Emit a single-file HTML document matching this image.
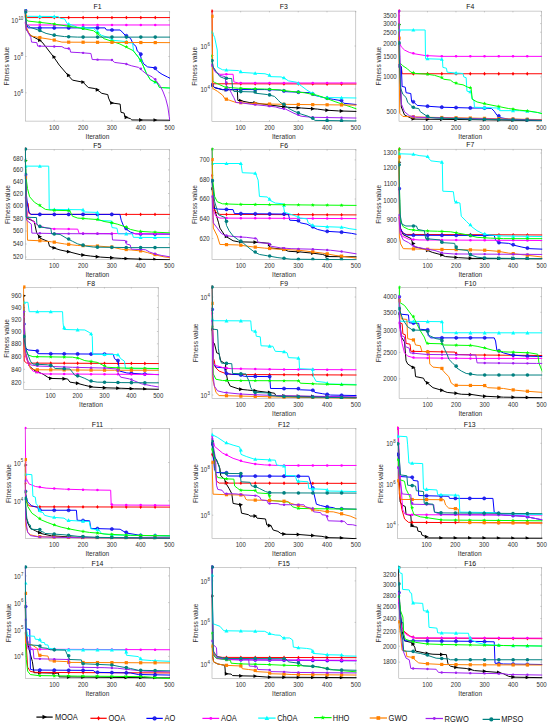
<!DOCTYPE html>
<html><head><meta charset="utf-8"><title>Convergence curves</title>
<style>html,body{margin:0;padding:0;background:#fff;}body{width:550px;height:727px;overflow:hidden;font-family:"Liberation Sans", sans-serif;}svg{display:block;}</style>
</head><body>
<svg width="550" height="727" viewBox="0 0 550 727" font-family='"Liberation Sans", sans-serif'>
<rect width="550" height="727" fill="#ffffff"/>
<clipPath id="c0"><rect x="24.7" y="9" width="145.5" height="112.7"/></clipPath>
<rect x="25.3" y="11.2" width="144.3" height="109.9" fill="none" stroke="#9a9a9a" stroke-width="0.5"/>
<text transform="translate(54.16 129.8) scale(1 1.08)" font-size="6.1" fill="#303030" text-anchor="middle">100</text>
<text transform="translate(83.02 129.8) scale(1 1.08)" font-size="6.1" fill="#303030" text-anchor="middle">200</text>
<text transform="translate(111.88 129.8) scale(1 1.08)" font-size="6.1" fill="#303030" text-anchor="middle">300</text>
<text transform="translate(140.74 129.8) scale(1 1.08)" font-size="6.1" fill="#303030" text-anchor="middle">400</text>
<text transform="translate(169.6 129.8) scale(1 1.08)" font-size="6.1" fill="#303030" text-anchor="middle">500</text>
<text transform="translate(18.11 23.3) scale(1 1.08)" font-size="6.1" fill="#303030" text-anchor="end">10</text>
<text transform="translate(18.41 20.1) scale(1 1.08)" font-size="4.4" fill="#303030" text-anchor="start">10</text>
<text transform="translate(20.55 59.5) scale(1 1.08)" font-size="6.1" fill="#303030" text-anchor="end">10</text>
<text transform="translate(20.85 56.3) scale(1 1.08)" font-size="4.4" fill="#303030" text-anchor="start">8</text>
<text transform="translate(20.55 95.8) scale(1 1.08)" font-size="6.1" fill="#303030" text-anchor="end">10</text>
<text transform="translate(20.85 92.6) scale(1 1.08)" font-size="4.4" fill="#303030" text-anchor="start">6</text>
<path d="M54.16 121.1v-1.3M54.16 11.2v1.3M83.02 121.1v-1.3M83.02 11.2v1.3M111.88 121.1v-1.3M111.88 11.2v1.3M140.74 121.1v-1.3M140.74 11.2v1.3M169.6 121.1v-1.3M169.6 11.2v1.3M25.3 20.3h1.3M169.6 20.3h-1.3M25.3 56.5h1.3M169.6 56.5h-1.3M25.3 92.8h1.3M169.6 92.8h-1.3" stroke="#9a9a9a" stroke-width="0.5" fill="none"/>
<text transform="translate(97.45 9.4) scale(1 1.08)" font-size="6.9" fill="#111" text-anchor="middle">F1</text>
<text transform="translate(97.45 138.5) scale(1 1.08)" font-size="6.6" fill="#303030" text-anchor="middle">Iteration</text>
<text transform="translate(8.7 66.15) rotate(-90)" font-size="6.6" fill="#303030" text-anchor="middle">Fitness value</text>
<g clip-path="url(#c0)" fill="none" stroke-linejoin="miter" stroke-miterlimit="2.5">
<path d="M25 11L26.32 29.47L30.27 35.27L38.18 39.49L42.14 42.13L54 57.43L59.27 65.08L67.18 74.31L72.45 80.11L83 82.22L88.27 87.5L94.86 88.55L99.08 91.19L101.72 93.3L107.78 94.62L108.57 98.05L110.68 102.8L120.17 104.12L120.96 112.29L124.13 113.09L124.92 117.04L130.45 118.63L131.77 119.94L170 120.21" stroke="#000000" stroke-width="1.0"/>
<path d="M23.63 9.05L27.53 11L23.63 12.95Z" fill="#000000"/><path d="M38.06 38.19L41.96 40.14L38.06 42.09Z" fill="#000000"/><path d="M52.49 54.94L56.39 56.89L52.49 58.84Z" fill="#000000"/><path d="M66.92 73.28L70.82 75.23L66.92 77.18Z" fill="#000000"/><path d="M81.35 80.16L85.25 82.11L81.35 84.06Z" fill="#000000"/><path d="M95.78 87.86L99.68 89.81L95.78 91.76Z" fill="#000000"/><path d="M110.21 100.94L114.11 102.89L110.21 104.84Z" fill="#000000"/><path d="M124.64 115.33L128.54 117.28L124.64 119.23Z" fill="#000000"/><path d="M139.07 118.05L142.97 120L139.07 121.95Z" fill="#000000"/><path d="M153.5 118.15L157.4 120.1L153.5 122.05Z" fill="#000000"/>
<path d="M25 11L25.79 16.28L27.11 17.59L170 17.59" stroke="#ff0000" stroke-width="1.0"/>
<path d="M25.39 9.1L26.69 11L25.39 12.9L24.09 11Z" fill="#ff0000"/><path d="M39.82 15.69L41.12 17.59L39.82 19.49L38.52 17.59Z" fill="#ff0000"/><path d="M54.25 15.69L55.55 17.59L54.25 19.49L52.95 17.59Z" fill="#ff0000"/><path d="M68.68 15.69L69.98 17.59L68.68 19.49L67.38 17.59Z" fill="#ff0000"/><path d="M83.11 15.69L84.41 17.59L83.11 19.49L81.81 17.59Z" fill="#ff0000"/><path d="M97.54 15.69L98.84 17.59L97.54 19.49L96.24 17.59Z" fill="#ff0000"/><path d="M111.97 15.69L113.27 17.59L111.97 19.49L110.67 17.59Z" fill="#ff0000"/><path d="M126.4 15.69L127.7 17.59L126.4 19.49L125.1 17.59Z" fill="#ff0000"/><path d="M140.83 15.69L142.13 17.59L140.83 19.49L139.53 17.59Z" fill="#ff0000"/><path d="M155.26 15.69L156.56 17.59L155.26 19.49L153.96 17.59Z" fill="#ff0000"/>
<path d="M25 10.47L26.32 24.19L28.16 27.88L105.15 27.88L106.46 29.99L120.17 29.99L122.28 32.1L126.24 36.32L130.45 38.17L133.09 43.71L135.99 46.35L137.31 51.1L139.95 53.21L141.26 58.75L143.64 63.76L147.59 66.92L154.18 67.71L158.14 71.67L162.09 74.31L167.36 76.95L170 78.27" stroke="#0000ff" stroke-width="1.0"/>
<circle cx="25.39" cy="10.47" r="1.6" fill="#2828e0" stroke="#0000ff" stroke-width="0.5"/><circle cx="39.82" cy="27.88" r="1.6" fill="#2828e0" stroke="#0000ff" stroke-width="0.5"/><circle cx="54.25" cy="27.88" r="1.6" fill="#2828e0" stroke="#0000ff" stroke-width="0.5"/><circle cx="68.68" cy="27.88" r="1.6" fill="#2828e0" stroke="#0000ff" stroke-width="0.5"/><circle cx="83.11" cy="27.88" r="1.6" fill="#2828e0" stroke="#0000ff" stroke-width="0.5"/><circle cx="97.54" cy="27.88" r="1.6" fill="#2828e0" stroke="#0000ff" stroke-width="0.5"/><circle cx="111.97" cy="29.99" r="1.6" fill="#2828e0" stroke="#0000ff" stroke-width="0.5"/><circle cx="126.4" cy="35.79" r="1.6" fill="#2828e0" stroke="#0000ff" stroke-width="0.5"/><circle cx="140.83" cy="54.14" r="1.6" fill="#2828e0" stroke="#0000ff" stroke-width="0.5"/><circle cx="155.26" cy="68.13" r="1.6" fill="#2828e0" stroke="#0000ff" stroke-width="0.5"/>
<path d="M25 22.87L26.05 24.19L27.64 24.98L170 24.98" stroke="#ff00ff" stroke-width="1.0"/>
<circle cx="25.39" cy="22.87" r="1.25" fill="#ff00ff"/><circle cx="39.82" cy="24.98" r="1.25" fill="#ff00ff"/><circle cx="54.25" cy="24.98" r="1.25" fill="#ff00ff"/><circle cx="68.68" cy="24.98" r="1.25" fill="#ff00ff"/><circle cx="83.11" cy="24.98" r="1.25" fill="#ff00ff"/><circle cx="97.54" cy="24.98" r="1.25" fill="#ff00ff"/><circle cx="111.97" cy="24.98" r="1.25" fill="#ff00ff"/><circle cx="126.4" cy="24.98" r="1.25" fill="#ff00ff"/><circle cx="140.83" cy="24.98" r="1.25" fill="#ff00ff"/><circle cx="155.26" cy="24.98" r="1.25" fill="#ff00ff"/>
<path d="M25 11L26.05 16.28L57.95 16.54L60.59 18.39L64.55 18.91L67.18 23.66L71.14 24.72L77.73 27.35L93.55 28.41L97.5 32.1L101.45 35.27L108.57 37.64L112.79 40.28L126.24 41.6L128.35 42.92L132.56 42.92L133.62 51.1L138.36 57.16L142.32 63.76L146.27 72.99L150.23 79.59L154.18 81.7L156.82 82.22L159.45 87.5L170 88.03" stroke="#00ffff" stroke-width="1.0"/>
<path d="M25.39 9L27.39 12.6L23.39 12.6Z" fill="#00ffff"/><path d="M39.82 14.38L41.82 17.98L37.82 17.98Z" fill="#00ffff"/><path d="M54.25 14.5L56.25 18.1L52.25 18.1Z" fill="#00ffff"/><path d="M68.68 21.88L70.68 25.48L66.68 25.48Z" fill="#00ffff"/><path d="M83.11 25.67L85.11 29.27L81.11 29.27Z" fill="#00ffff"/><path d="M97.54 29.52L99.54 33.12L95.54 33.12Z" fill="#00ffff"/><path d="M111.97 37.35L113.97 40.95L109.97 40.95Z" fill="#00ffff"/><path d="M126.4 39.55L128.4 43.15L124.4 43.15Z" fill="#00ffff"/><path d="M140.83 58.17L142.83 61.77L138.83 61.77Z" fill="#00ffff"/><path d="M155.26 79.78L157.26 83.38L153.26 83.38Z" fill="#00ffff"/>
<path d="M25 11L26.32 18.91L27.64 21.02L51.36 23.66L77.73 27.62L93.55 30.78L98.82 34.74L104.09 38.7L112 41.34L119.91 43.97L127.82 47.93L133.09 50.57L138.36 57.16L142.32 63.76L146.27 72.99L150.23 79.59L154.18 81.7L156.82 82.22L159.45 87.5L170 88.03" stroke="#00ff00" stroke-width="1.0"/>
<path d="M25.39 8.9L25.92 10.27L27.38 10.35L26.24 11.28L26.62 12.7L25.39 11.9L24.15 12.7L24.53 11.28L23.39 10.35L24.86 10.27Z" fill="#00ff00"/><path d="M39.82 20.2L40.35 21.58L41.81 21.66L40.67 22.58L41.05 24L39.82 23.2L38.58 24L38.96 22.58L37.82 21.66L39.29 21.58Z" fill="#00ff00"/><path d="M54.25 21.9L54.78 23.27L56.24 23.35L55.1 24.27L55.48 25.69L54.25 24.9L53.01 25.69L53.39 24.27L52.25 23.35L53.72 23.27Z" fill="#00ff00"/><path d="M68.68 24.06L69.21 25.43L70.67 25.51L69.53 26.44L69.91 27.86L68.68 27.06L67.44 27.86L67.82 26.44L66.68 25.51L68.15 25.43Z" fill="#00ff00"/><path d="M83.11 26.46L83.64 27.84L85.1 27.91L83.96 28.84L84.34 30.26L83.11 29.46L81.87 30.26L82.25 28.84L81.11 27.91L82.58 27.84Z" fill="#00ff00"/><path d="M97.54 31.18L98.07 32.56L99.53 32.64L98.39 33.56L98.77 34.98L97.54 34.18L96.3 34.98L96.68 33.56L95.54 32.64L97.01 32.56Z" fill="#00ff00"/><path d="M111.97 39L112.5 40.38L113.96 40.46L112.82 41.38L113.2 42.8L111.97 42L110.73 42.8L111.11 41.38L109.97 40.46L111.44 40.38Z" fill="#00ff00"/><path d="M126.4 44.79L126.93 46.16L128.39 46.24L127.25 47.17L127.63 48.59L126.4 47.79L125.16 48.59L125.54 47.17L124.4 46.24L125.87 46.16Z" fill="#00ff00"/><path d="M140.83 58.07L141.36 59.44L142.82 59.52L141.68 60.45L142.06 61.87L140.83 61.07L139.59 61.87L139.97 60.45L138.83 59.52L140.3 59.44Z" fill="#00ff00"/><path d="M155.26 79.68L155.79 81.05L157.25 81.13L156.11 82.06L156.49 83.48L155.26 82.68L154.02 83.48L154.4 82.06L153.26 81.13L154.73 81.05Z" fill="#00ff00"/>
<path d="M25 16.01L26.32 26.83L28.95 33.42L31.59 36.06L38.18 37.38L51.36 39.49L61.91 42.13L170 42.65" stroke="#ff8000" stroke-width="1.0"/>
<rect x="23.79" y="14.41" width="3.2" height="3.2" fill="#ff8000"/><rect x="38.22" y="35.94" width="3.2" height="3.2" fill="#ff8000"/><rect x="52.65" y="38.45" width="3.2" height="3.2" fill="#ff8000"/><rect x="67.08" y="40.56" width="3.2" height="3.2" fill="#ff8000"/><rect x="81.51" y="40.63" width="3.2" height="3.2" fill="#ff8000"/><rect x="95.94" y="40.7" width="3.2" height="3.2" fill="#ff8000"/><rect x="110.37" y="40.77" width="3.2" height="3.2" fill="#ff8000"/><rect x="124.8" y="40.84" width="3.2" height="3.2" fill="#ff8000"/><rect x="139.23" y="40.91" width="3.2" height="3.2" fill="#ff8000"/><rect x="153.66" y="40.98" width="3.2" height="3.2" fill="#ff8000"/>
<path d="M25 11L26.32 29.47L30.8 37.38L31.59 42.13L36.86 42.65L37.65 46.08L61.91 46.61L64.55 48.19L69.82 48.72L70.61 52.15L80.36 52.68L90.91 53.47L92.23 59.54L112 60.06L114.64 62.44L125.18 63.76L131.77 65.87L138.63 67.45L142.58 70.88L146.8 74.31L152.34 76.95L156.29 80.9L160.51 86.44L163.15 91.98L165.78 98.84L167.89 107.02L169.21 116.52L169.74 119.94" stroke="#a020f0" stroke-width="1.0"/>
<circle cx="25.39" cy="11" r="1.2" fill="#a020f0"/><circle cx="39.82" cy="46.12" r="1.2" fill="#a020f0"/><circle cx="54.25" cy="46.43" r="1.2" fill="#a020f0"/><circle cx="68.68" cy="48.54" r="1.2" fill="#a020f0"/><circle cx="83.11" cy="52.84" r="1.2" fill="#a020f0"/><circle cx="97.54" cy="59.66" r="1.2" fill="#a020f0"/><circle cx="111.97" cy="60.05" r="1.2" fill="#a020f0"/><circle cx="126.4" cy="63.94" r="1.2" fill="#a020f0"/><circle cx="140.83" cy="68.79" r="1.2" fill="#a020f0"/><circle cx="155.26" cy="79.21" r="1.2" fill="#a020f0"/>
<path d="M25 12.32L26.32 24.19L30.27 27.35L38.18 29.99L46.09 33.42L54 35.27L64.55 36.59L77.73 37.12L170 37.12" stroke="#008080" stroke-width="1.0"/>
<circle cx="25.39" cy="12.32" r="1.8" fill="#008080"/><circle cx="39.82" cy="30.42" r="1.8" fill="#008080"/><circle cx="54.25" cy="35.17" r="1.8" fill="#008080"/><circle cx="68.68" cy="36.73" r="1.8" fill="#008080"/><circle cx="83.11" cy="37.12" r="1.8" fill="#008080"/><circle cx="97.54" cy="37.12" r="1.8" fill="#008080"/><circle cx="111.97" cy="37.12" r="1.8" fill="#008080"/><circle cx="126.4" cy="37.12" r="1.8" fill="#008080"/><circle cx="140.83" cy="37.12" r="1.8" fill="#008080"/><circle cx="155.26" cy="37.12" r="1.8" fill="#008080"/>
</g>
<clipPath id="c1"><rect x="211.3" y="8.9" width="145.1" height="113.1"/></clipPath>
<rect x="211.9" y="11.1" width="143.9" height="110.3" fill="none" stroke="#9a9a9a" stroke-width="0.5"/>
<text transform="translate(240.68 130.1) scale(1 1.08)" font-size="6.1" fill="#303030" text-anchor="middle">100</text>
<text transform="translate(269.46 130.1) scale(1 1.08)" font-size="6.1" fill="#303030" text-anchor="middle">200</text>
<text transform="translate(298.24 130.1) scale(1 1.08)" font-size="6.1" fill="#303030" text-anchor="middle">300</text>
<text transform="translate(327.02 130.1) scale(1 1.08)" font-size="6.1" fill="#303030" text-anchor="middle">400</text>
<text transform="translate(355.8 130.1) scale(1 1.08)" font-size="6.1" fill="#303030" text-anchor="middle">500</text>
<text transform="translate(207.15 49) scale(1 1.08)" font-size="6.1" fill="#303030" text-anchor="end">10</text>
<text transform="translate(207.45 45.8) scale(1 1.08)" font-size="4.4" fill="#303030" text-anchor="start">6</text>
<text transform="translate(207.15 92) scale(1 1.08)" font-size="6.1" fill="#303030" text-anchor="end">10</text>
<text transform="translate(207.45 88.8) scale(1 1.08)" font-size="4.4" fill="#303030" text-anchor="start">4</text>
<path d="M240.68 121.4v-1.3M240.68 11.1v1.3M269.46 121.4v-1.3M269.46 11.1v1.3M298.24 121.4v-1.3M298.24 11.1v1.3M327.02 121.4v-1.3M327.02 11.1v1.3M355.8 121.4v-1.3M355.8 11.1v1.3M211.9 46h1.3M355.8 46h-1.3M211.9 89h1.3M355.8 89h-1.3" stroke="#9a9a9a" stroke-width="0.5" fill="none"/>
<text transform="translate(283.85 9.3) scale(1 1.08)" font-size="6.9" fill="#111" text-anchor="middle">F3</text>
<text transform="translate(283.85 138.8) scale(1 1.08)" font-size="6.6" fill="#303030" text-anchor="middle">Iteration</text>
<text transform="translate(197.4 66.25) rotate(-90)" font-size="6.6" fill="#303030" text-anchor="middle">Fitness value</text>
<g clip-path="url(#c1)" fill="none" stroke-linejoin="miter" stroke-miterlimit="2.5">
<path d="M212 85.09L214.64 87.72L222.55 89.7L237.31 89.83L237.84 100.38L242.58 101.17L249.17 102.49L255.76 103.02L264.99 104.33L285.03 106.97L291.09 107.5L301.64 108.03L317.45 109.08L325.36 110.14L338.55 110.93L357 111.45" stroke="#000000" stroke-width="1.0"/>
<path d="M210.23 83.14L214.13 85.09L210.23 87.04Z" fill="#000000"/><path d="M224.62 87.78L228.52 89.73L224.62 91.68Z" fill="#000000"/><path d="M239.01 98.81L242.91 100.76L239.01 102.71Z" fill="#000000"/><path d="M253.4 100.97L257.3 102.92L253.4 104.87Z" fill="#000000"/><path d="M267.79 102.9L271.69 104.85L267.79 106.8Z" fill="#000000"/><path d="M282.18 104.79L286.08 106.74L282.18 108.69Z" fill="#000000"/><path d="M296.57 105.88L300.47 107.83L296.57 109.78Z" fill="#000000"/><path d="M310.96 106.77L314.86 108.72L310.96 110.67Z" fill="#000000"/><path d="M325.35 108.25L329.25 110.2L325.35 112.15Z" fill="#000000"/><path d="M339.74 109.04L343.64 110.99L339.74 112.94Z" fill="#000000"/>
<path d="M212 11L212.79 83.77L357 84.03" stroke="#ff0000" stroke-width="1.0"/>
<path d="M211.99 9.1L213.29 11L211.99 12.9L210.69 11Z" fill="#ff0000"/><path d="M226.38 81.89L227.68 83.79L226.38 85.69L225.08 83.79Z" fill="#ff0000"/><path d="M240.77 81.92L242.07 83.82L240.77 85.72L239.47 83.82Z" fill="#ff0000"/><path d="M255.16 81.95L256.46 83.85L255.16 85.75L253.86 83.85Z" fill="#ff0000"/><path d="M269.55 81.97L270.85 83.87L269.55 85.77L268.25 83.87Z" fill="#ff0000"/><path d="M283.94 82L285.24 83.9L283.94 85.8L282.64 83.9Z" fill="#ff0000"/><path d="M298.33 82.02L299.63 83.92L298.33 85.82L297.03 83.92Z" fill="#ff0000"/><path d="M312.72 82.05L314.02 83.95L312.72 85.85L311.42 83.95Z" fill="#ff0000"/><path d="M327.11 82.08L328.41 83.98L327.11 85.88L325.81 83.98Z" fill="#ff0000"/><path d="M341.5 82.1L342.8 84L341.5 85.9L340.2 84Z" fill="#ff0000"/>
<path d="M212 84.82L214.64 87.46L222.55 89.57L238.36 89.57L264.73 89.57L280.55 90.1L285.82 91.68L299 92.21L309.55 92.73L314.82 95.37L325.36 98.01L333.27 99.33L341.18 100.64L343.82 103.28L357 104.6" stroke="#0000ff" stroke-width="1.0"/>
<circle cx="211.99" cy="84.82" r="1.6" fill="#2828e0" stroke="#0000ff" stroke-width="0.5"/><circle cx="226.38" cy="89.57" r="1.6" fill="#2828e0" stroke="#0000ff" stroke-width="0.5"/><circle cx="240.77" cy="89.57" r="1.6" fill="#2828e0" stroke="#0000ff" stroke-width="0.5"/><circle cx="255.16" cy="89.57" r="1.6" fill="#2828e0" stroke="#0000ff" stroke-width="0.5"/><circle cx="269.55" cy="89.71" r="1.6" fill="#2828e0" stroke="#0000ff" stroke-width="0.5"/><circle cx="283.94" cy="90.92" r="1.6" fill="#2828e0" stroke="#0000ff" stroke-width="0.5"/><circle cx="298.33" cy="92.15" r="1.6" fill="#2828e0" stroke="#0000ff" stroke-width="0.5"/><circle cx="312.72" cy="93.99" r="1.6" fill="#2828e0" stroke="#0000ff" stroke-width="0.5"/><circle cx="327.11" cy="98.19" r="1.6" fill="#2828e0" stroke="#0000ff" stroke-width="0.5"/><circle cx="341.5" cy="100.59" r="1.6" fill="#2828e0" stroke="#0000ff" stroke-width="0.5"/>
<path d="M212 65.84L215.95 72.43L219.91 74.28L233.09 74.28L233.88 81.92L238.36 82.98L357 82.98" stroke="#ff00ff" stroke-width="1.0"/>
<circle cx="211.99" cy="65.84" r="1.25" fill="#ff00ff"/><circle cx="226.38" cy="74.28" r="1.25" fill="#ff00ff"/><circle cx="240.77" cy="82.98" r="1.25" fill="#ff00ff"/><circle cx="255.16" cy="82.98" r="1.25" fill="#ff00ff"/><circle cx="269.55" cy="82.98" r="1.25" fill="#ff00ff"/><circle cx="283.94" cy="82.98" r="1.25" fill="#ff00ff"/><circle cx="298.33" cy="82.98" r="1.25" fill="#ff00ff"/><circle cx="312.72" cy="82.98" r="1.25" fill="#ff00ff"/><circle cx="327.11" cy="82.98" r="1.25" fill="#ff00ff"/><circle cx="341.5" cy="82.98" r="1.25" fill="#ff00ff"/>
<path d="M212 32.09L214.64 37.37L217.27 50.02L217.54 67.16L222.55 69.8L226.5 70.06L238.36 70.59L241.79 72.43L254.45 73.22L264.99 73.75L268.95 75.07L270.26 76.65L281.07 76.91L284.5 78.23L288.45 80.87L296.36 82.19L301.64 86.14L306.91 90.1L312.18 93.26L317.45 95.9L322.73 97.48L357 98.01" stroke="#00ffff" stroke-width="1.0"/>
<path d="M211.99 30.09L213.99 33.69L209.99 33.69Z" fill="#00ffff"/><path d="M226.38 68.01L228.38 71.61L224.38 71.61Z" fill="#00ffff"/><path d="M240.77 69.53L242.77 73.13L238.77 73.13Z" fill="#00ffff"/><path d="M255.16 71.23L257.16 74.83L253.16 74.83Z" fill="#00ffff"/><path d="M269.55 73.05L271.55 76.65L267.55 76.65Z" fill="#00ffff"/><path d="M283.94 75.76L285.94 79.36L281.94 79.36Z" fill="#00ffff"/><path d="M298.33 81.17L300.33 84.77L296.33 84.77Z" fill="#00ffff"/><path d="M312.72 91.19L314.72 94.79L310.72 94.79Z" fill="#00ffff"/><path d="M327.11 95.54L329.11 99.14L325.11 99.14Z" fill="#00ffff"/><path d="M341.5 95.76L343.5 99.36L339.5 99.36Z" fill="#00ffff"/>
<path d="M212 55.82L212.79 80.61L214.64 82.45L219.91 84.82L225.18 87.2L238.36 88.25L251.55 88.78L264.73 89.04L277.91 89.83L291.09 91.42L304.27 92.73L317.45 95.37L325.36 98.01L335.91 101.96L343.82 104.6L351.73 107.24L357 109.08" stroke="#00ff00" stroke-width="1.0"/>
<path d="M211.99 53.72L212.52 55.09L213.98 55.17L212.84 56.1L213.22 57.52L211.99 56.72L210.75 57.52L211.13 56.1L209.99 55.17L211.46 55.09Z" fill="#00ff00"/><path d="M226.38 85.14L226.91 86.51L228.37 86.59L227.23 87.52L227.61 88.94L226.38 88.14L225.14 88.94L225.52 87.52L224.38 86.59L225.85 86.51Z" fill="#00ff00"/><path d="M240.77 86.22L241.3 87.59L242.76 87.67L241.62 88.6L242 90.02L240.77 89.22L239.53 90.02L239.91 88.6L238.77 87.67L240.24 87.59Z" fill="#00ff00"/><path d="M255.16 86.74L255.69 88.11L257.15 88.19L256.01 89.12L256.39 90.54L255.16 89.74L253.92 90.54L254.3 89.12L253.16 88.19L254.63 88.11Z" fill="#00ff00"/><path d="M269.55 87.19L270.08 88.56L271.54 88.64L270.4 89.57L270.78 90.99L269.55 90.19L268.31 90.99L268.69 89.57L267.55 88.64L269.02 88.56Z" fill="#00ff00"/><path d="M283.94 88.38L284.47 89.75L285.93 89.83L284.79 90.76L285.17 92.18L283.94 91.38L282.7 92.18L283.08 90.76L281.94 89.83L283.41 89.75Z" fill="#00ff00"/><path d="M298.33 89.97L298.86 91.35L300.32 91.42L299.18 92.35L299.56 93.77L298.33 92.97L297.09 93.77L297.47 92.35L296.33 91.42L297.8 91.35Z" fill="#00ff00"/><path d="M312.72 92.19L313.25 93.56L314.71 93.64L313.57 94.57L313.95 95.99L312.72 95.19L311.48 95.99L311.86 94.57L310.72 93.64L312.19 93.56Z" fill="#00ff00"/><path d="M327.11 96.31L327.64 97.69L329.1 97.76L327.96 98.69L328.34 100.11L327.11 99.31L325.87 100.11L326.25 98.69L325.11 97.76L326.58 97.69Z" fill="#00ff00"/><path d="M341.5 101.5L342.03 102.88L343.49 102.96L342.35 103.88L342.73 105.3L341.5 104.5L340.26 105.3L340.64 103.88L339.5 102.96L340.97 102.88Z" fill="#00ff00"/>
<path d="M212 16.27L212.79 88.52L217.27 91.15L222.55 95.11L225.18 99.06L229.14 100.12L235.99 102.49L245.22 103.02L255.76 103.81L285.03 104.33L357 105.13" stroke="#ff8000" stroke-width="1.0"/>
<rect x="210.39" y="14.67" width="3.2" height="3.2" fill="#ff8000"/><rect x="224.78" y="97.6" width="3.2" height="3.2" fill="#ff8000"/><rect x="239.17" y="101.12" width="3.2" height="3.2" fill="#ff8000"/><rect x="253.56" y="102.11" width="3.2" height="3.2" fill="#ff8000"/><rect x="267.95" y="102.44" width="3.2" height="3.2" fill="#ff8000"/><rect x="282.34" y="102.7" width="3.2" height="3.2" fill="#ff8000"/><rect x="296.73" y="102.87" width="3.2" height="3.2" fill="#ff8000"/><rect x="311.12" y="103.03" width="3.2" height="3.2" fill="#ff8000"/><rect x="325.51" y="103.19" width="3.2" height="3.2" fill="#ff8000"/><rect x="339.9" y="103.35" width="3.2" height="3.2" fill="#ff8000"/>
<path d="M212 64.52L214.64 71.11L219.91 75.33L225.18 76.65L225.97 85.09L229.14 88.52L231.77 93.79L233.88 97.74L235.99 102.49L242.58 103.02L251.81 104.33L264.99 105.65L275.8 106.97L280.02 108.29L285.55 109.08L293.99 113.3L301.11 116.2L310.86 117.25L357 118.05" stroke="#a020f0" stroke-width="1.0"/>
<circle cx="211.99" cy="64.52" r="1.2" fill="#a020f0"/><circle cx="226.38" cy="82.36" r="1.2" fill="#a020f0"/><circle cx="240.77" cy="102.82" r="1.2" fill="#a020f0"/><circle cx="255.16" cy="104.6" r="1.2" fill="#a020f0"/><circle cx="269.55" cy="106.13" r="1.2" fill="#a020f0"/><circle cx="283.94" cy="108.76" r="1.2" fill="#a020f0"/><circle cx="298.33" cy="114.8" r="1.2" fill="#a020f0"/><circle cx="312.72" cy="117.27" r="1.2" fill="#a020f0"/><circle cx="327.11" cy="117.52" r="1.2" fill="#a020f0"/><circle cx="341.5" cy="117.77" r="1.2" fill="#a020f0"/>
<path d="M212 60.57L213.32 67.16L215.95 71.11L219.91 76.65L223.86 78.23L231.77 78.5L232.56 88.52L233.88 91.42L254.45 91.94L255.76 93.26L267.63 94.58L274.48 96.43L278.44 100.38L280.02 102.23L284.24 104.86L288.45 108.29L293.99 111.19L301.11 114.09L307.96 116.2L312.18 118.31L315.08 120.42L357 120.95" stroke="#008080" stroke-width="1.0"/>
<circle cx="211.99" cy="60.57" r="1.8" fill="#008080"/><circle cx="226.38" cy="78.29" r="1.8" fill="#008080"/><circle cx="240.77" cy="91.58" r="1.8" fill="#008080"/><circle cx="255.16" cy="91.99" r="1.8" fill="#008080"/><circle cx="269.55" cy="94.92" r="1.8" fill="#008080"/><circle cx="283.94" cy="104.26" r="1.8" fill="#008080"/><circle cx="298.33" cy="112.69" r="1.8" fill="#008080"/><circle cx="312.72" cy="118.25" r="1.8" fill="#008080"/><circle cx="327.11" cy="120.56" r="1.8" fill="#008080"/><circle cx="341.5" cy="120.74" r="1.8" fill="#008080"/>
</g>
<clipPath id="c2"><rect x="398.4" y="8.9" width="143.6" height="112.9"/></clipPath>
<rect x="399" y="11.1" width="142.4" height="110.1" fill="none" stroke="#9a9a9a" stroke-width="0.5"/>
<text transform="translate(427.48 129.9) scale(1 1.08)" font-size="6.1" fill="#303030" text-anchor="middle">100</text>
<text transform="translate(455.96 129.9) scale(1 1.08)" font-size="6.1" fill="#303030" text-anchor="middle">200</text>
<text transform="translate(484.44 129.9) scale(1 1.08)" font-size="6.1" fill="#303030" text-anchor="middle">300</text>
<text transform="translate(512.92 129.9) scale(1 1.08)" font-size="6.1" fill="#303030" text-anchor="middle">400</text>
<text transform="translate(541.4 129.9) scale(1 1.08)" font-size="6.1" fill="#303030" text-anchor="middle">500</text>
<text transform="translate(396.7 18.05) scale(1 1.08)" font-size="6.1" fill="#303030" text-anchor="end">3500</text>
<text transform="translate(396.7 25.95) scale(1 1.08)" font-size="6.1" fill="#303030" text-anchor="end">3000</text>
<text transform="translate(396.7 34.55) scale(1 1.08)" font-size="6.1" fill="#303030" text-anchor="end">2500</text>
<text transform="translate(396.7 45.65) scale(1 1.08)" font-size="6.1" fill="#303030" text-anchor="end">2000</text>
<text transform="translate(396.7 58.65) scale(1 1.08)" font-size="6.1" fill="#303030" text-anchor="end">1500</text>
<text transform="translate(396.7 79.25) scale(1 1.08)" font-size="6.1" fill="#303030" text-anchor="end">1000</text>
<text transform="translate(396.7 113.55) scale(1 1.08)" font-size="6.1" fill="#303030" text-anchor="end">500</text>
<path d="M427.48 121.2v-1.3M427.48 11.1v1.3M455.96 121.2v-1.3M455.96 11.1v1.3M484.44 121.2v-1.3M484.44 11.1v1.3M512.92 121.2v-1.3M512.92 11.1v1.3M541.4 121.2v-1.3M541.4 11.1v1.3M399 15.7h1.3M541.4 15.7h-1.3M399 23.6h1.3M541.4 23.6h-1.3M399 32.2h1.3M541.4 32.2h-1.3M399 43.3h1.3M541.4 43.3h-1.3M399 56.3h1.3M541.4 56.3h-1.3M399 76.9h1.3M541.4 76.9h-1.3M399 111.2h1.3M541.4 111.2h-1.3" stroke="#9a9a9a" stroke-width="0.5" fill="none"/>
<text transform="translate(470.2 9.3) scale(1 1.08)" font-size="6.9" fill="#111" text-anchor="middle">F4</text>
<text transform="translate(470.2 138.6) scale(1 1.08)" font-size="6.6" fill="#303030" text-anchor="middle">Iteration</text>
<text transform="translate(381.3 66.15) rotate(-90)" font-size="6.6" fill="#303030" text-anchor="middle">Fitness value</text>
<g clip-path="url(#c2)" fill="none" stroke-linejoin="miter" stroke-miterlimit="2.5">
<path d="M398.79 24.71L399.42 63.73L401.32 106.97L404.49 114.88L410.81 118.05L413.19 119.1L471.82 119.63L543 120.68" stroke="#000000" stroke-width="1.0"/>
<path d="M397.33 22.76L401.23 24.71L397.33 26.66Z" fill="#000000"/><path d="M411.57 116.92L415.47 118.87L411.57 120.82Z" fill="#000000"/><path d="M425.81 117.27L429.71 119.22L425.81 121.17Z" fill="#000000"/><path d="M440.05 117.4L443.95 119.35L440.05 121.3Z" fill="#000000"/><path d="M454.29 117.53L458.19 119.48L454.29 121.43Z" fill="#000000"/><path d="M468.53 117.66L472.43 119.61L468.53 121.56Z" fill="#000000"/><path d="M482.77 117.86L486.67 119.81L482.77 121.76Z" fill="#000000"/><path d="M497.01 118.07L500.91 120.02L497.01 121.97Z" fill="#000000"/><path d="M511.25 118.28L515.15 120.23L511.25 122.18Z" fill="#000000"/><path d="M525.49 118.49L529.39 120.44L525.49 122.39Z" fill="#000000"/>
<path d="M398.79 11L399.32 65.05L401.32 66.63L402.11 73.75L543 73.75" stroke="#ff0000" stroke-width="1.0"/>
<path d="M399.09 9.1L400.39 11L399.09 12.9L397.79 11Z" fill="#ff0000"/><path d="M413.33 71.85L414.63 73.75L413.33 75.65L412.03 73.75Z" fill="#ff0000"/><path d="M427.57 71.85L428.87 73.75L427.57 75.65L426.27 73.75Z" fill="#ff0000"/><path d="M441.81 71.85L443.11 73.75L441.81 75.65L440.51 73.75Z" fill="#ff0000"/><path d="M456.05 71.85L457.35 73.75L456.05 75.65L454.75 73.75Z" fill="#ff0000"/><path d="M470.29 71.85L471.59 73.75L470.29 75.65L468.99 73.75Z" fill="#ff0000"/><path d="M484.53 71.85L485.83 73.75L484.53 75.65L483.23 73.75Z" fill="#ff0000"/><path d="M498.77 71.85L500.07 73.75L498.77 75.65L497.47 73.75Z" fill="#ff0000"/><path d="M513.01 71.85L514.31 73.75L513.01 75.65L511.71 73.75Z" fill="#ff0000"/><path d="M527.25 71.85L528.55 73.75L527.25 75.65L525.95 73.75Z" fill="#ff0000"/>
<path d="M398.79 65.84L401.32 66.63L402.11 86.41L405.28 87.2L406.07 92.73L410.81 93.52L411.6 101.43L413.98 102.23L417.14 105.39L426.63 106.18L442.42 107.24L471.82 108.03L485 108.03L491.59 108.55L494.23 111.19L496.86 115.14L500.82 117.78L508.73 119.1L543 120.15" stroke="#0000ff" stroke-width="1.0"/>
<circle cx="399.09" cy="65.84" r="1.6" fill="#2828e0" stroke="#0000ff" stroke-width="0.5"/><circle cx="413.33" cy="101.79" r="1.6" fill="#2828e0" stroke="#0000ff" stroke-width="0.5"/><circle cx="427.57" cy="106.2" r="1.6" fill="#2828e0" stroke="#0000ff" stroke-width="0.5"/><circle cx="441.81" cy="107.15" r="1.6" fill="#2828e0" stroke="#0000ff" stroke-width="0.5"/><circle cx="456.05" cy="107.58" r="1.6" fill="#2828e0" stroke="#0000ff" stroke-width="0.5"/><circle cx="470.29" cy="107.97" r="1.6" fill="#2828e0" stroke="#0000ff" stroke-width="0.5"/><circle cx="484.53" cy="108.03" r="1.6" fill="#2828e0" stroke="#0000ff" stroke-width="0.5"/><circle cx="498.77" cy="115.97" r="1.6" fill="#2828e0" stroke="#0000ff" stroke-width="0.5"/><circle cx="513.01" cy="119.21" r="1.6" fill="#2828e0" stroke="#0000ff" stroke-width="0.5"/><circle cx="527.25" cy="119.65" r="1.6" fill="#2828e0" stroke="#0000ff" stroke-width="0.5"/>
<path d="M398.79 11L399.42 42.9L401.32 46.86L404.49 50.02L409.23 52.39L413.98 53.71L425.05 55.56L442.42 56.35L543 56.35" stroke="#ff00ff" stroke-width="1.0"/>
<circle cx="399.09" cy="11" r="1.25" fill="#ff00ff"/><circle cx="413.33" cy="53.35" r="1.25" fill="#ff00ff"/><circle cx="427.57" cy="55.64" r="1.25" fill="#ff00ff"/><circle cx="441.81" cy="56.29" r="1.25" fill="#ff00ff"/><circle cx="456.05" cy="56.35" r="1.25" fill="#ff00ff"/><circle cx="470.29" cy="56.35" r="1.25" fill="#ff00ff"/><circle cx="484.53" cy="56.35" r="1.25" fill="#ff00ff"/><circle cx="498.77" cy="56.35" r="1.25" fill="#ff00ff"/><circle cx="513.01" cy="56.35" r="1.25" fill="#ff00ff"/><circle cx="527.25" cy="56.35" r="1.25" fill="#ff00ff"/>
<path d="M398.79 29.98L425.15 29.98L425.52 58.72L442.42 59.25L442.9 67.42L446.38 68.21L447.17 72.17L455.08 72.96L462.99 73.49L463.78 76.91L466.15 77.71L466.94 91.15L470.9 91.94L472 99.06L473.93 99.85L474.45 107.24L498.18 108.03L499.5 110.66L511.36 110.66L519.27 110.66L529.82 111.45L537.73 112.51L543 113.83" stroke="#00ffff" stroke-width="1.0"/>
<path d="M399.09 27.98L401.09 31.58L397.09 31.58Z" fill="#00ffff"/><path d="M413.33 27.98L415.33 31.58L411.33 31.58Z" fill="#00ffff"/><path d="M427.57 56.77L429.57 60.37L425.57 60.37Z" fill="#00ffff"/><path d="M441.81 57.21L443.81 60.81L439.81 60.81Z" fill="#00ffff"/><path d="M456.05 70.98L458.05 74.58L454.05 74.58Z" fill="#00ffff"/><path d="M470.29 89.69L472.29 93.29L468.29 93.29Z" fill="#00ffff"/><path d="M484.53 105.55L486.53 109.15L482.53 109.15Z" fill="#00ffff"/><path d="M498.77 106.02L500.77 109.62L496.77 109.62Z" fill="#00ffff"/><path d="M513.01 108.66L515.01 112.26L511.01 112.26Z" fill="#00ffff"/><path d="M527.25 109.21L529.25 112.81L525.25 112.81Z" fill="#00ffff"/>
<path d="M398.79 24.71L399.74 62.68L402.9 65.84L407.65 69L410.81 72.17L415.56 73.49L426.63 74.15L434.51 75.33L440.84 77.31L444 79.29L450.33 80.08L453.5 82.45L458.24 84.03L462.99 84.82L467.73 87.2L471.03 87.99L472.35 99.33L477.09 101.96L485 103.81L498.18 106.44L508.73 108.55L519.27 110.14L529.82 111.19L537.73 112.51L543 113.83" stroke="#00ff00" stroke-width="1.0"/>
<path d="M399.09 22.61L399.61 23.98L401.08 24.06L399.94 24.99L400.32 26.41L399.09 25.61L397.85 26.41L398.23 24.99L397.09 24.06L398.56 23.98Z" fill="#00ff00"/><path d="M413.33 70.58L413.85 71.96L415.32 72.03L414.18 72.96L414.56 74.38L413.33 73.58L412.09 74.38L412.47 72.96L411.33 72.03L412.8 71.96Z" fill="#00ff00"/><path d="M427.57 72.09L428.09 73.46L429.56 73.54L428.42 74.47L428.8 75.89L427.57 75.09L426.33 75.89L426.71 74.47L425.57 73.54L427.04 73.46Z" fill="#00ff00"/><path d="M441.81 75.4L442.33 76.77L443.8 76.85L442.66 77.78L443.04 79.2L441.81 78.4L440.57 79.2L440.95 77.78L439.81 76.85L441.28 76.77Z" fill="#00ff00"/><path d="M456.05 80.98L456.57 82.35L458.04 82.43L456.9 83.36L457.28 84.78L456.05 83.98L454.81 84.78L455.19 83.36L454.05 82.43L455.52 82.35Z" fill="#00ff00"/><path d="M470.29 85.55L470.81 86.92L472.28 87L471.14 87.93L471.52 89.35L470.29 88.55L469.05 89.35L469.43 87.93L468.29 87L469.76 86.92Z" fill="#00ff00"/><path d="M484.53 101.44L485.05 102.81L486.52 102.89L485.38 103.82L485.76 105.24L484.53 104.44L483.29 105.24L483.67 103.82L482.53 102.89L484 102.81Z" fill="#00ff00"/><path d="M498.77 104.33L499.29 105.7L500.76 105.78L499.62 106.71L500 108.13L498.77 107.33L497.53 108.13L497.91 106.71L496.77 105.78L498.24 105.7Z" fill="#00ff00"/><path d="M513.01 107L513.53 108.37L515 108.45L513.86 109.37L514.24 110.8L513.01 110L511.77 110.8L512.15 109.37L511.01 108.45L512.48 108.37Z" fill="#00ff00"/><path d="M527.25 108.77L527.77 110.14L529.24 110.22L528.1 111.14L528.48 112.57L527.25 111.77L526.01 112.57L526.39 111.14L525.25 110.22L526.72 110.14Z" fill="#00ff00"/>
<path d="M398.79 38.16L399.74 113.3L402.9 116.46L426.63 117.25L471.82 118.05L503.45 118.84L543 119.63" stroke="#ff8000" stroke-width="1.0"/>
<rect x="397.49" y="36.56" width="3.2" height="3.2" fill="#ff8000"/><rect x="411.73" y="115.19" width="3.2" height="3.2" fill="#ff8000"/><rect x="425.97" y="115.66" width="3.2" height="3.2" fill="#ff8000"/><rect x="440.21" y="115.91" width="3.2" height="3.2" fill="#ff8000"/><rect x="454.45" y="116.16" width="3.2" height="3.2" fill="#ff8000"/><rect x="468.69" y="116.41" width="3.2" height="3.2" fill="#ff8000"/><rect x="482.93" y="116.75" width="3.2" height="3.2" fill="#ff8000"/><rect x="497.17" y="117.1" width="3.2" height="3.2" fill="#ff8000"/><rect x="511.41" y="117.41" width="3.2" height="3.2" fill="#ff8000"/><rect x="525.65" y="117.7" width="3.2" height="3.2" fill="#ff8000"/>
<path d="M398.79 11L401.32 103.81L404.49 111.72L409.23 115.67L415.56 117.25L471.82 118.57L543 120.15" stroke="#a020f0" stroke-width="1.0"/>
<circle cx="399.09" cy="11" r="1.2" fill="#a020f0"/><circle cx="413.33" cy="116.53" r="1.2" fill="#a020f0"/><circle cx="427.57" cy="117.52" r="1.2" fill="#a020f0"/><circle cx="441.81" cy="117.85" r="1.2" fill="#a020f0"/><circle cx="456.05" cy="118.19" r="1.2" fill="#a020f0"/><circle cx="470.29" cy="118.52" r="1.2" fill="#a020f0"/><circle cx="484.53" cy="118.84" r="1.2" fill="#a020f0"/><circle cx="498.77" cy="119.16" r="1.2" fill="#a020f0"/><circle cx="513.01" cy="119.47" r="1.2" fill="#a020f0"/><circle cx="527.25" cy="119.79" r="1.2" fill="#a020f0"/>
<path d="M398.79 42.9L400.53 87.99L402.9 94.32L406.07 97.48L407.65 102.23L410.81 105.39L413.19 107.76L418.72 108.55L420.3 111.72L425.05 114.88L428.21 117.25L436.1 118.05L471.82 119.1L543 120.42" stroke="#008080" stroke-width="1.0"/>
<circle cx="399.09" cy="42.9" r="1.8" fill="#008080"/><circle cx="413.33" cy="107.24" r="1.8" fill="#008080"/><circle cx="427.57" cy="116.27" r="1.8" fill="#008080"/><circle cx="441.81" cy="118.19" r="1.8" fill="#008080"/><circle cx="456.05" cy="118.61" r="1.8" fill="#008080"/><circle cx="470.29" cy="119.04" r="1.8" fill="#008080"/><circle cx="484.53" cy="119.32" r="1.8" fill="#008080"/><circle cx="498.77" cy="119.59" r="1.8" fill="#008080"/><circle cx="513.01" cy="119.85" r="1.8" fill="#008080"/><circle cx="527.25" cy="120.11" r="1.8" fill="#008080"/>
</g>
<clipPath id="c3"><rect x="24.8" y="147.2" width="145.1" height="113.1"/></clipPath>
<rect x="25.4" y="149.4" width="143.9" height="110.3" fill="none" stroke="#9a9a9a" stroke-width="0.5"/>
<text transform="translate(54.18 268.4) scale(1 1.08)" font-size="6.1" fill="#303030" text-anchor="middle">100</text>
<text transform="translate(82.96 268.4) scale(1 1.08)" font-size="6.1" fill="#303030" text-anchor="middle">200</text>
<text transform="translate(111.74 268.4) scale(1 1.08)" font-size="6.1" fill="#303030" text-anchor="middle">300</text>
<text transform="translate(140.52 268.4) scale(1 1.08)" font-size="6.1" fill="#303030" text-anchor="middle">400</text>
<text transform="translate(169.3 268.4) scale(1 1.08)" font-size="6.1" fill="#303030" text-anchor="middle">500</text>
<text transform="translate(23.1 161.05) scale(1 1.08)" font-size="6.1" fill="#303030" text-anchor="end">680</text>
<text transform="translate(23.1 172.25) scale(1 1.08)" font-size="6.1" fill="#303030" text-anchor="end">660</text>
<text transform="translate(23.1 183.95) scale(1 1.08)" font-size="6.1" fill="#303030" text-anchor="end">640</text>
<text transform="translate(23.1 195.85) scale(1 1.08)" font-size="6.1" fill="#303030" text-anchor="end">620</text>
<text transform="translate(23.1 208.15) scale(1 1.08)" font-size="6.1" fill="#303030" text-anchor="end">600</text>
<text transform="translate(23.1 220.55) scale(1 1.08)" font-size="6.1" fill="#303030" text-anchor="end">580</text>
<text transform="translate(23.1 233.35) scale(1 1.08)" font-size="6.1" fill="#303030" text-anchor="end">560</text>
<text transform="translate(23.1 246.35) scale(1 1.08)" font-size="6.1" fill="#303030" text-anchor="end">540</text>
<text transform="translate(23.1 259.45) scale(1 1.08)" font-size="6.1" fill="#303030" text-anchor="end">520</text>
<path d="M54.18 259.7v-1.3M54.18 149.4v1.3M82.96 259.7v-1.3M82.96 149.4v1.3M111.74 259.7v-1.3M111.74 149.4v1.3M140.52 259.7v-1.3M140.52 149.4v1.3M169.3 259.7v-1.3M169.3 149.4v1.3M25.4 158.7h1.3M169.3 158.7h-1.3M25.4 169.9h1.3M169.3 169.9h-1.3M25.4 181.6h1.3M169.3 181.6h-1.3M25.4 193.5h1.3M169.3 193.5h-1.3M25.4 205.8h1.3M169.3 205.8h-1.3M25.4 218.2h1.3M169.3 218.2h-1.3M25.4 231h1.3M169.3 231h-1.3M25.4 244h1.3M169.3 244h-1.3M25.4 257.1h1.3M169.3 257.1h-1.3" stroke="#9a9a9a" stroke-width="0.5" fill="none"/>
<text transform="translate(97.35 147.6) scale(1 1.08)" font-size="6.9" fill="#111" text-anchor="middle">F5</text>
<text transform="translate(97.35 277.1) scale(1 1.08)" font-size="6.6" fill="#303030" text-anchor="middle">Iteration</text>
<text transform="translate(10.3 204.55) rotate(-90)" font-size="6.6" fill="#303030" text-anchor="middle">Fitness value</text>
<g clip-path="url(#c3)" fill="none" stroke-linejoin="miter" stroke-miterlimit="2.5">
<path d="M25.4 160.6L26.85 218.08L34.23 221.51L36.6 232.58L40.03 238.12L48.2 241.54L49.52 246.29L55.05 248.4L60.06 249.98L70.08 252.09L80.36 254.73L90.65 256.05L100.66 257.1L121.23 258.42L141.53 259.21L170 259.74" stroke="#000000" stroke-width="1.0"/>
<path d="M23.73 158.65L27.63 160.6L23.73 162.55Z" fill="#000000"/><path d="M38.12 234.86L42.02 236.81L38.12 238.76Z" fill="#000000"/><path d="M52.51 245.9L56.41 247.85L52.51 249.8Z" fill="#000000"/><path d="M66.9 249.7L70.8 251.65L66.9 253.6Z" fill="#000000"/><path d="M81.29 253.04L85.19 254.99L81.29 256.94Z" fill="#000000"/><path d="M95.68 254.74L99.58 256.69L95.68 258.64Z" fill="#000000"/><path d="M110.07 255.82L113.97 257.77L110.07 259.72Z" fill="#000000"/><path d="M124.46 256.64L128.36 258.59L124.46 260.54Z" fill="#000000"/><path d="M138.85 257.2L142.75 259.15L138.85 261.1Z" fill="#000000"/><path d="M153.24 257.5L157.14 259.45L153.24 261.4Z" fill="#000000"/>
<path d="M25.26 149L25.53 196.46L26.85 202.26L28.16 203.58L28.95 213.33L30.8 214.39L170 214.39" stroke="#ff0000" stroke-width="1.0"/>
<path d="M25.49 147.1L26.79 149L25.49 150.9L24.19 149Z" fill="#ff0000"/><path d="M39.88 212.49L41.18 214.39L39.88 216.29L38.58 214.39Z" fill="#ff0000"/><path d="M54.27 212.49L55.57 214.39L54.27 216.29L52.97 214.39Z" fill="#ff0000"/><path d="M68.66 212.49L69.96 214.39L68.66 216.29L67.36 214.39Z" fill="#ff0000"/><path d="M83.05 212.49L84.35 214.39L83.05 216.29L81.75 214.39Z" fill="#ff0000"/><path d="M97.44 212.49L98.74 214.39L97.44 216.29L96.14 214.39Z" fill="#ff0000"/><path d="M111.83 212.49L113.13 214.39L111.83 216.29L110.53 214.39Z" fill="#ff0000"/><path d="M126.22 212.49L127.52 214.39L126.22 216.29L124.92 214.39Z" fill="#ff0000"/><path d="M140.61 212.49L141.91 214.39L140.61 216.29L139.31 214.39Z" fill="#ff0000"/><path d="M155 212.49L156.3 214.39L155 216.29L153.7 214.39Z" fill="#ff0000"/>
<path d="M25.4 174.57L26.05 191.19L27.5 204.9L28.95 212.01L30.93 214.39L119.91 214.39L121.23 220.19L123.86 226.78L126.5 229.42L130.45 232.05L135.73 233.9L170 234.16" stroke="#0000ff" stroke-width="1.0"/>
<circle cx="25.49" cy="174.57" r="1.6" fill="#2828e0" stroke="#0000ff" stroke-width="0.5"/><circle cx="39.88" cy="214.39" r="1.6" fill="#2828e0" stroke="#0000ff" stroke-width="0.5"/><circle cx="54.27" cy="214.39" r="1.6" fill="#2828e0" stroke="#0000ff" stroke-width="0.5"/><circle cx="68.66" cy="214.39" r="1.6" fill="#2828e0" stroke="#0000ff" stroke-width="0.5"/><circle cx="83.05" cy="214.39" r="1.6" fill="#2828e0" stroke="#0000ff" stroke-width="0.5"/><circle cx="97.44" cy="214.39" r="1.6" fill="#2828e0" stroke="#0000ff" stroke-width="0.5"/><circle cx="111.83" cy="214.39" r="1.6" fill="#2828e0" stroke="#0000ff" stroke-width="0.5"/><circle cx="126.22" cy="228.47" r="1.6" fill="#2828e0" stroke="#0000ff" stroke-width="0.5"/><circle cx="140.61" cy="233.93" r="1.6" fill="#2828e0" stroke="#0000ff" stroke-width="0.5"/><circle cx="155" cy="234.04" r="1.6" fill="#2828e0" stroke="#0000ff" stroke-width="0.5"/>
<path d="M25 197.51L26.85 210.43L27.5 215.97L31.59 220.19L38.45 225.72L46.88 228.1L53.47 228.89L77.73 229.15L79.05 233.37L170 233.9" stroke="#ff00ff" stroke-width="1.0"/>
<circle cx="25.49" cy="197.51" r="1.25" fill="#ff00ff"/><circle cx="39.88" cy="225.94" r="1.25" fill="#ff00ff"/><circle cx="54.27" cy="228.89" r="1.25" fill="#ff00ff"/><circle cx="68.66" cy="229.05" r="1.25" fill="#ff00ff"/><circle cx="83.05" cy="233.39" r="1.25" fill="#ff00ff"/><circle cx="97.44" cy="233.47" r="1.25" fill="#ff00ff"/><circle cx="111.83" cy="233.56" r="1.25" fill="#ff00ff"/><circle cx="126.22" cy="233.64" r="1.25" fill="#ff00ff"/><circle cx="140.61" cy="233.72" r="1.25" fill="#ff00ff"/><circle cx="155" cy="233.81" r="1.25" fill="#ff00ff"/>
<path d="M25 166.14L48.73 166.14L49.25 209.38L82.47 209.75L83.42 212.01L97.68 212.41L98.71 220.45L110.95 220.98L112 227.57L117.01 228.28L118.06 233.79L132.3 233.79L133.35 237.33L170 237.67" stroke="#00ffff" stroke-width="1.0"/>
<path d="M25.49 164.14L27.49 167.74L23.49 167.74Z" fill="#00ffff"/><path d="M39.88 164.14L41.88 167.74L37.88 167.74Z" fill="#00ffff"/><path d="M54.27 207.43L56.27 211.03L52.27 211.03Z" fill="#00ffff"/><path d="M68.66 207.59L70.66 211.19L66.66 211.19Z" fill="#00ffff"/><path d="M83.05 207.75L85.05 211.35L81.05 211.35Z" fill="#00ffff"/><path d="M97.44 210.38L99.44 213.98L95.44 213.98Z" fill="#00ffff"/><path d="M111.83 220.36L113.83 223.96L109.83 223.96Z" fill="#00ffff"/><path d="M126.22 231.79L128.22 235.39L124.22 235.39Z" fill="#00ffff"/><path d="M140.61 235.39L142.61 238.99L138.61 238.99Z" fill="#00ffff"/><path d="M155 235.52L157 239.12L153 239.12Z" fill="#00ffff"/>
<path d="M25.4 160.6L26.05 177.48L27.5 188.55L29.61 196.72L34.41 202.26L39.9 205.69L45.41 209.38L51.36 210.17L69.82 210.7L72.45 216.23L77.73 218.08L88.27 218.87L98.82 219.66L104.09 221.51L112 222.82L117.27 224.14L125.18 226.78L130.45 229.42L138.36 231.26L151.55 232.05L170 232.84" stroke="#00ff00" stroke-width="1.0"/>
<path d="M25.49 158.5L26.02 159.87L27.48 159.95L26.34 160.88L26.72 162.3L25.49 161.5L24.25 162.3L24.63 160.88L23.49 159.95L24.96 159.87Z" fill="#00ff00"/><path d="M39.88 203.16L40.41 204.53L41.87 204.61L40.73 205.54L41.11 206.96L39.88 206.16L38.64 206.96L39.02 205.54L37.88 204.61L39.35 204.53Z" fill="#00ff00"/><path d="M54.27 208.13L54.8 209.5L56.26 209.58L55.12 210.51L55.5 211.93L54.27 211.13L53.03 211.93L53.41 210.51L52.27 209.58L53.74 209.5Z" fill="#00ff00"/><path d="M68.66 208.54L69.19 209.92L70.65 209.99L69.51 210.92L69.89 212.34L68.66 211.54L67.42 212.34L67.8 210.92L66.66 209.99L68.13 209.92Z" fill="#00ff00"/><path d="M83.05 216.33L83.58 217.7L85.04 217.78L83.9 218.71L84.28 220.13L83.05 219.33L81.81 220.13L82.19 218.71L81.05 217.78L82.52 217.7Z" fill="#00ff00"/><path d="M97.44 217.41L97.97 218.78L99.43 218.86L98.29 219.79L98.67 221.21L97.44 220.41L96.2 221.21L96.58 219.79L95.44 218.86L96.91 218.78Z" fill="#00ff00"/><path d="M111.83 220.59L112.36 221.96L113.82 222.04L112.68 222.96L113.06 224.38L111.83 223.59L110.59 224.38L110.97 222.96L109.83 222.04L111.3 221.96Z" fill="#00ff00"/><path d="M126.22 224.87L126.75 226.24L128.21 226.32L127.07 227.24L127.45 228.67L126.22 227.87L124.98 228.67L125.36 227.24L124.22 226.32L125.69 226.24Z" fill="#00ff00"/><path d="M140.61 229.26L141.14 230.63L142.6 230.71L141.46 231.63L141.84 233.06L140.61 232.26L139.37 233.06L139.75 231.63L138.61 230.71L140.08 230.63Z" fill="#00ff00"/><path d="M155 230.07L155.53 231.44L156.99 231.52L155.85 232.45L156.23 233.87L155 233.07L153.76 233.87L154.14 232.45L153 231.52L154.47 231.44Z" fill="#00ff00"/>
<path d="M25.4 177.48L27.11 221.51L27.5 240.23L39.76 240.75L51.36 241.81L64.55 243.92L77.73 245.5L96.71 246.03L112 247.08L121.23 249.19L131.25 249.98L141.53 251.04L147.59 252.62L155.76 254.99L163.94 256.84L170 257.63" stroke="#ff8000" stroke-width="1.0"/>
<rect x="23.89" y="175.88" width="3.2" height="3.2" fill="#ff8000"/><rect x="38.28" y="239.13" width="3.2" height="3.2" fill="#ff8000"/><rect x="52.67" y="240.57" width="3.2" height="3.2" fill="#ff8000"/><rect x="67.06" y="242.73" width="3.2" height="3.2" fill="#ff8000"/><rect x="81.45" y="244.03" width="3.2" height="3.2" fill="#ff8000"/><rect x="95.84" y="244.43" width="3.2" height="3.2" fill="#ff8000"/><rect x="110.23" y="245.42" width="3.2" height="3.2" fill="#ff8000"/><rect x="124.62" y="247.93" width="3.2" height="3.2" fill="#ff8000"/><rect x="139.01" y="249.27" width="3.2" height="3.2" fill="#ff8000"/><rect x="153.4" y="252.98" width="3.2" height="3.2" fill="#ff8000"/>
<path d="M25.53 175.37L26.05 198.04L26.58 220.19L31.33 224.14L31.85 233.11L60.06 233.63L112 233.9L112.53 239.96L125.18 240.49L126.24 243.92L130.19 244.97L131.25 249.19L145.48 249.72L149.7 252.09L155.76 254.2L161.83 255.52L170 256.84" stroke="#a020f0" stroke-width="1.0"/>
<circle cx="25.49" cy="175.37" r="1.2" fill="#a020f0"/><circle cx="39.88" cy="233.24" r="1.2" fill="#a020f0"/><circle cx="54.27" cy="233.51" r="1.2" fill="#a020f0"/><circle cx="68.66" cy="233.67" r="1.2" fill="#a020f0"/><circle cx="83.05" cy="233.75" r="1.2" fill="#a020f0"/><circle cx="97.44" cy="233.82" r="1.2" fill="#a020f0"/><circle cx="111.83" cy="233.89" r="1.2" fill="#a020f0"/><circle cx="126.22" cy="241.71" r="1.2" fill="#a020f0"/><circle cx="140.61" cy="249.51" r="1.2" fill="#a020f0"/><circle cx="155" cy="253.7" r="1.2" fill="#a020f0"/>
<path d="M25.4 149L26.05 217.29L36.49 217.55L36.86 224.14L39.9 227.04L50.84 228.36L51.63 233.9L60.06 234.43L67.18 238.64L72.45 241.28L77.73 243.92L85.64 246.03L93.55 247.08L130.45 247.61L170 247.61" stroke="#008080" stroke-width="1.0"/>
<circle cx="25.49" cy="149" r="1.8" fill="#008080"/><circle cx="39.88" cy="226.39" r="1.8" fill="#008080"/><circle cx="54.27" cy="234.02" r="1.8" fill="#008080"/><circle cx="68.66" cy="239.05" r="1.8" fill="#008080"/><circle cx="83.05" cy="245.16" r="1.8" fill="#008080"/><circle cx="97.44" cy="247.13" r="1.8" fill="#008080"/><circle cx="111.83" cy="247.33" r="1.8" fill="#008080"/><circle cx="126.22" cy="247.54" r="1.8" fill="#008080"/><circle cx="140.61" cy="247.61" r="1.8" fill="#008080"/><circle cx="155" cy="247.61" r="1.8" fill="#008080"/>
</g>
<clipPath id="c4"><rect x="211.4" y="147.2" width="145.1" height="113"/></clipPath>
<rect x="212" y="149.4" width="143.9" height="110.2" fill="none" stroke="#9a9a9a" stroke-width="0.5"/>
<text transform="translate(240.78 268.3) scale(1 1.08)" font-size="6.1" fill="#303030" text-anchor="middle">100</text>
<text transform="translate(269.56 268.3) scale(1 1.08)" font-size="6.1" fill="#303030" text-anchor="middle">200</text>
<text transform="translate(298.34 268.3) scale(1 1.08)" font-size="6.1" fill="#303030" text-anchor="middle">300</text>
<text transform="translate(327.12 268.3) scale(1 1.08)" font-size="6.1" fill="#303030" text-anchor="middle">400</text>
<text transform="translate(355.9 268.3) scale(1 1.08)" font-size="6.1" fill="#303030" text-anchor="middle">500</text>
<text transform="translate(209.7 162.25) scale(1 1.08)" font-size="6.1" fill="#303030" text-anchor="end">700</text>
<text transform="translate(209.7 181.75) scale(1 1.08)" font-size="6.1" fill="#303030" text-anchor="end">680</text>
<text transform="translate(209.7 201.35) scale(1 1.08)" font-size="6.1" fill="#303030" text-anchor="end">660</text>
<text transform="translate(209.7 221.05) scale(1 1.08)" font-size="6.1" fill="#303030" text-anchor="end">640</text>
<text transform="translate(209.7 240.95) scale(1 1.08)" font-size="6.1" fill="#303030" text-anchor="end">620</text>
<path d="M240.78 259.6v-1.3M240.78 149.4v1.3M269.56 259.6v-1.3M269.56 149.4v1.3M298.34 259.6v-1.3M298.34 149.4v1.3M327.12 259.6v-1.3M327.12 149.4v1.3M355.9 259.6v-1.3M355.9 149.4v1.3M212 159.9h1.3M355.9 159.9h-1.3M212 179.4h1.3M355.9 179.4h-1.3M212 199h1.3M355.9 199h-1.3M212 218.7h1.3M355.9 218.7h-1.3M212 238.6h1.3M355.9 238.6h-1.3" stroke="#9a9a9a" stroke-width="0.5" fill="none"/>
<text transform="translate(283.95 147.6) scale(1 1.08)" font-size="6.9" fill="#111" text-anchor="middle">F6</text>
<text transform="translate(283.95 277) scale(1 1.08)" font-size="6.6" fill="#303030" text-anchor="middle">Iteration</text>
<text transform="translate(196.9 204.5) rotate(-90)" font-size="6.6" fill="#303030" text-anchor="middle">Fitness value</text>
<g clip-path="url(#c4)" fill="none" stroke-linejoin="miter" stroke-miterlimit="2.5">
<path d="M212 188.55L214.64 209.64L218.59 222.82L219.91 228.1L225.18 236.01L233.09 240.75L238.36 241.81L259.45 242.33L268.68 243.39L270 247.87L283.18 249.19L288.45 251.3L299 251.83L312.18 253.14L322.73 254.46L328 256.57L357 256.84" stroke="#000000" stroke-width="1.0"/>
<path d="M210.33 186.6L214.23 188.55L210.33 190.5Z" fill="#000000"/><path d="M224.72 234.44L228.62 236.39L224.72 238.34Z" fill="#000000"/><path d="M239.11 239.9L243.01 241.85L239.11 243.8Z" fill="#000000"/><path d="M253.5 240.26L257.4 242.21L253.5 244.16Z" fill="#000000"/><path d="M267.89 242.48L271.79 244.43L267.89 246.38Z" fill="#000000"/><path d="M282.28 247.32L286.18 249.27L282.28 251.22Z" fill="#000000"/><path d="M296.67 249.81L300.57 251.76L296.67 253.71Z" fill="#000000"/><path d="M311.06 251.19L314.96 253.14L311.06 255.09Z" fill="#000000"/><path d="M325.45 254.04L329.35 255.99L325.45 257.94Z" fill="#000000"/><path d="M339.84 254.74L343.74 256.69L339.84 258.64Z" fill="#000000"/>
<path d="M212 175.37L213.32 207L215.95 212.28L219.91 214.39L357 214.91" stroke="#ff0000" stroke-width="1.0"/>
<path d="M212.09 173.47L213.39 175.37L212.09 177.27L210.79 175.37Z" fill="#ff0000"/><path d="M226.48 212.51L227.78 214.41L226.48 216.31L225.18 214.41Z" fill="#ff0000"/><path d="M240.87 212.57L242.17 214.47L240.87 216.37L239.57 214.47Z" fill="#ff0000"/><path d="M255.26 212.62L256.56 214.52L255.26 216.42L253.96 214.52Z" fill="#ff0000"/><path d="M269.65 212.68L270.95 214.58L269.65 216.48L268.35 214.58Z" fill="#ff0000"/><path d="M284.04 212.73L285.34 214.63L284.04 216.53L282.74 214.63Z" fill="#ff0000"/><path d="M298.43 212.79L299.73 214.69L298.43 216.59L297.13 214.69Z" fill="#ff0000"/><path d="M312.82 212.84L314.12 214.74L312.82 216.64L311.52 214.74Z" fill="#ff0000"/><path d="M327.21 212.9L328.51 214.8L327.21 216.7L325.91 214.8Z" fill="#ff0000"/><path d="M341.6 212.95L342.9 214.85L341.6 216.75L340.3 214.85Z" fill="#ff0000"/>
<path d="M212 180.64L213.32 208.32L218.59 209.11L233.09 209.64L234.41 213.6L288.45 214.12L289.77 220.19L299 220.71L300.32 222.82L306.91 224.14L312.18 226.78L317.45 229.42L325.36 231.26L343.82 232.32L351.73 233.37L357 234.43" stroke="#0000ff" stroke-width="1.0"/>
<circle cx="212.09" cy="180.64" r="1.6" fill="#2828e0" stroke="#0000ff" stroke-width="0.5"/><circle cx="226.48" cy="209.38" r="1.6" fill="#2828e0" stroke="#0000ff" stroke-width="0.5"/><circle cx="240.87" cy="213.65" r="1.6" fill="#2828e0" stroke="#0000ff" stroke-width="0.5"/><circle cx="255.26" cy="213.79" r="1.6" fill="#2828e0" stroke="#0000ff" stroke-width="0.5"/><circle cx="269.65" cy="213.93" r="1.6" fill="#2828e0" stroke="#0000ff" stroke-width="0.5"/><circle cx="284.04" cy="214.07" r="1.6" fill="#2828e0" stroke="#0000ff" stroke-width="0.5"/><circle cx="298.43" cy="220.64" r="1.6" fill="#2828e0" stroke="#0000ff" stroke-width="0.5"/><circle cx="312.82" cy="226.77" r="1.6" fill="#2828e0" stroke="#0000ff" stroke-width="0.5"/><circle cx="327.21" cy="231.33" r="1.6" fill="#2828e0" stroke="#0000ff" stroke-width="0.5"/><circle cx="341.6" cy="232.15" r="1.6" fill="#2828e0" stroke="#0000ff" stroke-width="0.5"/>
<path d="M212 149L213.05 209.64L215.95 216.23L219.91 218.08L357 218.61" stroke="#ff00ff" stroke-width="1.0"/>
<circle cx="212.09" cy="149" r="1.25" fill="#ff00ff"/><circle cx="226.48" cy="218.1" r="1.25" fill="#ff00ff"/><circle cx="240.87" cy="218.16" r="1.25" fill="#ff00ff"/><circle cx="255.26" cy="218.21" r="1.25" fill="#ff00ff"/><circle cx="269.65" cy="218.27" r="1.25" fill="#ff00ff"/><circle cx="284.04" cy="218.32" r="1.25" fill="#ff00ff"/><circle cx="298.43" cy="218.38" r="1.25" fill="#ff00ff"/><circle cx="312.82" cy="218.43" r="1.25" fill="#ff00ff"/><circle cx="327.21" cy="218.49" r="1.25" fill="#ff00ff"/><circle cx="341.6" cy="218.54" r="1.25" fill="#ff00ff"/>
<path d="M212 163.5L241 163.5L242.32 172.73L255.5 173.26L258.14 180.11L259.45 196.46L267.36 196.99L270 200.41L275.27 203.05L283.18 203.84L284.5 212.28L296.36 216.23L300.32 218.08L306.91 218.87L308.23 222.82L313.5 225.99L328 226.78L343.82 227.31L349.09 228.62L357 229.68" stroke="#00ffff" stroke-width="1.0"/>
<path d="M212.09 161.5L214.09 165.1L210.09 165.1Z" fill="#00ffff"/><path d="M226.48 161.5L228.48 165.1L224.48 165.1Z" fill="#00ffff"/><path d="M240.87 161.5L242.87 165.1L238.87 165.1Z" fill="#00ffff"/><path d="M255.26 171.22L257.26 174.82L253.26 174.82Z" fill="#00ffff"/><path d="M269.65 197.1L271.65 200.7L267.65 200.7Z" fill="#00ffff"/><path d="M284.04 203.09L286.04 206.69L282.04 206.69Z" fill="#00ffff"/><path d="M298.43 214.89L300.43 218.49L296.43 218.49Z" fill="#00ffff"/><path d="M312.82 223.18L314.82 226.78L310.82 226.78Z" fill="#00ffff"/><path d="M327.21 224.7L329.21 228.3L325.21 228.3Z" fill="#00ffff"/><path d="M341.6 225.21L343.6 228.81L339.6 228.81Z" fill="#00ffff"/>
<path d="M212 149L212.79 180.64L214.64 196.46L217.27 201.73L222.55 203.84L238.36 204.37L357 205.42" stroke="#00ff00" stroke-width="1.0"/>
<path d="M212.09 146.9L212.62 148.27L214.08 148.35L212.94 149.28L213.32 150.7L212.09 149.9L210.85 150.7L211.23 149.28L210.09 148.35L211.56 148.27Z" fill="#00ff00"/><path d="M226.48 201.85L227.01 203.22L228.47 203.3L227.33 204.23L227.71 205.65L226.48 204.85L225.24 205.65L225.62 204.23L224.48 203.3L225.95 203.22Z" fill="#00ff00"/><path d="M240.87 202.28L241.4 203.66L242.86 203.74L241.72 204.66L242.1 206.08L240.87 205.28L239.63 206.08L240.01 204.66L238.87 203.74L240.34 203.66Z" fill="#00ff00"/><path d="M255.26 202.41L255.79 203.78L257.25 203.86L256.11 204.79L256.49 206.21L255.26 205.41L254.02 206.21L254.4 204.79L253.26 203.86L254.73 203.78Z" fill="#00ff00"/><path d="M269.65 202.54L270.18 203.91L271.64 203.99L270.5 204.92L270.88 206.34L269.65 205.54L268.41 206.34L268.79 204.92L267.65 203.99L269.12 203.91Z" fill="#00ff00"/><path d="M284.04 202.67L284.57 204.04L286.03 204.12L284.89 205.05L285.27 206.47L284.04 205.67L282.8 206.47L283.18 205.05L282.04 204.12L283.51 204.04Z" fill="#00ff00"/><path d="M298.43 202.8L298.96 204.17L300.42 204.25L299.28 205.17L299.66 206.6L298.43 205.8L297.19 206.6L297.57 205.17L296.43 204.25L297.9 204.17Z" fill="#00ff00"/><path d="M312.82 202.92L313.35 204.3L314.81 204.38L313.67 205.3L314.05 206.72L312.82 205.92L311.58 206.72L311.96 205.3L310.82 204.38L312.29 204.3Z" fill="#00ff00"/><path d="M327.21 203.05L327.74 204.42L329.2 204.5L328.06 205.43L328.44 206.85L327.21 206.05L325.97 206.85L326.35 205.43L325.21 204.5L326.68 204.42Z" fill="#00ff00"/><path d="M341.6 203.18L342.13 204.55L343.59 204.63L342.45 205.56L342.83 206.98L341.6 206.18L340.36 206.98L340.74 205.56L339.6 204.63L341.07 204.55Z" fill="#00ff00"/>
<path d="M212 159.55L213.32 228.1L217.27 236.01L219.91 244.44L238.36 244.97L246.27 246.03L254.18 247.08L264.73 248.14L277.91 249.19L299 250.24L312.18 251.83L322.73 253.14L335.91 255.52L357 258.15" stroke="#ff8000" stroke-width="1.0"/>
<rect x="210.49" y="157.95" width="3.2" height="3.2" fill="#ff8000"/><rect x="224.88" y="243.01" width="3.2" height="3.2" fill="#ff8000"/><rect x="239.27" y="243.62" width="3.2" height="3.2" fill="#ff8000"/><rect x="253.66" y="245.52" width="3.2" height="3.2" fill="#ff8000"/><rect x="268.05" y="246.88" width="3.2" height="3.2" fill="#ff8000"/><rect x="282.44" y="247.86" width="3.2" height="3.2" fill="#ff8000"/><rect x="296.83" y="248.58" width="3.2" height="3.2" fill="#ff8000"/><rect x="311.22" y="250.22" width="3.2" height="3.2" fill="#ff8000"/><rect x="325.61" y="252.23" width="3.2" height="3.2" fill="#ff8000"/><rect x="340" y="254.55" width="3.2" height="3.2" fill="#ff8000"/>
<path d="M212 196.46L213.32 222.82L217.27 228.1L221.23 233.37L225.18 235.48L233.09 236.53L246.27 237.33L256.82 238.64L258.14 242.6L268.68 243.39L270 246.03L280.55 247.87L291.09 248.66L312.18 249.19L330.64 250.24L343.82 251.83L357 253.94" stroke="#a020f0" stroke-width="1.0"/>
<circle cx="212.09" cy="196.46" r="1.2" fill="#a020f0"/><circle cx="226.48" cy="235.56" r="1.2" fill="#a020f0"/><circle cx="240.87" cy="236.96" r="1.2" fill="#a020f0"/><circle cx="255.26" cy="238.37" r="1.2" fill="#a020f0"/><circle cx="269.65" cy="244" r="1.2" fill="#a020f0"/><circle cx="284.04" cy="248.08" r="1.2" fill="#a020f0"/><circle cx="298.43" cy="248.83" r="1.2" fill="#a020f0"/><circle cx="312.82" cy="249.19" r="1.2" fill="#a020f0"/><circle cx="327.21" cy="250.01" r="1.2" fill="#a020f0"/><circle cx="341.6" cy="251.48" r="1.2" fill="#a020f0"/>
<path d="M212 180.64L214.64 201.73L218.59 214.91L225.18 217.55L226.5 225.46L229.14 230.73L233.09 236.01L238.36 239.96L243.64 243.39L248.91 247.87L254.18 251.83L259.45 254.46L267.36 255.78L277.91 257.63L291.09 259.21L357 259.74" stroke="#008080" stroke-width="1.0"/>
<circle cx="212.09" cy="180.64" r="1.8" fill="#008080"/><circle cx="226.48" cy="221.36" r="1.8" fill="#008080"/><circle cx="240.87" cy="241.16" r="1.8" fill="#008080"/><circle cx="255.26" cy="252.03" r="1.8" fill="#008080"/><circle cx="269.65" cy="256.07" r="1.8" fill="#008080"/><circle cx="284.04" cy="258.28" r="1.8" fill="#008080"/><circle cx="298.43" cy="259.26" r="1.8" fill="#008080"/><circle cx="312.82" cy="259.38" r="1.8" fill="#008080"/><circle cx="327.21" cy="259.49" r="1.8" fill="#008080"/><circle cx="341.6" cy="259.61" r="1.8" fill="#008080"/>
</g>
<clipPath id="c5"><rect x="398.5" y="147" width="143.7" height="113.1"/></clipPath>
<rect x="399.1" y="149.2" width="142.5" height="110.3" fill="none" stroke="#9a9a9a" stroke-width="0.5"/>
<text transform="translate(427.6 268.2) scale(1 1.08)" font-size="6.1" fill="#303030" text-anchor="middle">100</text>
<text transform="translate(456.1 268.2) scale(1 1.08)" font-size="6.1" fill="#303030" text-anchor="middle">200</text>
<text transform="translate(484.6 268.2) scale(1 1.08)" font-size="6.1" fill="#303030" text-anchor="middle">300</text>
<text transform="translate(513.1 268.2) scale(1 1.08)" font-size="6.1" fill="#303030" text-anchor="middle">400</text>
<text transform="translate(541.6 268.2) scale(1 1.08)" font-size="6.1" fill="#303030" text-anchor="middle">500</text>
<text transform="translate(396.8 155.35) scale(1 1.08)" font-size="6.1" fill="#303030" text-anchor="end">1300</text>
<text transform="translate(396.8 170.15) scale(1 1.08)" font-size="6.1" fill="#303030" text-anchor="end">1200</text>
<text transform="translate(396.8 186.35) scale(1 1.08)" font-size="6.1" fill="#303030" text-anchor="end">1100</text>
<text transform="translate(396.8 203.15) scale(1 1.08)" font-size="6.1" fill="#303030" text-anchor="end">1000</text>
<text transform="translate(396.8 222.15) scale(1 1.08)" font-size="6.1" fill="#303030" text-anchor="end">900</text>
<text transform="translate(396.8 243.35) scale(1 1.08)" font-size="6.1" fill="#303030" text-anchor="end">800</text>
<path d="M427.6 259.5v-1.3M427.6 149.2v1.3M456.1 259.5v-1.3M456.1 149.2v1.3M484.6 259.5v-1.3M484.6 149.2v1.3M513.1 259.5v-1.3M513.1 149.2v1.3M541.6 259.5v-1.3M541.6 149.2v1.3M399.1 153h1.3M541.6 153h-1.3M399.1 167.8h1.3M541.6 167.8h-1.3M399.1 184h1.3M541.6 184h-1.3M399.1 200.8h1.3M541.6 200.8h-1.3M399.1 219.8h1.3M541.6 219.8h-1.3M399.1 241h1.3M541.6 241h-1.3" stroke="#9a9a9a" stroke-width="0.5" fill="none"/>
<text transform="translate(470.35 147.4) scale(1 1.08)" font-size="6.9" fill="#111" text-anchor="middle">F7</text>
<text transform="translate(470.35 276.9) scale(1 1.08)" font-size="6.6" fill="#303030" text-anchor="middle">Iteration</text>
<text transform="translate(381.4 204.35) rotate(-90)" font-size="6.6" fill="#303030" text-anchor="middle">Fitness value</text>
<g clip-path="url(#c5)" fill="none" stroke-linejoin="miter" stroke-miterlimit="2.5">
<path d="M398.79 162.18L400.11 228.1L403.27 234.69L411.18 238.64L413.82 246.55L424.36 249.19L432.27 252.35L440.18 254.46L445.45 256.57L458.64 257.63L471.82 258.42L543 258.68" stroke="#000000" stroke-width="1.0"/>
<path d="M397.43 160.23L401.33 162.18L397.43 164.13Z" fill="#000000"/><path d="M411.68 241.48L415.58 243.43L411.68 245.38Z" fill="#000000"/><path d="M425.93 248.31L429.83 250.26L425.93 252.21Z" fill="#000000"/><path d="M440.18 252.95L444.08 254.9L440.18 256.85Z" fill="#000000"/><path d="M454.43 255.43L458.33 257.38L454.43 259.33Z" fill="#000000"/><path d="M468.68 256.35L472.58 258.3L468.68 260.25Z" fill="#000000"/><path d="M482.93 256.51L486.83 258.46L482.93 260.41Z" fill="#000000"/><path d="M497.18 256.57L501.08 258.52L497.18 260.47Z" fill="#000000"/><path d="M511.43 256.62L515.33 258.57L511.43 260.52Z" fill="#000000"/><path d="M525.68 256.67L529.58 258.62L525.68 260.57Z" fill="#000000"/>
<path d="M398.79 149L399.58 225.46L401.95 232.05L405.91 234.43L543 234.95" stroke="#ff0000" stroke-width="1.0"/>
<path d="M399.19 147.1L400.49 149L399.19 150.9L397.89 149Z" fill="#ff0000"/><path d="M413.44 232.55L414.74 234.45L413.44 236.35L412.14 234.45Z" fill="#ff0000"/><path d="M427.69 232.61L428.99 234.51L427.69 236.41L426.39 234.51Z" fill="#ff0000"/><path d="M441.94 232.66L443.24 234.56L441.94 236.46L440.64 234.56Z" fill="#ff0000"/><path d="M456.19 232.72L457.49 234.62L456.19 236.52L454.89 234.62Z" fill="#ff0000"/><path d="M470.44 232.77L471.74 234.67L470.44 236.57L469.14 234.67Z" fill="#ff0000"/><path d="M484.69 232.83L485.99 234.73L484.69 236.63L483.39 234.73Z" fill="#ff0000"/><path d="M498.94 232.88L500.24 234.78L498.94 236.68L497.64 234.78Z" fill="#ff0000"/><path d="M513.19 232.94L514.49 234.84L513.19 236.74L511.89 234.84Z" fill="#ff0000"/><path d="M527.44 232.99L528.74 234.89L527.44 236.79L526.14 234.89Z" fill="#ff0000"/>
<path d="M398.79 188.55L400.11 228.1L403.27 233.37L407.23 235.22L494.23 235.48L495.55 239.96L498.18 242.6L508.73 243.39L514 245.24L521.91 247.08L529.82 248.66L543 249.19" stroke="#0000ff" stroke-width="1.0"/>
<circle cx="399.19" cy="188.55" r="1.6" fill="#2828e0" stroke="#0000ff" stroke-width="0.5"/><circle cx="413.44" cy="235.23" r="1.6" fill="#2828e0" stroke="#0000ff" stroke-width="0.5"/><circle cx="427.69" cy="235.28" r="1.6" fill="#2828e0" stroke="#0000ff" stroke-width="0.5"/><circle cx="441.94" cy="235.32" r="1.6" fill="#2828e0" stroke="#0000ff" stroke-width="0.5"/><circle cx="456.19" cy="235.36" r="1.6" fill="#2828e0" stroke="#0000ff" stroke-width="0.5"/><circle cx="470.44" cy="235.41" r="1.6" fill="#2828e0" stroke="#0000ff" stroke-width="0.5"/><circle cx="484.69" cy="235.45" r="1.6" fill="#2828e0" stroke="#0000ff" stroke-width="0.5"/><circle cx="498.94" cy="242.61" r="1.6" fill="#2828e0" stroke="#0000ff" stroke-width="0.5"/><circle cx="513.19" cy="244.72" r="1.6" fill="#2828e0" stroke="#0000ff" stroke-width="0.5"/><circle cx="527.44" cy="248.05" r="1.6" fill="#2828e0" stroke="#0000ff" stroke-width="0.5"/>
<path d="M398.79 217.55L399.58 228.1L401.95 236.01L408.55 239.17L419.09 239.96L543 240.49" stroke="#ff00ff" stroke-width="1.0"/>
<circle cx="399.19" cy="217.55" r="1.25" fill="#ff00ff"/><circle cx="413.44" cy="239.49" r="1.25" fill="#ff00ff"/><circle cx="427.69" cy="240" r="1.25" fill="#ff00ff"/><circle cx="441.94" cy="240.06" r="1.25" fill="#ff00ff"/><circle cx="456.19" cy="240.12" r="1.25" fill="#ff00ff"/><circle cx="470.44" cy="240.18" r="1.25" fill="#ff00ff"/><circle cx="484.69" cy="240.24" r="1.25" fill="#ff00ff"/><circle cx="498.94" cy="240.3" r="1.25" fill="#ff00ff"/><circle cx="513.19" cy="240.36" r="1.25" fill="#ff00ff"/><circle cx="527.44" cy="240.42" r="1.25" fill="#ff00ff"/>
<path d="M398.79 153.75L413.82 154.27L419.09 155.59L427 156.38L430.95 160.86L442.29 162.18L442.82 191.19L453.36 191.71L454.68 201.73L459.95 203.05L461.27 216.23L466.55 221.51L471.82 226.78L477.09 230.73L482.36 233.37L488.95 234.95L503.45 236.01L543 236.53" stroke="#00ffff" stroke-width="1.0"/>
<path d="M399.19 151.75L401.19 155.35L397.19 155.35Z" fill="#00ffff"/><path d="M413.44 152.24L415.44 155.84L411.44 155.84Z" fill="#00ffff"/><path d="M427.69 154.41L429.69 158.01L425.69 158.01Z" fill="#00ffff"/><path d="M441.94 160.06L443.94 163.66L439.94 163.66Z" fill="#00ffff"/><path d="M456.19 199.94L458.19 203.54L454.19 203.54Z" fill="#00ffff"/><path d="M470.44 222.74L472.44 226.34L468.44 226.34Z" fill="#00ffff"/><path d="M484.69 231.77L486.69 235.37L482.69 235.37Z" fill="#00ffff"/><path d="M498.94 233.63L500.94 237.23L496.94 237.23Z" fill="#00ffff"/><path d="M513.19 234.13L515.19 237.73L511.19 237.73Z" fill="#00ffff"/><path d="M527.44 234.32L529.44 237.92L525.44 237.92Z" fill="#00ffff"/>
<path d="M398.79 149L400.11 220.19L403.27 226.78L408.55 229.42L419.09 230.73L437.55 231.26L450.73 231.79L466.55 234.69L477.09 237.33L490.27 238.12L503.45 238.64L543 238.64" stroke="#00ff00" stroke-width="1.0"/>
<path d="M399.19 146.9L399.71 148.27L401.18 148.35L400.04 149.28L400.42 150.7L399.19 149.9L397.95 150.7L398.33 149.28L397.19 148.35L398.66 148.27Z" fill="#00ff00"/><path d="M413.44 227.84L413.96 229.22L415.43 229.3L414.29 230.22L414.67 231.64L413.44 230.84L412.2 231.64L412.58 230.22L411.44 229.3L412.91 229.22Z" fill="#00ff00"/><path d="M427.69 228.86L428.21 230.23L429.68 230.31L428.54 231.24L428.92 232.66L427.69 231.86L426.45 232.66L426.83 231.24L425.69 230.31L427.16 230.23Z" fill="#00ff00"/><path d="M441.94 229.31L442.46 230.68L443.93 230.76L442.79 231.69L443.17 233.11L441.94 232.31L440.7 233.11L441.08 231.69L439.94 230.76L441.41 230.68Z" fill="#00ff00"/><path d="M456.19 230.57L456.71 231.94L458.18 232.02L457.04 232.95L457.42 234.37L456.19 233.57L454.95 234.37L455.33 232.95L454.19 232.02L455.66 231.94Z" fill="#00ff00"/><path d="M470.44 233.4L470.96 234.77L472.43 234.85L471.29 235.77L471.67 237.2L470.44 236.4L469.2 237.2L469.58 235.77L468.44 234.85L469.91 234.77Z" fill="#00ff00"/><path d="M484.69 235.64L485.21 237.01L486.68 237.09L485.54 238.02L485.92 239.44L484.69 238.64L483.45 239.44L483.83 238.02L482.69 237.09L484.16 237.01Z" fill="#00ff00"/><path d="M498.94 236.34L499.46 237.71L500.93 237.79L499.79 238.71L500.17 240.14L498.94 239.34L497.7 240.14L498.08 238.71L496.94 237.79L498.41 237.71Z" fill="#00ff00"/><path d="M513.19 236.54L513.71 237.92L515.18 237.99L514.04 238.92L514.42 240.34L513.19 239.54L511.95 240.34L512.33 238.92L511.19 237.99L512.66 237.92Z" fill="#00ff00"/><path d="M527.44 236.54L527.96 237.92L529.43 237.99L528.29 238.92L528.67 240.34L527.44 239.54L526.2 240.34L526.58 238.92L525.44 237.99L526.91 237.92Z" fill="#00ff00"/>
<path d="M398.79 156.91L399.32 236.01L400.64 243.92L403.27 248.66L424.36 249.19L463.91 249.72L485 250.24L498.18 251.3L508.73 253.14L524.55 254.99L543 257.1" stroke="#ff8000" stroke-width="1.0"/>
<rect x="397.59" y="155.31" width="3.2" height="3.2" fill="#ff8000"/><rect x="411.84" y="247.3" width="3.2" height="3.2" fill="#ff8000"/><rect x="426.09" y="247.63" width="3.2" height="3.2" fill="#ff8000"/><rect x="440.34" y="247.82" width="3.2" height="3.2" fill="#ff8000"/><rect x="454.59" y="248.01" width="3.2" height="3.2" fill="#ff8000"/><rect x="468.84" y="248.26" width="3.2" height="3.2" fill="#ff8000"/><rect x="483.09" y="248.62" width="3.2" height="3.2" fill="#ff8000"/><rect x="497.34" y="249.72" width="3.2" height="3.2" fill="#ff8000"/><rect x="511.59" y="251.99" width="3.2" height="3.2" fill="#ff8000"/><rect x="525.84" y="253.65" width="3.2" height="3.2" fill="#ff8000"/>
<path d="M398.79 214.91L400.11 233.37L403.27 239.96L408.55 242.6L413.82 246.55L424.36 248.66L434.91 250.51L442.82 253.14L453.36 253.94L543 254.46" stroke="#a020f0" stroke-width="1.0"/>
<circle cx="399.19" cy="214.91" r="1.2" fill="#a020f0"/><circle cx="413.44" cy="245.77" r="1.2" fill="#a020f0"/><circle cx="427.69" cy="249.13" r="1.2" fill="#a020f0"/><circle cx="441.94" cy="252.63" r="1.2" fill="#a020f0"/><circle cx="456.19" cy="253.95" r="1.2" fill="#a020f0"/><circle cx="470.44" cy="254.03" r="1.2" fill="#a020f0"/><circle cx="484.69" cy="254.12" r="1.2" fill="#a020f0"/><circle cx="498.94" cy="254.2" r="1.2" fill="#a020f0"/><circle cx="513.19" cy="254.28" r="1.2" fill="#a020f0"/><circle cx="527.44" cy="254.37" r="1.2" fill="#a020f0"/>
<path d="M398.79 164.82L400.11 214.91L401.95 224.14L405.91 225.99L416.45 225.99L417.77 229.42L424.36 230.73L425.68 238.64L440.18 239.96L441.5 242.6L454.68 243.39L456 249.19L467.86 250.51L469.18 254.46L477.09 257.1L485 258.15L543 258.68" stroke="#008080" stroke-width="1.0"/>
<circle cx="399.19" cy="164.82" r="1.8" fill="#008080"/><circle cx="413.44" cy="225.99" r="1.8" fill="#008080"/><circle cx="427.69" cy="238.77" r="1.8" fill="#008080"/><circle cx="441.94" cy="242.15" r="1.8" fill="#008080"/><circle cx="456.19" cy="247.11" r="1.8" fill="#008080"/><circle cx="470.44" cy="254.66" r="1.8" fill="#008080"/><circle cx="484.69" cy="258.02" r="1.8" fill="#008080"/><circle cx="498.94" cy="258.28" r="1.8" fill="#008080"/><circle cx="513.19" cy="258.4" r="1.8" fill="#008080"/><circle cx="527.44" cy="258.53" r="1.8" fill="#008080"/>
</g>
<clipPath id="c6"><rect x="23.2" y="285.1" width="135.6" height="105.1"/></clipPath>
<rect x="23.8" y="287.3" width="134.4" height="102.3" fill="none" stroke="#9a9a9a" stroke-width="0.5"/>
<text transform="translate(50.68 398.3) scale(1 1.08)" font-size="6.1" fill="#303030" text-anchor="middle">100</text>
<text transform="translate(77.56 398.3) scale(1 1.08)" font-size="6.1" fill="#303030" text-anchor="middle">200</text>
<text transform="translate(104.44 398.3) scale(1 1.08)" font-size="6.1" fill="#303030" text-anchor="middle">300</text>
<text transform="translate(131.32 398.3) scale(1 1.08)" font-size="6.1" fill="#303030" text-anchor="middle">400</text>
<text transform="translate(158.2 398.3) scale(1 1.08)" font-size="6.1" fill="#303030" text-anchor="middle">500</text>
<text transform="translate(21.5 298.25) scale(1 1.08)" font-size="6.1" fill="#303030" text-anchor="end">960</text>
<text transform="translate(21.5 309.85) scale(1 1.08)" font-size="6.1" fill="#303030" text-anchor="end">940</text>
<text transform="translate(21.5 321.75) scale(1 1.08)" font-size="6.1" fill="#303030" text-anchor="end">920</text>
<text transform="translate(21.5 333.85) scale(1 1.08)" font-size="6.1" fill="#303030" text-anchor="end">900</text>
<text transform="translate(21.5 346.15) scale(1 1.08)" font-size="6.1" fill="#303030" text-anchor="end">880</text>
<text transform="translate(21.5 358.75) scale(1 1.08)" font-size="6.1" fill="#303030" text-anchor="end">860</text>
<text transform="translate(21.5 371.65) scale(1 1.08)" font-size="6.1" fill="#303030" text-anchor="end">840</text>
<text transform="translate(21.5 384.65) scale(1 1.08)" font-size="6.1" fill="#303030" text-anchor="end">820</text>
<path d="M50.68 389.6v-1.3M50.68 287.3v1.3M77.56 389.6v-1.3M77.56 287.3v1.3M104.44 389.6v-1.3M104.44 287.3v1.3M131.32 389.6v-1.3M131.32 287.3v1.3M158.2 389.6v-1.3M158.2 287.3v1.3M23.8 295.9h1.3M158.2 295.9h-1.3M23.8 307.5h1.3M158.2 307.5h-1.3M23.8 319.4h1.3M158.2 319.4h-1.3M23.8 331.5h1.3M158.2 331.5h-1.3M23.8 343.8h1.3M158.2 343.8h-1.3M23.8 356.4h1.3M158.2 356.4h-1.3M23.8 369.3h1.3M158.2 369.3h-1.3M23.8 382.3h1.3M158.2 382.3h-1.3" stroke="#9a9a9a" stroke-width="0.5" fill="none"/>
<text transform="translate(91 285.5) scale(1 1.08)" font-size="6.9" fill="#111" text-anchor="middle">F8</text>
<text transform="translate(91 407) scale(1 1.08)" font-size="6.6" fill="#303030" text-anchor="middle">Iteration</text>
<text transform="translate(8.7 338.45) rotate(-90)" font-size="6.6" fill="#303030" text-anchor="middle">Fitness value</text>
<g clip-path="url(#c6)" fill="none" stroke-linejoin="miter" stroke-miterlimit="2.5">
<path d="M23.49 295.65L25.47 353.7L29.18 366.05L35.36 370.99L42.78 373.95L47.73 377.17L50.2 378.4L67.51 378.9L69.98 382.11L77.4 383.34L84.82 385.32L92.24 387.05L104.6 387.79L121.91 388.28L134.27 388.78L159 389.27" stroke="#000000" stroke-width="1.0"/>
<path d="M22.13 293.7L26.03 295.65L22.13 297.6Z" fill="#000000"/><path d="M35.57 369.58L39.47 371.53L35.57 373.48Z" fill="#000000"/><path d="M49.01 376.42L52.91 378.37L49.01 380.32Z" fill="#000000"/><path d="M62.45 376.83L66.35 378.78L62.45 380.73Z" fill="#000000"/><path d="M75.89 381.33L79.79 383.28L75.89 385.23Z" fill="#000000"/><path d="M89.33 384.68L93.23 386.63L89.33 388.58Z" fill="#000000"/><path d="M102.77 385.8L106.67 387.75L102.77 389.7Z" fill="#000000"/><path d="M116.21 386.2L120.11 388.15L116.21 390.1Z" fill="#000000"/><path d="M129.65 386.69L133.55 388.64L129.65 390.59Z" fill="#000000"/><path d="M143.09 387.03L146.99 388.98L143.09 390.93Z" fill="#000000"/>
<path d="M23.49 336.41L24.24 361.11L26.71 363.09L159 363.58" stroke="#ff0000" stroke-width="1.0"/>
<path d="M23.88 334.51L25.18 336.41L23.88 338.31L22.58 336.41Z" fill="#ff0000"/><path d="M37.32 361.22L38.62 363.12L37.32 365.02L36.02 363.12Z" fill="#ff0000"/><path d="M50.76 361.27L52.06 363.17L50.76 365.07L49.46 363.17Z" fill="#ff0000"/><path d="M64.2 361.32L65.5 363.22L64.2 365.12L62.9 363.22Z" fill="#ff0000"/><path d="M77.64 361.37L78.94 363.27L77.64 365.17L76.34 363.27Z" fill="#ff0000"/><path d="M91.08 361.42L92.38 363.32L91.08 365.22L89.78 363.32Z" fill="#ff0000"/><path d="M104.52 361.47L105.82 363.37L104.52 365.27L103.22 363.37Z" fill="#ff0000"/><path d="M117.96 361.52L119.26 363.42L117.96 365.32L116.66 363.42Z" fill="#ff0000"/><path d="M131.4 361.57L132.7 363.47L131.4 365.37L130.1 363.47Z" fill="#ff0000"/><path d="M144.84 361.62L146.14 363.52L144.84 365.42L143.54 363.52Z" fill="#ff0000"/>
<path d="M23.49 324.05L24.24 346.29L27.95 349.99L36.6 350.73L37.84 353.7L113.25 354.19L114.49 358.64L118.2 361.11L119.44 370.99L126.85 372.97L141.69 373.95L159 374.7" stroke="#0000ff" stroke-width="1.0"/>
<circle cx="23.88" cy="324.05" r="1.6" fill="#2828e0" stroke="#0000ff" stroke-width="0.5"/><circle cx="37.32" cy="350.98" r="1.6" fill="#2828e0" stroke="#0000ff" stroke-width="0.5"/><circle cx="50.76" cy="353.78" r="1.6" fill="#2828e0" stroke="#0000ff" stroke-width="0.5"/><circle cx="64.2" cy="353.87" r="1.6" fill="#2828e0" stroke="#0000ff" stroke-width="0.5"/><circle cx="77.64" cy="353.96" r="1.6" fill="#2828e0" stroke="#0000ff" stroke-width="0.5"/><circle cx="91.08" cy="354.04" r="1.6" fill="#2828e0" stroke="#0000ff" stroke-width="0.5"/><circle cx="104.52" cy="354.13" r="1.6" fill="#2828e0" stroke="#0000ff" stroke-width="0.5"/><circle cx="117.96" cy="360.54" r="1.6" fill="#2828e0" stroke="#0000ff" stroke-width="0.5"/><circle cx="131.4" cy="373.23" r="1.6" fill="#2828e0" stroke="#0000ff" stroke-width="0.5"/><circle cx="144.84" cy="374.06" r="1.6" fill="#2828e0" stroke="#0000ff" stroke-width="0.5"/>
<path d="M23.49 316.64L25.47 356.17L29.18 366.05L32.89 370.99L42.78 373.95L159 374.45" stroke="#ff00ff" stroke-width="1.0"/>
<circle cx="23.88" cy="316.64" r="1.25" fill="#ff00ff"/><circle cx="37.32" cy="372.13" r="1.25" fill="#ff00ff"/><circle cx="50.76" cy="373.99" r="1.25" fill="#ff00ff"/><circle cx="64.2" cy="374.04" r="1.25" fill="#ff00ff"/><circle cx="77.64" cy="374.1" r="1.25" fill="#ff00ff"/><circle cx="91.08" cy="374.16" r="1.25" fill="#ff00ff"/><circle cx="104.52" cy="374.21" r="1.25" fill="#ff00ff"/><circle cx="117.96" cy="374.27" r="1.25" fill="#ff00ff"/><circle cx="131.4" cy="374.33" r="1.25" fill="#ff00ff"/><circle cx="144.84" cy="374.39" r="1.25" fill="#ff00ff"/>
<path d="M23.49 302.32L27.95 302.32L29.18 311.7L62.56 311.7L63.06 322.82L63.8 329.49L84.82 329.98L89.76 332.7L92.24 336.41L92.73 354.19L118.2 354.69L120.67 358.64L124.38 361.11L125.62 368.52L159 368.77" stroke="#00ffff" stroke-width="1.0"/>
<path d="M23.88 300.32L25.88 303.92L21.88 303.92Z" fill="#00ffff"/><path d="M37.32 309.7L39.32 313.3L35.32 313.3Z" fill="#00ffff"/><path d="M50.76 309.7L52.76 313.3L48.76 313.3Z" fill="#00ffff"/><path d="M64.2 325.53L66.2 329.13L62.2 329.13Z" fill="#00ffff"/><path d="M77.64 327.8L79.64 331.4L75.64 331.4Z" fill="#00ffff"/><path d="M91.08 331.75L93.08 335.35L89.08 335.35Z" fill="#00ffff"/><path d="M104.52 352.41L106.52 356.01L102.52 356.01Z" fill="#00ffff"/><path d="M117.96 352.67L119.96 356.27L115.96 356.27Z" fill="#00ffff"/><path d="M131.4 366.56L133.4 370.16L129.4 370.16Z" fill="#00ffff"/><path d="M144.84 366.66L146.84 370.26L142.84 370.26Z" fill="#00ffff"/>
<path d="M23.49 311.7L25.47 348.76L27.95 354.93L32.89 356.66L72.45 357.16L79.87 358.64L84.82 360.62L97.18 362.34L102.13 364.81L107.07 367.29L121.91 368.03L159 368.52" stroke="#00ff00" stroke-width="1.0"/>
<path d="M23.88 309.6L24.41 310.97L25.88 311.05L24.74 311.98L25.11 313.4L23.88 312.6L22.65 313.4L23.02 311.98L21.88 311.05L23.35 310.97Z" fill="#00ff00"/><path d="M37.32 354.61L37.85 355.98L39.32 356.06L38.18 356.99L38.55 358.41L37.32 357.61L36.09 358.41L36.46 356.99L35.32 356.06L36.79 355.98Z" fill="#00ff00"/><path d="M50.76 354.78L51.29 356.15L52.76 356.23L51.62 357.16L51.99 358.58L50.76 357.78L49.53 358.58L49.9 357.16L48.76 356.23L50.23 356.15Z" fill="#00ff00"/><path d="M64.2 354.95L64.73 356.32L66.2 356.4L65.06 357.32L65.43 358.74L64.2 357.95L62.97 358.74L63.34 357.32L62.2 356.4L63.67 356.32Z" fill="#00ff00"/><path d="M77.64 355.97L78.17 357.34L79.64 357.42L78.5 358.35L78.87 359.77L77.64 358.97L76.41 359.77L76.78 358.35L75.64 357.42L77.11 357.34Z" fill="#00ff00"/><path d="M91.08 359.3L91.61 360.68L93.08 360.76L91.94 361.68L92.31 363.1L91.08 362.3L89.85 363.1L90.22 361.68L89.08 360.76L90.55 360.68Z" fill="#00ff00"/><path d="M104.52 363.6L105.05 364.97L106.52 365.05L105.38 365.98L105.75 367.4L104.52 366.6L103.29 367.4L103.66 365.98L102.52 365.05L103.99 364.97Z" fill="#00ff00"/><path d="M117.96 365.7L118.49 367.07L119.96 367.15L118.82 368.08L119.19 369.5L117.96 368.7L116.73 369.5L117.1 368.08L115.96 367.15L117.43 367.07Z" fill="#00ff00"/><path d="M131.4 366.04L131.93 367.42L133.4 367.5L132.26 368.42L132.63 369.84L131.4 369.04L130.17 369.84L130.54 368.42L129.4 367.5L130.87 367.42Z" fill="#00ff00"/><path d="M144.84 366.22L145.37 367.6L146.84 367.67L145.7 368.6L146.07 370.02L144.84 369.22L143.61 370.02L143.98 368.6L142.84 367.67L144.31 367.6Z" fill="#00ff00"/>
<path d="M23.49 287L24.24 348.76L26.71 358.64L29.18 363.58L30.42 368.52L35.36 369.76L114.49 370.25L159 370.25" stroke="#ff8000" stroke-width="1.0"/>
<rect x="22.28" y="285.4" width="3.2" height="3.2" fill="#ff8000"/><rect x="35.72" y="368.16" width="3.2" height="3.2" fill="#ff8000"/><rect x="49.16" y="368.25" width="3.2" height="3.2" fill="#ff8000"/><rect x="62.6" y="368.33" width="3.2" height="3.2" fill="#ff8000"/><rect x="76.04" y="368.42" width="3.2" height="3.2" fill="#ff8000"/><rect x="89.48" y="368.5" width="3.2" height="3.2" fill="#ff8000"/><rect x="102.92" y="368.58" width="3.2" height="3.2" fill="#ff8000"/><rect x="116.36" y="368.65" width="3.2" height="3.2" fill="#ff8000"/><rect x="129.8" y="368.65" width="3.2" height="3.2" fill="#ff8000"/><rect x="143.24" y="368.65" width="3.2" height="3.2" fill="#ff8000"/>
<path d="M23.49 311.7L25.47 351.23L27.95 361.11L30.42 364.81L37.84 366.05L52.67 366.54L72.45 367.29L104.6 368.03L116.96 369.01L118.2 372.97L120.67 377.17L129.33 378.9L134.27 380.87L141.69 383.84L151.58 385.81L159 387.05" stroke="#a020f0" stroke-width="1.0"/>
<circle cx="23.88" cy="311.7" r="1.2" fill="#a020f0"/><circle cx="37.32" cy="365.86" r="1.2" fill="#a020f0"/><circle cx="50.76" cy="366.46" r="1.2" fill="#a020f0"/><circle cx="64.2" cy="366.95" r="1.2" fill="#a020f0"/><circle cx="77.64" cy="367.39" r="1.2" fill="#a020f0"/><circle cx="91.08" cy="367.7" r="1.2" fill="#a020f0"/><circle cx="104.52" cy="368.01" r="1.2" fill="#a020f0"/><circle cx="117.96" cy="370.23" r="1.2" fill="#a020f0"/><circle cx="131.4" cy="379.48" r="1.2" fill="#a020f0"/><circle cx="144.84" cy="384.34" r="1.2" fill="#a020f0"/>
<path d="M23.49 336.41L26.71 351.23L30.42 361.11L32.89 364.07L47.73 364.81L52.67 366.05L55.15 368.52L69.98 369.01L72.45 372.23L74.93 375.44L79.87 376.43L84.82 378.4L89.76 380.87L97.18 382.11L121.91 382.6L159 382.85" stroke="#008080" stroke-width="1.0"/>
<circle cx="23.88" cy="336.41" r="1.8" fill="#008080"/><circle cx="37.32" cy="364.26" r="1.8" fill="#008080"/><circle cx="50.76" cy="365.42" r="1.8" fill="#008080"/><circle cx="64.2" cy="368.8" r="1.8" fill="#008080"/><circle cx="77.64" cy="375.86" r="1.8" fill="#008080"/><circle cx="91.08" cy="380.99" r="1.8" fill="#008080"/><circle cx="104.52" cy="382.24" r="1.8" fill="#008080"/><circle cx="117.96" cy="382.51" r="1.8" fill="#008080"/><circle cx="131.4" cy="382.66" r="1.8" fill="#008080"/><circle cx="144.84" cy="382.75" r="1.8" fill="#008080"/>
</g>
<clipPath id="c7"><rect x="211.4" y="285.1" width="145.1" height="114"/></clipPath>
<rect x="212" y="287.3" width="143.9" height="111.2" fill="none" stroke="#9a9a9a" stroke-width="0.5"/>
<text transform="translate(240.78 407.2) scale(1 1.08)" font-size="6.1" fill="#303030" text-anchor="middle">100</text>
<text transform="translate(269.56 407.2) scale(1 1.08)" font-size="6.1" fill="#303030" text-anchor="middle">200</text>
<text transform="translate(298.34 407.2) scale(1 1.08)" font-size="6.1" fill="#303030" text-anchor="middle">300</text>
<text transform="translate(327.12 407.2) scale(1 1.08)" font-size="6.1" fill="#303030" text-anchor="middle">400</text>
<text transform="translate(355.9 407.2) scale(1 1.08)" font-size="6.1" fill="#303030" text-anchor="middle">500</text>
<text transform="translate(207.25 300) scale(1 1.08)" font-size="6.1" fill="#303030" text-anchor="end">10</text>
<text transform="translate(207.55 296.8) scale(1 1.08)" font-size="4.4" fill="#303030" text-anchor="start">4</text>
<text transform="translate(207.25 398) scale(1 1.08)" font-size="6.1" fill="#303030" text-anchor="end">10</text>
<text transform="translate(207.55 394.8) scale(1 1.08)" font-size="4.4" fill="#303030" text-anchor="start">3</text>
<path d="M240.78 398.5v-1.3M240.78 287.3v1.3M269.56 398.5v-1.3M269.56 287.3v1.3M298.34 398.5v-1.3M298.34 287.3v1.3M327.12 398.5v-1.3M327.12 287.3v1.3M355.9 398.5v-1.3M355.9 287.3v1.3M212 297h1.3M355.9 297h-1.3M212 395h1.3M355.9 395h-1.3" stroke="#9a9a9a" stroke-width="0.5" fill="none"/>
<text transform="translate(283.95 285.5) scale(1 1.08)" font-size="6.9" fill="#111" text-anchor="middle">F9</text>
<text transform="translate(283.95 415.9) scale(1 1.08)" font-size="6.6" fill="#303030" text-anchor="middle">Iteration</text>
<text transform="translate(197.5 342.9) rotate(-90)" font-size="6.6" fill="#303030" text-anchor="middle">Fitness value</text>
<g clip-path="url(#c7)" fill="none" stroke-linejoin="miter" stroke-miterlimit="2.5">
<path d="M212 329.16L212.79 341.81L214.37 343.4L216.75 352.88L219.12 353.67L220.7 360.79L225.45 363.95L226.24 373.44L227.82 381.34L230.19 386.09L239.68 389.25L247.59 390.04L255.5 390.83L268.15 392.41L274.48 393.2L276.06 395.84L357 397.42" stroke="#000000" stroke-width="1.0"/>
<path d="M210.33 327.21L214.23 329.16L210.33 331.11Z" fill="#000000"/><path d="M224.72 366.46L228.62 368.41L224.72 370.36Z" fill="#000000"/><path d="M239.11 387.35L243.01 389.3L239.11 391.25Z" fill="#000000"/><path d="M253.5 388.79L257.4 390.74L253.5 392.69Z" fill="#000000"/><path d="M267.89 390.57L271.79 392.52L267.89 394.47Z" fill="#000000"/><path d="M282.28 394.03L286.18 395.98L282.28 397.93Z" fill="#000000"/><path d="M296.67 394.31L300.57 396.26L296.67 398.21Z" fill="#000000"/><path d="M311.06 394.59L314.96 396.54L311.06 398.49Z" fill="#000000"/><path d="M325.45 394.87L329.35 396.82L325.45 398.77Z" fill="#000000"/><path d="M339.84 395.16L343.74 397.11L339.84 399.06Z" fill="#000000"/>
<path d="M212 287L213.32 358.15L214.37 360.79L215.16 367.11L219.12 371.07L225.45 373.44L231.77 374.49L357 375.02" stroke="#ff0000" stroke-width="1.0"/>
<path d="M212.09 285.1L213.39 287L212.09 288.9L210.79 287Z" fill="#ff0000"/><path d="M226.48 371.6L227.78 373.5L226.48 375.4L225.18 373.5Z" fill="#ff0000"/><path d="M240.87 372.63L242.17 374.53L240.87 376.43L239.57 374.53Z" fill="#ff0000"/><path d="M255.26 372.69L256.56 374.59L255.26 376.49L253.96 374.59Z" fill="#ff0000"/><path d="M269.65 372.75L270.95 374.65L269.65 376.55L268.35 374.65Z" fill="#ff0000"/><path d="M284.04 372.81L285.34 374.71L284.04 376.61L282.74 374.71Z" fill="#ff0000"/><path d="M298.43 372.87L299.73 374.77L298.43 376.67L297.13 374.77Z" fill="#ff0000"/><path d="M312.82 372.93L314.12 374.83L312.82 376.73L311.52 374.83Z" fill="#ff0000"/><path d="M327.21 372.99L328.51 374.89L327.21 376.79L325.91 374.89Z" fill="#ff0000"/><path d="M341.6 373.05L342.9 374.95L341.6 376.85L340.3 374.95Z" fill="#ff0000"/>
<path d="M212 309.4L213.58 363.95L215.95 367.11L224.65 367.9L225.45 373.44L231.77 374.23L239.68 374.76L244.43 376.34L269.74 376.6L270.53 388.46L299 388.72L300.32 389.78L313.5 390.3L314.82 392.41L322.73 393.73L330.64 395.05L357 395.57" stroke="#0000ff" stroke-width="1.0"/>
<circle cx="212.09" cy="309.4" r="1.6" fill="#2828e0" stroke="#0000ff" stroke-width="0.5"/><circle cx="226.48" cy="373.48" r="1.6" fill="#2828e0" stroke="#0000ff" stroke-width="0.5"/><circle cx="240.87" cy="374.93" r="1.6" fill="#2828e0" stroke="#0000ff" stroke-width="0.5"/><circle cx="255.26" cy="376.44" r="1.6" fill="#2828e0" stroke="#0000ff" stroke-width="0.5"/><circle cx="269.65" cy="376.59" r="1.6" fill="#2828e0" stroke="#0000ff" stroke-width="0.5"/><circle cx="284.04" cy="388.58" r="1.6" fill="#2828e0" stroke="#0000ff" stroke-width="0.5"/><circle cx="298.43" cy="388.71" r="1.6" fill="#2828e0" stroke="#0000ff" stroke-width="0.5"/><circle cx="312.82" cy="390.25" r="1.6" fill="#2828e0" stroke="#0000ff" stroke-width="0.5"/><circle cx="327.21" cy="394.37" r="1.6" fill="#2828e0" stroke="#0000ff" stroke-width="0.5"/><circle cx="341.6" cy="395.25" r="1.6" fill="#2828e0" stroke="#0000ff" stroke-width="0.5"/>
<path d="M212 313.35L213.58 363.95L215.95 365.53L223.86 367.9L231.77 368.69L285.03 369.48L357 369.75" stroke="#ff00ff" stroke-width="1.0"/>
<circle cx="212.09" cy="313.35" r="1.25" fill="#ff00ff"/><circle cx="226.48" cy="368.1" r="1.25" fill="#ff00ff"/><circle cx="240.87" cy="368.82" r="1.25" fill="#ff00ff"/><circle cx="255.26" cy="369.03" r="1.25" fill="#ff00ff"/><circle cx="269.65" cy="369.25" r="1.25" fill="#ff00ff"/><circle cx="284.04" cy="369.46" r="1.25" fill="#ff00ff"/><circle cx="298.43" cy="369.53" r="1.25" fill="#ff00ff"/><circle cx="312.82" cy="369.58" r="1.25" fill="#ff00ff"/><circle cx="327.21" cy="369.64" r="1.25" fill="#ff00ff"/><circle cx="341.6" cy="369.69" r="1.25" fill="#ff00ff"/>
<path d="M212 318.89L212.79 320.73L250.75 320.89L251.55 330.75L255.5 331.27L256.29 336.28L260.25 336.81L261.04 345.77L272.9 346.29L273.69 348.14L275.27 351.3L285.03 351.83L287.14 352.88L288.45 357.63L299 358.15L299.53 368.69L312.18 369.22L313.5 376.6L316.14 381.34L325.36 382.4L328 383.98L357 384.51" stroke="#00ffff" stroke-width="1.0"/>
<path d="M212.09 316.89L214.09 320.49L210.09 320.49Z" fill="#00ffff"/><path d="M226.48 318.79L228.48 322.39L224.48 322.39Z" fill="#00ffff"/><path d="M240.87 318.85L242.87 322.45L238.87 322.45Z" fill="#00ffff"/><path d="M255.26 329.15L257.26 332.75L253.26 332.75Z" fill="#00ffff"/><path d="M269.65 344.12L271.65 347.72L267.65 347.72Z" fill="#00ffff"/><path d="M284.04 349.74L286.04 353.34L282.04 353.34Z" fill="#00ffff"/><path d="M298.43 356.09L300.43 359.69L296.43 359.69Z" fill="#00ffff"/><path d="M312.82 367.22L314.82 370.82L310.82 370.82Z" fill="#00ffff"/><path d="M327.21 381.11L329.21 384.71L325.21 384.71Z" fill="#00ffff"/><path d="M341.6 382.21L343.6 385.81L339.6 385.81Z" fill="#00ffff"/>
<path d="M212 326.53L213.32 373.96L215.95 379.24L222.55 380.55L299 380.82L300.32 383.19L317.45 383.98L357 385.03" stroke="#00ff00" stroke-width="1.0"/>
<path d="M212.09 324.43L212.62 325.8L214.08 325.88L212.94 326.81L213.32 328.23L212.09 327.43L210.85 328.23L211.23 326.81L210.09 325.88L211.56 325.8Z" fill="#00ff00"/><path d="M226.48 378.46L227.01 379.84L228.47 379.92L227.33 380.84L227.71 382.26L226.48 381.46L225.24 382.26L225.62 380.84L224.48 379.92L225.95 379.84Z" fill="#00ff00"/><path d="M240.87 378.51L241.4 379.89L242.86 379.96L241.72 380.89L242.1 382.31L240.87 381.51L239.63 382.31L240.01 380.89L238.87 379.96L240.34 379.89Z" fill="#00ff00"/><path d="M255.26 378.56L255.79 379.94L257.25 380.01L256.11 380.94L256.49 382.36L255.26 381.56L254.02 382.36L254.4 380.94L253.26 380.01L254.73 379.94Z" fill="#00ff00"/><path d="M269.65 378.61L270.18 379.98L271.64 380.06L270.5 380.99L270.88 382.41L269.65 381.61L268.41 382.41L268.79 380.99L267.65 380.06L269.12 379.98Z" fill="#00ff00"/><path d="M284.04 378.66L284.57 380.03L286.03 380.11L284.89 381.04L285.27 382.46L284.04 381.66L282.8 382.46L283.18 381.04L282.04 380.11L283.51 380.03Z" fill="#00ff00"/><path d="M298.43 378.71L298.96 380.08L300.42 380.16L299.28 381.09L299.66 382.51L298.43 381.71L297.19 382.51L297.57 381.09L296.43 380.16L297.9 380.08Z" fill="#00ff00"/><path d="M312.82 381.63L313.35 383.01L314.81 383.09L313.67 384.01L314.05 385.43L312.82 384.63L311.58 385.43L311.96 384.01L310.82 383.09L312.29 383.01Z" fill="#00ff00"/><path d="M327.21 382.12L327.74 383.49L329.2 383.57L328.06 384.5L328.44 385.92L327.21 385.12L325.97 385.92L326.35 384.5L325.21 383.57L326.68 383.49Z" fill="#00ff00"/><path d="M341.6 382.5L342.13 383.88L343.59 383.96L342.45 384.88L342.83 386.3L341.6 385.5L340.36 386.3L340.74 384.88L339.6 383.96L341.07 383.88Z" fill="#00ff00"/>
<path d="M212 303.34L212.79 379.76L215.95 392.41L219.12 395.57L285.03 397.16L357 398.21" stroke="#ff8000" stroke-width="1.0"/>
<rect x="210.49" y="301.74" width="3.2" height="3.2" fill="#ff8000"/><rect x="224.88" y="394.13" width="3.2" height="3.2" fill="#ff8000"/><rect x="239.27" y="394.48" width="3.2" height="3.2" fill="#ff8000"/><rect x="253.66" y="394.83" width="3.2" height="3.2" fill="#ff8000"/><rect x="268.05" y="395.17" width="3.2" height="3.2" fill="#ff8000"/><rect x="282.44" y="395.52" width="3.2" height="3.2" fill="#ff8000"/><rect x="296.83" y="395.74" width="3.2" height="3.2" fill="#ff8000"/><rect x="311.22" y="395.95" width="3.2" height="3.2" fill="#ff8000"/><rect x="325.61" y="396.16" width="3.2" height="3.2" fill="#ff8000"/><rect x="340" y="396.37" width="3.2" height="3.2" fill="#ff8000"/>
<path d="M212 320.73L212.79 373.44L214.37 386.09L217.54 390.83L223.86 392.41L239.68 393.99L255.5 394.78L285.03 395.84L357 396.89" stroke="#a020f0" stroke-width="1.0"/>
<circle cx="212.09" cy="320.73" r="1.2" fill="#a020f0"/><circle cx="226.48" cy="392.61" r="1.2" fill="#a020f0"/><circle cx="240.87" cy="394.02" r="1.2" fill="#a020f0"/><circle cx="255.26" cy="394.74" r="1.2" fill="#a020f0"/><circle cx="269.65" cy="395.27" r="1.2" fill="#a020f0"/><circle cx="284.04" cy="395.78" r="1.2" fill="#a020f0"/><circle cx="298.43" cy="396.02" r="1.2" fill="#a020f0"/><circle cx="312.82" cy="396.23" r="1.2" fill="#a020f0"/><circle cx="327.21" cy="396.45" r="1.2" fill="#a020f0"/><circle cx="341.6" cy="396.66" r="1.2" fill="#a020f0"/>
<path d="M212 287L212.79 329.16L217.54 329.69L218.33 348.14L219.91 359.21L221.49 363.16L231.77 363.69L232.56 373.44L246.01 373.96L246.8 376.6L249.17 381.34L250.75 387.67L253.92 392.41L268.15 392.94L269.74 395.57L285.03 396.63L357 397.95" stroke="#008080" stroke-width="1.0"/>
<circle cx="212.09" cy="287" r="1.8" fill="#008080"/><circle cx="226.48" cy="363.38" r="1.8" fill="#008080"/><circle cx="240.87" cy="373.74" r="1.8" fill="#008080"/><circle cx="255.26" cy="392.44" r="1.8" fill="#008080"/><circle cx="269.65" cy="394.33" r="1.8" fill="#008080"/><circle cx="284.04" cy="396.51" r="1.8" fill="#008080"/><circle cx="298.43" cy="396.86" r="1.8" fill="#008080"/><circle cx="312.82" cy="397.12" r="1.8" fill="#008080"/><circle cx="327.21" cy="397.39" r="1.8" fill="#008080"/><circle cx="341.6" cy="397.65" r="1.8" fill="#008080"/>
</g>
<clipPath id="c8"><rect x="398.5" y="285.1" width="143.7" height="114"/></clipPath>
<rect x="399.1" y="287.3" width="142.5" height="111.2" fill="none" stroke="#9a9a9a" stroke-width="0.5"/>
<text transform="translate(427.6 407.2) scale(1 1.08)" font-size="6.1" fill="#303030" text-anchor="middle">100</text>
<text transform="translate(456.1 407.2) scale(1 1.08)" font-size="6.1" fill="#303030" text-anchor="middle">200</text>
<text transform="translate(484.6 407.2) scale(1 1.08)" font-size="6.1" fill="#303030" text-anchor="middle">300</text>
<text transform="translate(513.1 407.2) scale(1 1.08)" font-size="6.1" fill="#303030" text-anchor="middle">400</text>
<text transform="translate(541.6 407.2) scale(1 1.08)" font-size="6.1" fill="#303030" text-anchor="middle">500</text>
<text transform="translate(396.8 298.95) scale(1 1.08)" font-size="6.1" fill="#303030" text-anchor="end">4000</text>
<text transform="translate(396.8 314.65) scale(1 1.08)" font-size="6.1" fill="#303030" text-anchor="end">3500</text>
<text transform="translate(396.8 333.15) scale(1 1.08)" font-size="6.1" fill="#303030" text-anchor="end">3000</text>
<text transform="translate(396.8 354.75) scale(1 1.08)" font-size="6.1" fill="#303030" text-anchor="end">2500</text>
<text transform="translate(396.8 381.15) scale(1 1.08)" font-size="6.1" fill="#303030" text-anchor="end">2000</text>
<path d="M427.6 398.5v-1.3M427.6 287.3v1.3M456.1 398.5v-1.3M456.1 287.3v1.3M484.6 398.5v-1.3M484.6 287.3v1.3M513.1 398.5v-1.3M513.1 287.3v1.3M541.6 398.5v-1.3M541.6 287.3v1.3M399.1 296.6h1.3M541.6 296.6h-1.3M399.1 312.3h1.3M541.6 312.3h-1.3M399.1 330.8h1.3M541.6 330.8h-1.3M399.1 352.4h1.3M541.6 352.4h-1.3M399.1 378.8h1.3M541.6 378.8h-1.3" stroke="#9a9a9a" stroke-width="0.5" fill="none"/>
<text transform="translate(470.35 285.5) scale(1 1.08)" font-size="6.9" fill="#111" text-anchor="middle">F10</text>
<text transform="translate(470.35 415.9) scale(1 1.08)" font-size="6.6" fill="#303030" text-anchor="middle">Iteration</text>
<text transform="translate(381.4 342.9) rotate(-90)" font-size="6.6" fill="#303030" text-anchor="middle">Fitness value</text>
<g clip-path="url(#c8)" fill="none" stroke-linejoin="miter" stroke-miterlimit="2.5">
<path d="M398.79 313.35L399.74 321.26L401.32 337.07L404.49 341.81L406.07 360.79L407.65 363.95L412.39 367.11L414.77 368.69L415.56 376.6L423.47 378.18L425.05 381.34L428.21 383.72L432.96 387.67L440.87 390.04L447.19 392.41L455.1 393.2L461.43 394.26L471.82 394.52L482.36 396.1L503.45 397.16L543 397.68" stroke="#000000" stroke-width="1.0"/>
<path d="M397.43 311.4L401.33 313.35L397.43 315.3Z" fill="#000000"/><path d="M411.68 365.42L415.58 367.37L411.68 369.32Z" fill="#000000"/><path d="M425.93 380.88L429.83 382.83L425.93 384.78Z" fill="#000000"/><path d="M440.18 388.24L444.08 390.19L440.18 392.14Z" fill="#000000"/><path d="M454.43 391.32L458.33 393.27L454.43 395.22Z" fill="#000000"/><path d="M468.68 392.52L472.58 394.47L468.68 396.42Z" fill="#000000"/><path d="M482.93 394.23L486.83 396.18L482.93 398.13Z" fill="#000000"/><path d="M497.18 394.95L501.08 396.9L497.18 398.85Z" fill="#000000"/><path d="M511.43 395.33L515.33 397.28L511.43 399.23Z" fill="#000000"/><path d="M525.68 395.52L529.58 397.47L525.68 399.42Z" fill="#000000"/>
<path d="M398.95 299.12L399.74 322.84L402.11 323.63L402.9 333.91L405.28 334.7L406.07 343.4L410.02 344.19L410.81 351.3L455.1 352.09L455.89 354.46L477.09 354.99L543 355.52" stroke="#ff0000" stroke-width="1.0"/>
<path d="M399.19 297.22L400.49 299.12L399.19 301.02L397.89 299.12Z" fill="#ff0000"/><path d="M413.44 349.44L414.74 351.34L413.44 353.24L412.14 351.34Z" fill="#ff0000"/><path d="M427.69 349.69L428.99 351.59L427.69 353.49L426.39 351.59Z" fill="#ff0000"/><path d="M441.94 349.94L443.24 351.84L441.94 353.74L440.64 351.84Z" fill="#ff0000"/><path d="M456.19 351.46L457.49 353.36L456.19 355.26L454.89 353.36Z" fill="#ff0000"/><path d="M470.44 352.91L471.74 354.81L470.44 356.71L469.14 354.81Z" fill="#ff0000"/><path d="M484.69 353.15L485.99 355.05L484.69 356.95L483.39 355.05Z" fill="#ff0000"/><path d="M498.94 353.26L500.24 355.16L498.94 357.06L497.64 355.16Z" fill="#ff0000"/><path d="M513.19 353.37L514.49 355.27L513.19 357.17L511.89 355.27Z" fill="#ff0000"/><path d="M527.44 353.49L528.74 355.39L527.44 357.29L526.14 355.39Z" fill="#ff0000"/>
<path d="M398.95 296.75L399.74 305.45L400.53 314.14L408.44 314.93L409.23 322.84L418.72 323.37L419.51 329.16L427.42 329.96L428.21 335.49L430.59 337.86L494.23 337.86L495.55 341.02L496.86 350.25L503.45 352.88L511.36 354.99L524.55 356.04L543 356.57" stroke="#0000ff" stroke-width="1.0"/>
<circle cx="399.19" cy="296.75" r="1.6" fill="#2828e0" stroke="#0000ff" stroke-width="0.5"/><circle cx="413.44" cy="323.04" r="1.6" fill="#2828e0" stroke="#0000ff" stroke-width="0.5"/><circle cx="427.69" cy="329.92" r="1.6" fill="#2828e0" stroke="#0000ff" stroke-width="0.5"/><circle cx="441.94" cy="337.86" r="1.6" fill="#2828e0" stroke="#0000ff" stroke-width="0.5"/><circle cx="456.19" cy="337.86" r="1.6" fill="#2828e0" stroke="#0000ff" stroke-width="0.5"/><circle cx="470.44" cy="337.86" r="1.6" fill="#2828e0" stroke="#0000ff" stroke-width="0.5"/><circle cx="484.69" cy="337.86" r="1.6" fill="#2828e0" stroke="#0000ff" stroke-width="0.5"/><circle cx="498.94" cy="350.81" r="1.6" fill="#2828e0" stroke="#0000ff" stroke-width="0.5"/><circle cx="513.19" cy="355.08" r="1.6" fill="#2828e0" stroke="#0000ff" stroke-width="0.5"/><circle cx="527.44" cy="356.11" r="1.6" fill="#2828e0" stroke="#0000ff" stroke-width="0.5"/>
<path d="M398.95 322.84L400.53 332.33L402.11 343.4L404.49 352.88L407.65 356.04L413.98 357.89L471.82 358.42L543 358.42" stroke="#ff00ff" stroke-width="1.0"/>
<circle cx="399.19" cy="322.84" r="1.25" fill="#ff00ff"/><circle cx="413.44" cy="357.54" r="1.25" fill="#ff00ff"/><circle cx="427.69" cy="358.01" r="1.25" fill="#ff00ff"/><circle cx="441.94" cy="358.14" r="1.25" fill="#ff00ff"/><circle cx="456.19" cy="358.27" r="1.25" fill="#ff00ff"/><circle cx="470.44" cy="358.4" r="1.25" fill="#ff00ff"/><circle cx="484.69" cy="358.42" r="1.25" fill="#ff00ff"/><circle cx="498.94" cy="358.42" r="1.25" fill="#ff00ff"/><circle cx="513.19" cy="358.42" r="1.25" fill="#ff00ff"/><circle cx="527.44" cy="358.42" r="1.25" fill="#ff00ff"/>
<path d="M398.16 300.7L399.74 321.26L442.45 321.68L442.77 332.75L543 332.85" stroke="#00ffff" stroke-width="1.0"/>
<path d="M399.19 298.7L401.19 302.3L397.19 302.3Z" fill="#00ffff"/><path d="M413.44 319.39L415.44 322.99L411.44 322.99Z" fill="#00ffff"/><path d="M427.69 319.53L429.69 323.13L425.69 323.13Z" fill="#00ffff"/><path d="M441.94 319.67L443.94 323.27L439.94 323.27Z" fill="#00ffff"/><path d="M456.19 330.76L458.19 334.36L454.19 334.36Z" fill="#00ffff"/><path d="M470.44 330.78L472.44 334.38L468.44 334.38Z" fill="#00ffff"/><path d="M484.69 330.79L486.69 334.39L482.69 334.39Z" fill="#00ffff"/><path d="M498.94 330.81L500.94 334.41L496.94 334.41Z" fill="#00ffff"/><path d="M513.19 330.82L515.19 334.42L511.19 334.42Z" fill="#00ffff"/><path d="M527.44 330.84L529.44 334.44L525.44 334.44Z" fill="#00ffff"/>
<path d="M399.42 287.26L399.42 302.28L404.49 305.45L409.23 311.77L413.98 318.1L417.14 324.42L420.3 330.75L424.26 337.07L426.63 343.4L442.45 343.82L443.24 344.98L471.82 345.5L477.09 346.29L485 348.14L492.91 350.25L503.45 351.83L529.82 352.88L537.73 354.2L539.05 363.42L541.68 370.01L543 372.65" stroke="#00ff00" stroke-width="1.0"/>
<path d="M399.19 285.16L399.71 286.54L401.18 286.61L400.04 287.54L400.42 288.96L399.19 288.16L397.95 288.96L398.33 287.54L397.19 286.61L398.66 286.54Z" fill="#00ff00"/><path d="M413.44 314.4L413.96 315.77L415.43 315.85L414.29 316.78L414.67 318.2L413.44 317.4L412.2 318.2L412.58 316.78L411.44 315.85L412.91 315.77Z" fill="#00ff00"/><path d="M427.69 341.31L428.21 342.68L429.68 342.76L428.54 343.68L428.92 345.1L427.69 344.31L426.45 345.1L426.83 343.68L425.69 342.76L427.16 342.68Z" fill="#00ff00"/><path d="M441.94 341.69L442.46 343.06L443.93 343.14L442.79 344.06L443.17 345.48L441.94 344.69L440.7 345.48L441.08 344.06L439.94 343.14L441.41 343.06Z" fill="#00ff00"/><path d="M456.19 343.1L456.71 344.47L458.18 344.55L457.04 345.48L457.42 346.9L456.19 346.1L454.95 346.9L455.33 345.48L454.19 344.55L455.66 344.47Z" fill="#00ff00"/><path d="M470.44 343.37L470.96 344.74L472.43 344.82L471.29 345.74L471.67 347.16L470.44 346.37L469.2 347.16L469.58 345.74L468.44 344.82L469.91 344.74Z" fill="#00ff00"/><path d="M484.69 345.81L485.21 347.18L486.68 347.26L485.54 348.19L485.92 349.61L484.69 348.81L483.45 349.61L483.83 348.19L482.69 347.26L484.16 347.18Z" fill="#00ff00"/><path d="M498.94 348.95L499.46 350.32L500.93 350.4L499.79 351.33L500.17 352.75L498.94 351.95L497.7 352.75L498.08 351.33L496.94 350.4L498.41 350.32Z" fill="#00ff00"/><path d="M513.19 350.09L513.71 351.46L515.18 351.54L514.04 352.47L514.42 353.89L513.19 353.09L511.95 353.89L512.33 352.47L511.19 351.54L512.66 351.46Z" fill="#00ff00"/><path d="M527.44 350.66L527.96 352.03L529.43 352.11L528.29 353.04L528.67 354.46L527.44 353.66L526.2 354.46L526.58 353.04L525.44 352.11L526.91 352.03Z" fill="#00ff00"/>
<path d="M398.95 300.7L400.53 313.35L401.32 318.89L406.86 319.41L407.65 338.65L413.98 340.23L415.56 344.98L420.3 345.77L421.89 351.3L429 352.09L429.79 363.95L432.96 367.11L440.87 367.9L444.03 371.86L448.78 376.6L451.15 382.92L454.31 385.3L485 385.56L487.64 387.67L503.45 388.46L511.36 389.78L524.55 391.09L543 392.41" stroke="#ff8000" stroke-width="1.0"/>
<rect x="397.59" y="299.1" width="3.2" height="3.2" fill="#ff8000"/><rect x="411.84" y="338.33" width="3.2" height="3.2" fill="#ff8000"/><rect x="426.09" y="350.27" width="3.2" height="3.2" fill="#ff8000"/><rect x="440.34" y="366.81" width="3.2" height="3.2" fill="#ff8000"/><rect x="454.59" y="383.71" width="3.2" height="3.2" fill="#ff8000"/><rect x="468.84" y="383.83" width="3.2" height="3.2" fill="#ff8000"/><rect x="483.09" y="383.95" width="3.2" height="3.2" fill="#ff8000"/><rect x="497.34" y="386.6" width="3.2" height="3.2" fill="#ff8000"/><rect x="511.59" y="388.29" width="3.2" height="3.2" fill="#ff8000"/><rect x="525.84" y="389.65" width="3.2" height="3.2" fill="#ff8000"/>
<path d="M398.95 296.75L399.74 324.42L401.32 335.49L404.49 337.07L405.28 346.56L409.23 348.14L410.02 352.88L426.63 354.46L475.77 354.99L477.09 362.9L536.41 363.42L543 363.42" stroke="#a020f0" stroke-width="1.0"/>
<circle cx="399.19" cy="296.75" r="1.2" fill="#a020f0"/><circle cx="413.44" cy="353.14" r="1.2" fill="#a020f0"/><circle cx="427.69" cy="354.47" r="1.2" fill="#a020f0"/><circle cx="441.94" cy="354.62" r="1.2" fill="#a020f0"/><circle cx="456.19" cy="354.77" r="1.2" fill="#a020f0"/><circle cx="470.44" cy="354.93" r="1.2" fill="#a020f0"/><circle cx="484.69" cy="362.96" r="1.2" fill="#a020f0"/><circle cx="498.94" cy="363.08" r="1.2" fill="#a020f0"/><circle cx="513.19" cy="363.21" r="1.2" fill="#a020f0"/><circle cx="527.44" cy="363.34" r="1.2" fill="#a020f0"/>
<path d="M398.95 308.61L399.74 310.19L402.9 319.68L407.65 326.79L412.39 329.96L426.63 330.48L429 335.49L436.12 338.65L440.87 339.44L442.45 344.19L444.82 349.72L447.19 354.46L448.78 359.21L451.94 362.37L455.1 365.53L456.69 367.9L461.43 371.07L466.18 373.44L471.82 374.23L477.09 375.02L543 375.02" stroke="#008080" stroke-width="1.0"/>
<circle cx="399.19" cy="308.61" r="1.8" fill="#008080"/><circle cx="413.44" cy="329.97" r="1.8" fill="#008080"/><circle cx="427.69" cy="331.32" r="1.8" fill="#008080"/><circle cx="441.94" cy="340.67" r="1.8" fill="#008080"/><circle cx="456.19" cy="366.17" r="1.8" fill="#008080"/><circle cx="470.44" cy="373.94" r="1.8" fill="#008080"/><circle cx="484.69" cy="375.02" r="1.8" fill="#008080"/><circle cx="498.94" cy="375.02" r="1.8" fill="#008080"/><circle cx="513.19" cy="375.02" r="1.8" fill="#008080"/><circle cx="527.44" cy="375.02" r="1.8" fill="#008080"/>
</g>
<clipPath id="c9"><rect x="24.7" y="426.2" width="145.3" height="113"/></clipPath>
<rect x="25.3" y="428.4" width="144.1" height="110.2" fill="none" stroke="#9a9a9a" stroke-width="0.5"/>
<text transform="translate(54.12 547.3) scale(1 1.08)" font-size="6.1" fill="#303030" text-anchor="middle">100</text>
<text transform="translate(82.94 547.3) scale(1 1.08)" font-size="6.1" fill="#303030" text-anchor="middle">200</text>
<text transform="translate(111.76 547.3) scale(1 1.08)" font-size="6.1" fill="#303030" text-anchor="middle">300</text>
<text transform="translate(140.58 547.3) scale(1 1.08)" font-size="6.1" fill="#303030" text-anchor="middle">400</text>
<text transform="translate(169.4 547.3) scale(1 1.08)" font-size="6.1" fill="#303030" text-anchor="middle">500</text>
<text transform="translate(20.55 465.5) scale(1 1.08)" font-size="6.1" fill="#303030" text-anchor="end">10</text>
<text transform="translate(20.85 462.3) scale(1 1.08)" font-size="4.4" fill="#303030" text-anchor="start">5</text>
<text transform="translate(20.55 503.8) scale(1 1.08)" font-size="6.1" fill="#303030" text-anchor="end">10</text>
<text transform="translate(20.85 500.6) scale(1 1.08)" font-size="4.4" fill="#303030" text-anchor="start">4</text>
<path d="M54.12 538.6v-1.3M54.12 428.4v1.3M82.94 538.6v-1.3M82.94 428.4v1.3M111.76 538.6v-1.3M111.76 428.4v1.3M140.58 538.6v-1.3M140.58 428.4v1.3M169.4 538.6v-1.3M169.4 428.4v1.3M25.3 462.5h1.3M169.4 462.5h-1.3M25.3 500.8h1.3M169.4 500.8h-1.3" stroke="#9a9a9a" stroke-width="0.5" fill="none"/>
<text transform="translate(97.35 426.6) scale(1 1.08)" font-size="6.9" fill="#111" text-anchor="middle">F11</text>
<text transform="translate(97.35 556) scale(1 1.08)" font-size="6.6" fill="#303030" text-anchor="middle">Iteration</text>
<text transform="translate(10.8 483.5) rotate(-90)" font-size="6.6" fill="#303030" text-anchor="middle">Fitness value</text>
<g clip-path="url(#c9)" fill="none" stroke-linejoin="miter" stroke-miterlimit="2.5">
<path d="M25 464.91L25.79 515.01L27.64 522.92L30.27 528.19L35.55 530.83L40.82 533.46L51.36 535.84L77.73 537.42L170 538.21" stroke="#000000" stroke-width="1.0"/>
<path d="M23.63 462.96L27.53 464.91L23.63 466.86Z" fill="#000000"/><path d="M38.04 530.67L41.94 532.62L38.04 534.57Z" fill="#000000"/><path d="M52.45 534.02L56.35 535.97L52.45 537.92Z" fill="#000000"/><path d="M66.86 534.88L70.76 536.83L66.86 538.78Z" fill="#000000"/><path d="M81.27 535.51L85.17 537.46L81.27 539.41Z" fill="#000000"/><path d="M95.68 535.63L99.58 537.58L95.68 539.53Z" fill="#000000"/><path d="M110.09 535.75L113.99 537.7L110.09 539.65Z" fill="#000000"/><path d="M124.5 535.88L128.4 537.83L124.5 539.78Z" fill="#000000"/><path d="M138.91 536L142.81 537.95L138.91 539.9Z" fill="#000000"/><path d="M153.32 536.13L157.22 538.08L153.32 540.03Z" fill="#000000"/>
<path d="M25 483.37L26.32 501.82L28.95 505.78L35.55 506.83L170 507.1" stroke="#ff0000" stroke-width="1.0"/>
<path d="M25.39 481.47L26.69 483.37L25.39 485.27L24.09 483.37Z" fill="#ff0000"/><path d="M39.8 504.94L41.1 506.84L39.8 508.74L38.5 506.84Z" fill="#ff0000"/><path d="M54.21 504.97L55.51 506.87L54.21 508.77L52.91 506.87Z" fill="#ff0000"/><path d="M68.62 505L69.92 506.9L68.62 508.8L67.32 506.9Z" fill="#ff0000"/><path d="M83.03 505.03L84.33 506.93L83.03 508.83L81.73 506.93Z" fill="#ff0000"/><path d="M97.44 505.05L98.74 506.95L97.44 508.85L96.14 506.95Z" fill="#ff0000"/><path d="M111.85 505.08L113.15 506.98L111.85 508.88L110.55 506.98Z" fill="#ff0000"/><path d="M126.26 505.11L127.56 507.01L126.26 508.91L124.96 507.01Z" fill="#ff0000"/><path d="M140.67 505.14L141.97 507.04L140.67 508.94L139.37 507.04Z" fill="#ff0000"/><path d="M155.08 505.17L156.38 507.07L155.08 508.97L153.78 507.07Z" fill="#ff0000"/>
<path d="M25 491.28L27.64 501.82L31.59 505.78L36.86 507.1L39.5 510.26L76.41 510.26L77.2 520.28L89.59 520.81L90.91 528.45L120.17 529.24L123.07 531.09L127.29 533.2L137.05 534.78L141.26 535.57L170 535.84" stroke="#0000ff" stroke-width="1.0"/>
<circle cx="25.39" cy="491.28" r="1.6" fill="#2828e0" stroke="#0000ff" stroke-width="0.5"/><circle cx="39.8" cy="509.83" r="1.6" fill="#2828e0" stroke="#0000ff" stroke-width="0.5"/><circle cx="54.21" cy="510.26" r="1.6" fill="#2828e0" stroke="#0000ff" stroke-width="0.5"/><circle cx="68.62" cy="510.26" r="1.6" fill="#2828e0" stroke="#0000ff" stroke-width="0.5"/><circle cx="83.03" cy="520.5" r="1.6" fill="#2828e0" stroke="#0000ff" stroke-width="0.5"/><circle cx="97.44" cy="528.61" r="1.6" fill="#2828e0" stroke="#0000ff" stroke-width="0.5"/><circle cx="111.85" cy="529" r="1.6" fill="#2828e0" stroke="#0000ff" stroke-width="0.5"/><circle cx="126.26" cy="532.35" r="1.6" fill="#2828e0" stroke="#0000ff" stroke-width="0.5"/><circle cx="140.67" cy="535.34" r="1.6" fill="#2828e0" stroke="#0000ff" stroke-width="0.5"/><circle cx="155.08" cy="535.69" r="1.6" fill="#2828e0" stroke="#0000ff" stroke-width="0.5"/>
<path d="M25 428L26.05 478.1L28.95 483.9L35.55 486.53L46.09 488.11L64.55 489.17L90.91 489.96L110.68 490.22L111.21 504.99L170 505.25" stroke="#ff00ff" stroke-width="1.0"/>
<circle cx="25.39" cy="428" r="1.25" fill="#ff00ff"/><circle cx="39.8" cy="487.07" r="1.25" fill="#ff00ff"/><circle cx="54.21" cy="488.54" r="1.25" fill="#ff00ff"/><circle cx="68.62" cy="489.27" r="1.25" fill="#ff00ff"/><circle cx="83.03" cy="489.7" r="1.25" fill="#ff00ff"/><circle cx="97.44" cy="490.04" r="1.25" fill="#ff00ff"/><circle cx="111.85" cy="504.38" r="1.25" fill="#ff00ff"/><circle cx="126.26" cy="505.05" r="1.25" fill="#ff00ff"/><circle cx="140.67" cy="505.12" r="1.25" fill="#ff00ff"/><circle cx="155.08" cy="505.18" r="1.25" fill="#ff00ff"/>
<path d="M25 474.14L31.85 474.67L32.91 496.29L35.28 497.08L36.07 503.41L38.18 506.31L39.5 511.84L42.93 512.53L44.51 515.27L50.05 516.75L54.26 517.38L64.02 518.17L66.92 520.28L77.99 520.94L89.33 521.6L90.65 528.72L93.55 529.24L99.08 530.04L101.45 533.46L112 535.05L170 535.84" stroke="#00ffff" stroke-width="1.0"/>
<path d="M25.39 472.14L27.39 475.74L23.39 475.74Z" fill="#00ffff"/><path d="M39.8 508.32L41.8 511.92L37.8 511.92Z" fill="#00ffff"/><path d="M54.21 515.27L56.21 518.87L52.21 518.87Z" fill="#00ffff"/><path d="M68.62 518.34L70.62 521.94L66.62 521.94Z" fill="#00ffff"/><path d="M83.03 519.19L85.03 522.79L81.03 522.79Z" fill="#00ffff"/><path d="M97.44 527.71L99.44 531.31L95.44 531.31Z" fill="#00ffff"/><path d="M111.85 532.92L113.85 536.52L109.85 536.52Z" fill="#00ffff"/><path d="M126.26 533.23L128.26 536.83L124.26 536.83Z" fill="#00ffff"/><path d="M140.67 533.43L142.67 537.03L138.67 537.03Z" fill="#00ffff"/><path d="M155.08 533.62L157.08 537.22L153.08 537.22Z" fill="#00ffff"/>
<path d="M25 492.07L27.64 506.31L31.85 513.16L36.07 516.06L40.29 519.49L47.15 522.39L54.26 525.03L61.12 527.14L68.24 528.72L75.09 530.04L82.21 531.35L89.33 532.41L99.08 533.2L104.09 533.99L130.45 535.31L170 535.84" stroke="#00ff00" stroke-width="1.0"/>
<path d="M25.39 489.97L25.92 491.34L27.38 491.42L26.24 492.35L26.62 493.77L25.39 492.97L24.15 493.77L24.53 492.35L23.39 491.42L24.86 491.34Z" fill="#00ff00"/><path d="M39.8 516.45L40.33 517.82L41.79 517.9L40.65 518.83L41.03 520.25L39.8 519.45L38.56 520.25L38.94 518.83L37.8 517.9L39.27 517.82Z" fill="#00ff00"/><path d="M54.21 522.66L54.74 524.03L56.2 524.11L55.06 525.04L55.44 526.46L54.21 525.66L52.97 526.46L53.35 525.04L52.21 524.11L53.68 524.03Z" fill="#00ff00"/><path d="M68.62 526.56L69.15 527.93L70.61 528.01L69.47 528.93L69.85 530.35L68.62 529.56L67.38 530.35L67.76 528.93L66.62 528.01L68.09 527.93Z" fill="#00ff00"/><path d="M83.03 529.28L83.56 530.65L85.02 530.73L83.88 531.66L84.26 533.08L83.03 532.28L81.79 533.08L82.17 531.66L81.03 530.73L82.5 530.65Z" fill="#00ff00"/><path d="M97.44 530.91L97.97 532.28L99.43 532.36L98.29 533.29L98.67 534.71L97.44 533.91L96.2 534.71L96.58 533.29L95.44 532.36L96.91 532.28Z" fill="#00ff00"/><path d="M111.85 532.25L112.38 533.62L113.84 533.7L112.7 534.62L113.08 536.04L111.85 535.25L110.61 536.04L110.99 534.62L109.85 533.7L111.32 533.62Z" fill="#00ff00"/><path d="M126.26 532.97L126.79 534.34L128.25 534.42L127.11 535.34L127.49 536.76L126.26 535.97L125.02 536.76L125.4 535.34L124.26 534.42L125.73 534.34Z" fill="#00ff00"/><path d="M140.67 533.34L141.2 534.71L142.66 534.79L141.52 535.71L141.9 537.14L140.67 536.34L139.43 537.14L139.81 535.71L138.67 534.79L140.14 534.71Z" fill="#00ff00"/><path d="M155.08 533.53L155.61 534.9L157.07 534.98L155.93 535.91L156.31 537.33L155.08 536.53L153.84 537.33L154.22 535.91L153.08 534.98L154.55 534.9Z" fill="#00ff00"/>
<path d="M25 459.64L25.79 525.55L27.64 532.14L30.27 534.78L38.18 536.63L77.73 537.68L170 537.95" stroke="#ff8000" stroke-width="1.0"/>
<rect x="23.79" y="458.04" width="3.2" height="3.2" fill="#ff8000"/><rect x="38.2" y="535.05" width="3.2" height="3.2" fill="#ff8000"/><rect x="52.61" y="535.44" width="3.2" height="3.2" fill="#ff8000"/><rect x="67.02" y="535.82" width="3.2" height="3.2" fill="#ff8000"/><rect x="81.43" y="536.09" width="3.2" height="3.2" fill="#ff8000"/><rect x="95.84" y="536.14" width="3.2" height="3.2" fill="#ff8000"/><rect x="110.25" y="536.18" width="3.2" height="3.2" fill="#ff8000"/><rect x="124.66" y="536.22" width="3.2" height="3.2" fill="#ff8000"/><rect x="139.07" y="536.26" width="3.2" height="3.2" fill="#ff8000"/><rect x="153.48" y="536.3" width="3.2" height="3.2" fill="#ff8000"/>
<path d="M25 480.73L25.79 520.28L27.64 532.14L30.27 535.57L38.18 536.89L77.73 537.68L170 537.95" stroke="#a020f0" stroke-width="1.0"/>
<circle cx="25.39" cy="480.73" r="1.2" fill="#a020f0"/><circle cx="39.8" cy="536.91" r="1.2" fill="#a020f0"/><circle cx="54.21" cy="537.2" r="1.2" fill="#a020f0"/><circle cx="68.62" cy="537.49" r="1.2" fill="#a020f0"/><circle cx="83.03" cy="537.69" r="1.2" fill="#a020f0"/><circle cx="97.44" cy="537.74" r="1.2" fill="#a020f0"/><circle cx="111.85" cy="537.78" r="1.2" fill="#a020f0"/><circle cx="126.26" cy="537.82" r="1.2" fill="#a020f0"/><circle cx="140.67" cy="537.86" r="1.2" fill="#a020f0"/><circle cx="155.08" cy="537.9" r="1.2" fill="#a020f0"/>
<path d="M25 498.4L26.85 518.7L28.95 524.5L30.27 525.03L31.06 529.24L39.5 529.64L40.82 531.35L43.72 532.14L45.04 533.46L64.02 534.78L77.99 536.36L99.08 537.42L170 538.21" stroke="#008080" stroke-width="1.0"/>
<circle cx="25.39" cy="498.4" r="1.8" fill="#008080"/><circle cx="39.8" cy="529.62" r="1.8" fill="#008080"/><circle cx="54.21" cy="534.05" r="1.8" fill="#008080"/><circle cx="68.62" cy="535.23" r="1.8" fill="#008080"/><circle cx="83.03" cy="536.58" r="1.8" fill="#008080"/><circle cx="97.44" cy="537.3" r="1.8" fill="#008080"/><circle cx="111.85" cy="537.55" r="1.8" fill="#008080"/><circle cx="126.26" cy="537.71" r="1.8" fill="#008080"/><circle cx="140.67" cy="537.87" r="1.8" fill="#008080"/><circle cx="155.08" cy="538.04" r="1.8" fill="#008080"/>
</g>
<clipPath id="c10"><rect x="211.4" y="426.2" width="145.1" height="113.1"/></clipPath>
<rect x="212" y="428.4" width="143.9" height="110.3" fill="none" stroke="#9a9a9a" stroke-width="0.5"/>
<text transform="translate(240.78 547.4) scale(1 1.08)" font-size="6.1" fill="#303030" text-anchor="middle">100</text>
<text transform="translate(269.56 547.4) scale(1 1.08)" font-size="6.1" fill="#303030" text-anchor="middle">200</text>
<text transform="translate(298.34 547.4) scale(1 1.08)" font-size="6.1" fill="#303030" text-anchor="middle">300</text>
<text transform="translate(327.12 547.4) scale(1 1.08)" font-size="6.1" fill="#303030" text-anchor="middle">400</text>
<text transform="translate(355.9 547.4) scale(1 1.08)" font-size="6.1" fill="#303030" text-anchor="middle">500</text>
<text transform="translate(207.25 472.2) scale(1 1.08)" font-size="6.1" fill="#303030" text-anchor="end">10</text>
<text transform="translate(207.55 469) scale(1 1.08)" font-size="4.4" fill="#303030" text-anchor="start">8</text>
<text transform="translate(207.25 518.2) scale(1 1.08)" font-size="6.1" fill="#303030" text-anchor="end">10</text>
<text transform="translate(207.55 515) scale(1 1.08)" font-size="4.4" fill="#303030" text-anchor="start">6</text>
<path d="M240.78 538.7v-1.3M240.78 428.4v1.3M269.56 538.7v-1.3M269.56 428.4v1.3M298.34 538.7v-1.3M298.34 428.4v1.3M327.12 538.7v-1.3M327.12 428.4v1.3M355.9 538.7v-1.3M355.9 428.4v1.3M212 469.2h1.3M355.9 469.2h-1.3M212 515.2h1.3M355.9 515.2h-1.3" stroke="#9a9a9a" stroke-width="0.5" fill="none"/>
<text transform="translate(283.95 426.6) scale(1 1.08)" font-size="6.9" fill="#111" text-anchor="middle">F12</text>
<text transform="translate(283.95 556.1) scale(1 1.08)" font-size="6.6" fill="#303030" text-anchor="middle">Iteration</text>
<text transform="translate(197.5 483.55) rotate(-90)" font-size="6.6" fill="#303030" text-anchor="middle">Fitness value</text>
<g clip-path="url(#c10)" fill="none" stroke-linejoin="miter" stroke-miterlimit="2.5">
<path d="M212 443.82L214.64 457L216.48 459.9L219.91 468.34L220.7 475.46L224.65 479.68L226.24 483.9L228.87 488.11L231.77 493.65L233.09 503.41L240.21 504.72L241.53 513.16L248.65 514.74L249.96 516.06L255.5 516.06L257.08 518.17L265.52 518.96L266.84 525.03L271.05 525.82L273.16 530.04L277.91 531.35L280.81 533.46L285.03 534.25L299 534.52L312.18 535.57L321.94 536.36L327.74 537.68L341.71 537.95L357 538.74" stroke="#000000" stroke-width="1.0"/>
<path d="M210.33 441.87L214.23 443.82L210.33 445.77Z" fill="#000000"/><path d="M224.72 480.83L228.62 482.78L224.72 484.73Z" fill="#000000"/><path d="M239.11 502.77L243.01 504.72L239.11 506.67Z" fill="#000000"/><path d="M253.5 514.11L257.4 516.06L253.5 518.01Z" fill="#000000"/><path d="M267.89 523.48L271.79 525.43L267.89 527.38Z" fill="#000000"/><path d="M282.28 531.99L286.18 533.94L282.28 535.89Z" fill="#000000"/><path d="M296.67 532.54L300.57 534.49L296.67 536.44Z" fill="#000000"/><path d="M311.06 533.62L314.96 535.57L311.06 537.52Z" fill="#000000"/><path d="M325.45 535.46L329.35 537.41L325.45 539.36Z" fill="#000000"/><path d="M339.84 535.98L343.74 537.93L339.84 539.88Z" fill="#000000"/>
<path d="M212 454.37L214.37 459.9L216.48 481L219.12 483.1L357 483.37" stroke="#ff0000" stroke-width="1.0"/>
<path d="M212.09 452.47L213.39 454.37L212.09 456.27L210.79 454.37Z" fill="#ff0000"/><path d="M226.48 481.22L227.78 483.12L226.48 485.02L225.18 483.12Z" fill="#ff0000"/><path d="M240.87 481.24L242.17 483.14L240.87 485.04L239.57 483.14Z" fill="#ff0000"/><path d="M255.26 481.27L256.56 483.17L255.26 485.07L253.96 483.17Z" fill="#ff0000"/><path d="M269.65 481.3L270.95 483.2L269.65 485.1L268.35 483.2Z" fill="#ff0000"/><path d="M284.04 481.33L285.34 483.23L284.04 485.13L282.74 483.23Z" fill="#ff0000"/><path d="M298.43 481.35L299.73 483.25L298.43 485.15L297.13 483.25Z" fill="#ff0000"/><path d="M312.82 481.38L314.12 483.28L312.82 485.18L311.52 483.28Z" fill="#ff0000"/><path d="M327.21 481.41L328.51 483.31L327.21 485.21L325.91 483.31Z" fill="#ff0000"/><path d="M341.6 481.44L342.9 483.34L341.6 485.24L340.3 483.34Z" fill="#ff0000"/>
<path d="M212 443.82L213.58 459.9L214.37 468.34L215.69 472.56L226.24 472.82L227.03 475.99L308.23 476.25L308.75 476.25L310.07 481L312.18 488.11L314.29 494.97L316.4 504.2L320.62 505.52L326.15 506.83L333.27 507.62L335.91 508.68L357 509.21" stroke="#0000ff" stroke-width="1.0"/>
<circle cx="212.09" cy="443.82" r="1.6" fill="#2828e0" stroke="#0000ff" stroke-width="0.5"/><circle cx="226.48" cy="472.81" r="1.6" fill="#2828e0" stroke="#0000ff" stroke-width="0.5"/><circle cx="240.87" cy="476.03" r="1.6" fill="#2828e0" stroke="#0000ff" stroke-width="0.5"/><circle cx="255.26" cy="476.08" r="1.6" fill="#2828e0" stroke="#0000ff" stroke-width="0.5"/><circle cx="269.65" cy="476.12" r="1.6" fill="#2828e0" stroke="#0000ff" stroke-width="0.5"/><circle cx="284.04" cy="476.17" r="1.6" fill="#2828e0" stroke="#0000ff" stroke-width="0.5"/><circle cx="298.43" cy="476.22" r="1.6" fill="#2828e0" stroke="#0000ff" stroke-width="0.5"/><circle cx="312.82" cy="488.03" r="1.6" fill="#2828e0" stroke="#0000ff" stroke-width="0.5"/><circle cx="327.21" cy="506.88" r="1.6" fill="#2828e0" stroke="#0000ff" stroke-width="0.5"/><circle cx="341.6" cy="508.81" r="1.6" fill="#2828e0" stroke="#0000ff" stroke-width="0.5"/>
<path d="M212 435.91L214.64 446.46L222.55 453.05L233.09 458.32L243.64 461.75L254.18 463.86L264.73 464.91L277.91 465.44L357 465.44" stroke="#ff00ff" stroke-width="1.0"/>
<circle cx="212.09" cy="435.91" r="1.25" fill="#ff00ff"/><circle cx="226.48" cy="454.68" r="1.25" fill="#ff00ff"/><circle cx="240.87" cy="460.63" r="1.25" fill="#ff00ff"/><circle cx="255.26" cy="463.9" r="1.25" fill="#ff00ff"/><circle cx="269.65" cy="465.08" r="1.25" fill="#ff00ff"/><circle cx="284.04" cy="465.44" r="1.25" fill="#ff00ff"/><circle cx="298.43" cy="465.44" r="1.25" fill="#ff00ff"/><circle cx="312.82" cy="465.44" r="1.25" fill="#ff00ff"/><circle cx="327.21" cy="465.44" r="1.25" fill="#ff00ff"/><circle cx="341.6" cy="465.44" r="1.25" fill="#ff00ff"/>
<path d="M212 434.59L217.27 437.23L225.18 442.5L233.09 445.14L239.68 446.98L241 454.37L246.27 456.48L254.18 459.11L275.27 460.17L276.59 464.91L280.02 465.7L285.03 465.97L285.55 475.46L295.31 475.72L296.89 481L307.96 481.79L308.75 488.64L326.15 489.43L327.74 491.01L357 491.54" stroke="#00ffff" stroke-width="1.0"/>
<path d="M212.09 432.59L214.09 436.19L210.09 436.19Z" fill="#00ffff"/><path d="M226.48 440.71L228.48 444.31L224.48 444.31Z" fill="#00ffff"/><path d="M240.87 447.93L242.87 451.53L238.87 451.53Z" fill="#00ffff"/><path d="M255.26 457.13L257.26 460.73L253.26 460.73Z" fill="#00ffff"/><path d="M269.65 457.85L271.65 461.45L267.65 461.45Z" fill="#00ffff"/><path d="M284.04 463.88L286.04 467.48L282.04 467.48Z" fill="#00ffff"/><path d="M298.43 479.06L300.43 482.66L296.43 482.66Z" fill="#00ffff"/><path d="M312.82 486.8L314.82 490.4L310.82 490.4Z" fill="#00ffff"/><path d="M327.21 487.83L329.21 491.43L325.21 491.43Z" fill="#00ffff"/><path d="M341.6 489.25L343.6 492.85L339.6 492.85Z" fill="#00ffff"/>
<path d="M212 449.09L214.9 459.9L215.69 473.88L217.8 477.57L222.02 478.1L226.24 478.89L233.88 479.15L234.67 486L237.31 488.11L240.21 490.22L255.5 490.49L257.08 492.86L268.15 493.65L269.74 497.87L271.05 500.51L280.02 501.3L288.45 502.09L292.67 506.83L298.21 508.42L312.18 508.68L357 509.21" stroke="#00ff00" stroke-width="1.0"/>
<path d="M212.09 446.99L212.62 448.36L214.08 448.44L212.94 449.37L213.32 450.79L212.09 449.99L210.85 450.79L211.23 449.37L210.09 448.44L211.56 448.36Z" fill="#00ff00"/><path d="M226.48 476.71L227.01 478.08L228.47 478.16L227.33 479.09L227.71 480.51L226.48 479.71L225.24 480.51L225.62 479.09L224.48 478.16L225.95 478.08Z" fill="#00ff00"/><path d="M240.87 488.12L241.4 489.49L242.86 489.57L241.72 490.5L242.1 491.92L240.87 491.12L239.63 491.92L240.01 490.5L238.87 489.57L240.34 489.49Z" fill="#00ff00"/><path d="M255.26 488.37L255.79 489.74L257.25 489.82L256.11 490.75L256.49 492.17L255.26 491.37L254.02 492.17L254.4 490.75L253.26 489.82L254.73 489.74Z" fill="#00ff00"/><path d="M269.65 493.77L270.18 495.14L271.64 495.22L270.5 496.15L270.88 497.57L269.65 496.77L268.41 497.57L268.79 496.15L267.65 495.22L269.12 495.14Z" fill="#00ff00"/><path d="M284.04 499.51L284.57 500.88L286.03 500.96L284.89 501.89L285.27 503.31L284.04 502.51L282.8 503.31L283.18 501.89L282.04 500.96L283.51 500.88Z" fill="#00ff00"/><path d="M298.43 506.19L298.96 507.56L300.42 507.64L299.28 508.57L299.66 509.99L298.43 509.19L297.19 509.99L297.57 508.57L296.43 507.64L297.9 507.56Z" fill="#00ff00"/><path d="M312.82 506.58L313.35 507.95L314.81 508.03L313.67 508.96L314.05 510.38L312.82 509.58L311.58 510.38L311.96 508.96L310.82 508.03L312.29 507.95Z" fill="#00ff00"/><path d="M327.21 506.75L327.74 508.12L329.2 508.2L328.06 509.13L328.44 510.55L327.21 509.75L325.97 510.55L326.35 509.13L325.21 508.2L326.68 508.12Z" fill="#00ff00"/><path d="M341.6 506.92L342.13 508.29L343.59 508.37L342.45 509.3L342.83 510.72L341.6 509.92L340.36 510.72L340.74 509.3L339.6 508.37L341.07 508.29Z" fill="#00ff00"/>
<path d="M212 462.28L213.05 494.18L226.24 494.71L240.21 494.97L244.43 495.76L245.75 499.19L247.33 499.98L261.3 500.24L268.15 500.51L285.03 501.3L287.14 501.3L291.09 503.41L298.21 505.52L305.33 506.83L312.18 509.73L319.3 510.52L326.15 511.58L333.27 511.84L341.71 513.95L350.15 516.06L357 518.96" stroke="#ff8000" stroke-width="1.0"/>
<rect x="210.49" y="460.68" width="3.2" height="3.2" fill="#ff8000"/><rect x="224.88" y="493.09" width="3.2" height="3.2" fill="#ff8000"/><rect x="239.27" y="493.37" width="3.2" height="3.2" fill="#ff8000"/><rect x="253.66" y="498.52" width="3.2" height="3.2" fill="#ff8000"/><rect x="268.05" y="498.94" width="3.2" height="3.2" fill="#ff8000"/><rect x="282.44" y="499.62" width="3.2" height="3.2" fill="#ff8000"/><rect x="296.83" y="503.78" width="3.2" height="3.2" fill="#ff8000"/><rect x="311.22" y="508.12" width="3.2" height="3.2" fill="#ff8000"/><rect x="325.61" y="509.99" width="3.2" height="3.2" fill="#ff8000"/><rect x="340" y="512.16" width="3.2" height="3.2" fill="#ff8000"/>
<path d="M212 438.55L215.69 459.9L216.48 485.21L217.8 489.43L222.02 490.22L224.65 493.65L235.99 493.91L240.21 494.44L244.43 494.97L257.08 495.76L259.72 497.08L261.3 499.98L266.84 500.51L268.15 503.41L277.91 503.67L280.81 504.72L303.75 504.72L305.33 506.83L312.18 508.42L313.76 511.84L320.62 512.63L321.94 514.74L326.15 515.27L328.26 520.81L344.35 521.33L347.25 524.5L352.78 524.76L357 525.82" stroke="#a020f0" stroke-width="1.0"/>
<circle cx="212.09" cy="438.55" r="1.2" fill="#a020f0"/><circle cx="226.48" cy="493.68" r="1.2" fill="#a020f0"/><circle cx="240.87" cy="494.44" r="1.2" fill="#a020f0"/><circle cx="255.26" cy="495.6" r="1.2" fill="#a020f0"/><circle cx="269.65" cy="503.43" r="1.2" fill="#a020f0"/><circle cx="284.04" cy="504.72" r="1.2" fill="#a020f0"/><circle cx="298.43" cy="504.72" r="1.2" fill="#a020f0"/><circle cx="312.82" cy="508.41" r="1.2" fill="#a020f0"/><circle cx="327.21" cy="516.3" r="1.2" fill="#a020f0"/><circle cx="341.6" cy="521.22" r="1.2" fill="#a020f0"/>
<path d="M212 441.18L214.64 457L216.48 459.9L219.12 465.7L219.91 472.56L222.02 473.35L240.21 473.61L241 481.79L249.96 482.31L251.55 486L255.5 486.53L259.72 488.64L265.52 491.54L269.74 492.86L357 493.12" stroke="#008080" stroke-width="1.0"/>
<circle cx="212.09" cy="441.18" r="1.8" fill="#008080"/><circle cx="226.48" cy="473.4" r="1.8" fill="#008080"/><circle cx="240.87" cy="473.61" r="1.8" fill="#008080"/><circle cx="255.26" cy="486.41" r="1.8" fill="#008080"/><circle cx="269.65" cy="492.63" r="1.8" fill="#008080"/><circle cx="284.04" cy="492.9" r="1.8" fill="#008080"/><circle cx="298.43" cy="492.94" r="1.8" fill="#008080"/><circle cx="312.82" cy="492.99" r="1.8" fill="#008080"/><circle cx="327.21" cy="493.03" r="1.8" fill="#008080"/><circle cx="341.6" cy="493.07" r="1.8" fill="#008080"/>
</g>
<clipPath id="c11"><rect x="397.1" y="426.3" width="145.2" height="113"/></clipPath>
<rect x="397.7" y="428.5" width="144" height="110.2" fill="none" stroke="#9a9a9a" stroke-width="0.5"/>
<text transform="translate(426.5 547.4) scale(1 1.08)" font-size="6.1" fill="#303030" text-anchor="middle">100</text>
<text transform="translate(455.3 547.4) scale(1 1.08)" font-size="6.1" fill="#303030" text-anchor="middle">200</text>
<text transform="translate(484.1 547.4) scale(1 1.08)" font-size="6.1" fill="#303030" text-anchor="middle">300</text>
<text transform="translate(512.9 547.4) scale(1 1.08)" font-size="6.1" fill="#303030" text-anchor="middle">400</text>
<text transform="translate(541.7 547.4) scale(1 1.08)" font-size="6.1" fill="#303030" text-anchor="middle">500</text>
<text transform="translate(392.95 446.3) scale(1 1.08)" font-size="6.1" fill="#303030" text-anchor="end">10</text>
<text transform="translate(393.25 443.1) scale(1 1.08)" font-size="4.4" fill="#303030" text-anchor="start">8</text>
<text transform="translate(392.95 487.1) scale(1 1.08)" font-size="6.1" fill="#303030" text-anchor="end">10</text>
<text transform="translate(393.25 483.9) scale(1 1.08)" font-size="4.4" fill="#303030" text-anchor="start">6</text>
<text transform="translate(392.95 527.8) scale(1 1.08)" font-size="6.1" fill="#303030" text-anchor="end">10</text>
<text transform="translate(393.25 524.6) scale(1 1.08)" font-size="4.4" fill="#303030" text-anchor="start">4</text>
<path d="M426.5 538.7v-1.3M426.5 428.5v1.3M455.3 538.7v-1.3M455.3 428.5v1.3M484.1 538.7v-1.3M484.1 428.5v1.3M512.9 538.7v-1.3M512.9 428.5v1.3M541.7 538.7v-1.3M541.7 428.5v1.3M397.7 443.3h1.3M541.7 443.3h-1.3M397.7 484.1h1.3M541.7 484.1h-1.3M397.7 524.8h1.3M541.7 524.8h-1.3" stroke="#9a9a9a" stroke-width="0.5" fill="none"/>
<text transform="translate(469.7 426.7) scale(1 1.08)" font-size="6.9" fill="#111" text-anchor="middle">F13</text>
<text transform="translate(469.7 556.1) scale(1 1.08)" font-size="6.6" fill="#303030" text-anchor="middle">Iteration</text>
<text transform="translate(383.2 483.6) rotate(-90)" font-size="6.6" fill="#303030" text-anchor="middle">Fitness value</text>
<g clip-path="url(#c11)" fill="none" stroke-linejoin="miter" stroke-miterlimit="2.5">
<path d="M398.26 454.37L400.11 501.82L402.11 504.99L405.28 506.57L406.07 514.48L410.81 515.27L411.6 526.34L417.14 527.14L417.93 531.09L421.09 531.88L421.89 535.05L425.84 536.63L427.42 537.95L543 538.21" stroke="#000000" stroke-width="1.0"/>
<path d="M396.03 452.42L399.93 454.37L396.03 456.32Z" fill="#000000"/><path d="M410.43 523.33L414.33 525.28L410.43 527.23Z" fill="#000000"/><path d="M424.83 534.75L428.73 536.7L424.83 538.65Z" fill="#000000"/><path d="M439.23 536.02L443.13 537.97L439.23 539.92Z" fill="#000000"/><path d="M453.63 536.06L457.53 538.01L453.63 539.96Z" fill="#000000"/><path d="M468.03 536.09L471.93 538.04L468.03 539.99Z" fill="#000000"/><path d="M482.43 536.12L486.33 538.07L482.43 540.02Z" fill="#000000"/><path d="M496.83 536.16L500.73 538.11L496.83 540.06Z" fill="#000000"/><path d="M511.23 536.19L515.13 538.14L511.23 540.09Z" fill="#000000"/><path d="M525.63 536.22L529.53 538.17L525.63 540.12Z" fill="#000000"/>
<path d="M398.26 428L399.32 493.91L401.95 509.73L404.59 518.96L408.55 522.39L543 522.92" stroke="#ff0000" stroke-width="1.0"/>
<path d="M397.79 426.1L399.09 428L397.79 429.9L396.49 428Z" fill="#ff0000"/><path d="M412.19 520.5L413.49 522.4L412.19 524.3L410.89 522.4Z" fill="#ff0000"/><path d="M426.59 520.56L427.89 522.46L426.59 524.36L425.29 522.46Z" fill="#ff0000"/><path d="M440.99 520.61L442.29 522.51L440.99 524.41L439.69 522.51Z" fill="#ff0000"/><path d="M455.39 520.67L456.69 522.57L455.39 524.47L454.09 522.57Z" fill="#ff0000"/><path d="M469.79 520.73L471.09 522.63L469.79 524.53L468.49 522.63Z" fill="#ff0000"/><path d="M484.19 520.78L485.49 522.68L484.19 524.58L482.89 522.68Z" fill="#ff0000"/><path d="M498.59 520.84L499.89 522.74L498.59 524.64L497.29 522.74Z" fill="#ff0000"/><path d="M512.99 520.9L514.29 522.8L512.99 524.7L511.69 522.8Z" fill="#ff0000"/><path d="M527.39 520.95L528.69 522.85L527.39 524.75L526.09 522.85Z" fill="#ff0000"/>
<path d="M398.26 454.37L399.74 476.51L412.39 477.3L413.19 480.47L417.93 481L418.72 495.5L426.63 495.76L448.75 496.29L449.54 498.4L492.91 498.4L494.23 512.37L503.45 515.01L524.55 516.33L537.73 518.96L543 520.28" stroke="#0000ff" stroke-width="1.0"/>
<circle cx="397.79" cy="454.37" r="1.6" fill="#2828e0" stroke="#0000ff" stroke-width="0.5"/><circle cx="412.19" cy="477.25" r="1.6" fill="#2828e0" stroke="#0000ff" stroke-width="0.5"/><circle cx="426.59" cy="495.74" r="1.6" fill="#2828e0" stroke="#0000ff" stroke-width="0.5"/><circle cx="440.99" cy="496.09" r="1.6" fill="#2828e0" stroke="#0000ff" stroke-width="0.5"/><circle cx="455.39" cy="498.4" r="1.6" fill="#2828e0" stroke="#0000ff" stroke-width="0.5"/><circle cx="469.79" cy="498.4" r="1.6" fill="#2828e0" stroke="#0000ff" stroke-width="0.5"/><circle cx="484.19" cy="498.4" r="1.6" fill="#2828e0" stroke="#0000ff" stroke-width="0.5"/><circle cx="498.59" cy="513.43" r="1.6" fill="#2828e0" stroke="#0000ff" stroke-width="0.5"/><circle cx="512.99" cy="515.56" r="1.6" fill="#2828e0" stroke="#0000ff" stroke-width="0.5"/><circle cx="527.39" cy="516.76" r="1.6" fill="#2828e0" stroke="#0000ff" stroke-width="0.5"/>
<path d="M398.26 428L399.32 459.64L401.16 488.64L402.75 509.73L404.85 513.95L411.18 514.74L543 515.01" stroke="#ff00ff" stroke-width="1.0"/>
<circle cx="397.79" cy="428" r="1.25" fill="#ff00ff"/><circle cx="412.19" cy="514.74" r="1.25" fill="#ff00ff"/><circle cx="426.59" cy="514.77" r="1.25" fill="#ff00ff"/><circle cx="440.99" cy="514.8" r="1.25" fill="#ff00ff"/><circle cx="455.39" cy="514.83" r="1.25" fill="#ff00ff"/><circle cx="469.79" cy="514.86" r="1.25" fill="#ff00ff"/><circle cx="484.19" cy="514.89" r="1.25" fill="#ff00ff"/><circle cx="498.59" cy="514.92" r="1.25" fill="#ff00ff"/><circle cx="512.99" cy="514.95" r="1.25" fill="#ff00ff"/><circle cx="527.39" cy="514.97" r="1.25" fill="#ff00ff"/>
<path d="M398.26 436.17L406.86 436.7L407.65 444.87L408.91 463.07L422.68 463.59L423.47 489.17L436.89 489.96L437.68 494.71L459.03 495.23L459.82 512.11L495.55 512.63L498.18 513.95L543 514.48" stroke="#00ffff" stroke-width="1.0"/>
<path d="M397.79 434.17L399.79 437.77L395.79 437.77Z" fill="#00ffff"/><path d="M412.19 461.17L414.19 464.77L410.19 464.77Z" fill="#00ffff"/><path d="M426.59 487.31L428.59 490.91L424.59 490.91Z" fill="#00ffff"/><path d="M440.99 492.77L442.99 496.37L438.99 496.37Z" fill="#00ffff"/><path d="M455.39 493.13L457.39 496.73L453.39 496.73Z" fill="#00ffff"/><path d="M469.79 510.24L471.79 513.84L467.79 513.84Z" fill="#00ffff"/><path d="M484.19 510.46L486.19 514.06L482.19 514.06Z" fill="#00ffff"/><path d="M498.59 511.83L500.59 515.43L496.59 515.43Z" fill="#00ffff"/><path d="M512.99 512.12L514.99 515.72L510.99 515.72Z" fill="#00ffff"/><path d="M527.39 512.29L529.39 515.89L525.39 515.89Z" fill="#00ffff"/>
<path d="M398.26 459.64L399.74 479.68L404.49 481.26L406.07 489.17L410.02 497.08L411.6 508.15L413.98 514.48L420.3 516.85L426.63 517.64L442.42 520.02L543 520.81" stroke="#00ff00" stroke-width="1.0"/>
<path d="M397.79 457.54L398.32 458.91L399.78 458.99L398.64 459.92L399.02 461.34L397.79 460.54L396.55 461.34L396.93 459.92L395.79 458.99L397.26 458.91Z" fill="#00ff00"/><path d="M412.19 505.52L412.72 506.89L414.18 506.97L413.04 507.9L413.42 509.32L412.19 508.52L410.95 509.32L411.33 507.9L410.19 506.97L411.66 506.89Z" fill="#00ff00"/><path d="M426.59 515.46L427.12 516.83L428.58 516.91L427.44 517.83L427.82 519.25L426.59 518.46L425.35 519.25L425.73 517.83L424.59 516.91L426.06 516.83Z" fill="#00ff00"/><path d="M440.99 517.6L441.52 518.97L442.98 519.05L441.84 519.98L442.22 521.4L440.99 520.6L439.75 521.4L440.13 519.98L438.99 519.05L440.46 518.97Z" fill="#00ff00"/><path d="M455.39 518.01L455.92 519.39L457.38 519.46L456.24 520.39L456.62 521.81L455.39 521.01L454.15 521.81L454.53 520.39L453.39 519.46L454.86 519.39Z" fill="#00ff00"/><path d="M469.79 518.13L470.32 519.5L471.78 519.58L470.64 520.5L471.02 521.93L469.79 521.13L468.55 521.93L468.93 520.5L467.79 519.58L469.26 519.5Z" fill="#00ff00"/><path d="M484.19 518.24L484.72 519.61L486.18 519.69L485.04 520.62L485.42 522.04L484.19 521.24L482.95 522.04L483.33 520.62L482.19 519.69L483.66 519.61Z" fill="#00ff00"/><path d="M498.59 518.35L499.12 519.73L500.58 519.8L499.44 520.73L499.82 522.15L498.59 521.35L497.35 522.15L497.73 520.73L496.59 519.8L498.06 519.73Z" fill="#00ff00"/><path d="M512.99 518.47L513.52 519.84L514.98 519.92L513.84 520.84L514.22 522.27L512.99 521.47L511.75 522.27L512.13 520.84L510.99 519.92L512.46 519.84Z" fill="#00ff00"/><path d="M527.39 518.58L527.92 519.95L529.38 520.03L528.24 520.96L528.62 522.38L527.39 521.58L526.15 522.38L526.53 520.96L525.39 520.03L526.86 519.95Z" fill="#00ff00"/>
<path d="M398.26 480.73L400.11 497.08L401.32 499.45L444 499.71L445.59 504.99L448.75 508.15L458.24 508.94L459.03 522.39L543 523.18" stroke="#ff8000" stroke-width="1.0"/>
<rect x="396.19" y="479.13" width="3.2" height="3.2" fill="#ff8000"/><rect x="410.59" y="497.91" width="3.2" height="3.2" fill="#ff8000"/><rect x="424.99" y="498" width="3.2" height="3.2" fill="#ff8000"/><rect x="439.39" y="498.09" width="3.2" height="3.2" fill="#ff8000"/><rect x="453.79" y="507.05" width="3.2" height="3.2" fill="#ff8000"/><rect x="468.19" y="520.88" width="3.2" height="3.2" fill="#ff8000"/><rect x="482.59" y="521.02" width="3.2" height="3.2" fill="#ff8000"/><rect x="496.99" y="521.16" width="3.2" height="3.2" fill="#ff8000"/><rect x="511.39" y="521.29" width="3.2" height="3.2" fill="#ff8000"/><rect x="525.79" y="521.43" width="3.2" height="3.2" fill="#ff8000"/>
<path d="M398.26 467.55L399.74 479.68L402.11 493.91L410.81 494.71L411.6 504.2L433.72 504.72L434.51 512.11L440.84 514.48L503.45 515.01L524.55 516.33L537.73 518.96L543 519.75" stroke="#a020f0" stroke-width="1.0"/>
<circle cx="397.79" cy="467.55" r="1.2" fill="#a020f0"/><circle cx="412.19" cy="503.28" r="1.2" fill="#a020f0"/><circle cx="426.59" cy="504.54" r="1.2" fill="#a020f0"/><circle cx="440.99" cy="514.29" r="1.2" fill="#a020f0"/><circle cx="455.39" cy="514.6" r="1.2" fill="#a020f0"/><circle cx="469.79" cy="514.72" r="1.2" fill="#a020f0"/><circle cx="484.19" cy="514.84" r="1.2" fill="#a020f0"/><circle cx="498.59" cy="514.96" r="1.2" fill="#a020f0"/><circle cx="512.99" cy="515.56" r="1.2" fill="#a020f0"/><circle cx="527.39" cy="516.76" r="1.2" fill="#a020f0"/>
<path d="M398.26 443.82L400.53 474.93L406.86 475.72L407.65 485.21L415.56 486L416.35 490.75L423.47 491.54L424.26 503.41L432.96 504.2L434.51 512.11L440.84 512.9L543 513.69" stroke="#008080" stroke-width="1.0"/>
<circle cx="397.79" cy="443.82" r="1.8" fill="#008080"/><circle cx="412.19" cy="485.6" r="1.8" fill="#008080"/><circle cx="426.59" cy="503.56" r="1.8" fill="#008080"/><circle cx="440.99" cy="512.83" r="1.8" fill="#008080"/><circle cx="455.39" cy="513.01" r="1.8" fill="#008080"/><circle cx="469.79" cy="513.12" r="1.8" fill="#008080"/><circle cx="484.19" cy="513.23" r="1.8" fill="#008080"/><circle cx="498.59" cy="513.34" r="1.8" fill="#008080"/><circle cx="512.99" cy="513.45" r="1.8" fill="#008080"/><circle cx="527.39" cy="513.56" r="1.8" fill="#008080"/>
</g>
<clipPath id="c12"><rect x="24.8" y="565.1" width="145.2" height="114.1"/></clipPath>
<rect x="25.4" y="567.3" width="144" height="111.3" fill="none" stroke="#9a9a9a" stroke-width="0.5"/>
<text transform="translate(54.2 687.3) scale(1 1.08)" font-size="6.1" fill="#303030" text-anchor="middle">100</text>
<text transform="translate(83 687.3) scale(1 1.08)" font-size="6.1" fill="#303030" text-anchor="middle">200</text>
<text transform="translate(111.8 687.3) scale(1 1.08)" font-size="6.1" fill="#303030" text-anchor="middle">300</text>
<text transform="translate(140.6 687.3) scale(1 1.08)" font-size="6.1" fill="#303030" text-anchor="middle">400</text>
<text transform="translate(169.4 687.3) scale(1 1.08)" font-size="6.1" fill="#303030" text-anchor="middle">500</text>
<text transform="translate(20.65 578.9) scale(1 1.08)" font-size="6.1" fill="#303030" text-anchor="end">10</text>
<text transform="translate(20.95 575.7) scale(1 1.08)" font-size="4.4" fill="#303030" text-anchor="start">7</text>
<text transform="translate(20.65 605.6) scale(1 1.08)" font-size="6.1" fill="#303030" text-anchor="end">10</text>
<text transform="translate(20.95 602.4) scale(1 1.08)" font-size="4.4" fill="#303030" text-anchor="start">6</text>
<text transform="translate(20.65 632.5) scale(1 1.08)" font-size="6.1" fill="#303030" text-anchor="end">10</text>
<text transform="translate(20.95 629.3) scale(1 1.08)" font-size="4.4" fill="#303030" text-anchor="start">5</text>
<text transform="translate(20.65 659.4) scale(1 1.08)" font-size="6.1" fill="#303030" text-anchor="end">10</text>
<text transform="translate(20.95 656.2) scale(1 1.08)" font-size="4.4" fill="#303030" text-anchor="start">4</text>
<path d="M54.2 678.6v-1.3M54.2 567.3v1.3M83 678.6v-1.3M83 567.3v1.3M111.8 678.6v-1.3M111.8 567.3v1.3M140.6 678.6v-1.3M140.6 567.3v1.3M169.4 678.6v-1.3M169.4 567.3v1.3M25.4 575.9h1.3M169.4 575.9h-1.3M25.4 602.6h1.3M169.4 602.6h-1.3M25.4 629.5h1.3M169.4 629.5h-1.3M25.4 656.4h1.3M169.4 656.4h-1.3" stroke="#9a9a9a" stroke-width="0.5" fill="none"/>
<text transform="translate(97.4 565.5) scale(1 1.08)" font-size="6.9" fill="#111" text-anchor="middle">F14</text>
<text transform="translate(97.4 696) scale(1 1.08)" font-size="6.6" fill="#303030" text-anchor="middle">Iteration</text>
<text transform="translate(10.9 622.95) rotate(-90)" font-size="6.6" fill="#303030" text-anchor="middle">Fitness value</text>
<g clip-path="url(#c12)" fill="none" stroke-linejoin="miter" stroke-miterlimit="2.5">
<path d="M25 606.53L26.32 632.88L28.95 648.96L32.38 661.61L33.96 672.68L58.48 673.2L59.01 676.89L170 677.95" stroke="#000000" stroke-width="1.0"/>
<path d="M23.73 604.58L27.63 606.53L23.73 608.48Z" fill="#000000"/><path d="M38.13 670.84L42.03 672.79L38.13 674.74Z" fill="#000000"/><path d="M52.53 671.15L56.43 673.1L52.53 675.05Z" fill="#000000"/><path d="M66.93 675.03L70.83 676.98L66.93 678.93Z" fill="#000000"/><path d="M81.33 675.16L85.23 677.11L81.33 679.06Z" fill="#000000"/><path d="M95.73 675.3L99.63 677.25L95.73 679.2Z" fill="#000000"/><path d="M110.13 675.44L114.03 677.39L110.13 679.34Z" fill="#000000"/><path d="M124.53 675.57L128.43 677.52L124.53 679.47Z" fill="#000000"/><path d="M138.93 675.71L142.83 677.66L138.93 679.61Z" fill="#000000"/><path d="M153.33 675.85L157.23 677.8L153.33 679.75Z" fill="#000000"/>
<path d="M25 593.35L26.32 646.06L27.64 667.14L30.27 671.36L35.55 672.41L170 672.94" stroke="#ff0000" stroke-width="1.0"/>
<path d="M25.49 591.45L26.79 593.35L25.49 595.25L24.19 593.35Z" fill="#ff0000"/><path d="M39.89 670.53L41.19 672.43L39.89 674.33L38.59 672.43Z" fill="#ff0000"/><path d="M54.29 670.58L55.59 672.48L54.29 674.38L52.99 672.48Z" fill="#ff0000"/><path d="M68.69 670.64L69.99 672.54L68.69 674.44L67.39 672.54Z" fill="#ff0000"/><path d="M83.09 670.7L84.39 672.6L83.09 674.5L81.79 672.6Z" fill="#ff0000"/><path d="M97.49 670.75L98.79 672.65L97.49 674.55L96.19 672.65Z" fill="#ff0000"/><path d="M111.89 670.81L113.19 672.71L111.89 674.61L110.59 672.71Z" fill="#ff0000"/><path d="M126.29 670.86L127.59 672.76L126.29 674.66L124.99 672.76Z" fill="#ff0000"/><path d="M140.69 670.92L141.99 672.82L140.69 674.72L139.39 672.82Z" fill="#ff0000"/><path d="M155.09 670.98L156.39 672.88L155.09 674.78L153.79 672.88Z" fill="#ff0000"/>
<path d="M25 606.53L25.26 628.67L29.75 629.46L30.4 669.25L33.17 670.04L93.55 670.41L94.86 672.15L99.08 672.41L130.45 672.94L138.36 674.52L170 675.05" stroke="#0000ff" stroke-width="1.0"/>
<circle cx="25.49" cy="606.53" r="1.6" fill="#2828e0" stroke="#0000ff" stroke-width="0.5"/><circle cx="39.89" cy="670.08" r="1.6" fill="#2828e0" stroke="#0000ff" stroke-width="0.5"/><circle cx="54.29" cy="670.16" r="1.6" fill="#2828e0" stroke="#0000ff" stroke-width="0.5"/><circle cx="68.69" cy="670.25" r="1.6" fill="#2828e0" stroke="#0000ff" stroke-width="0.5"/><circle cx="83.09" cy="670.34" r="1.6" fill="#2828e0" stroke="#0000ff" stroke-width="0.5"/><circle cx="97.49" cy="672.27" r="1.6" fill="#2828e0" stroke="#0000ff" stroke-width="0.5"/><circle cx="111.89" cy="672.62" r="1.6" fill="#2828e0" stroke="#0000ff" stroke-width="0.5"/><circle cx="126.29" cy="672.86" r="1.6" fill="#2828e0" stroke="#0000ff" stroke-width="0.5"/><circle cx="140.69" cy="674.55" r="1.6" fill="#2828e0" stroke="#0000ff" stroke-width="0.5"/><circle cx="155.09" cy="674.79" r="1.6" fill="#2828e0" stroke="#0000ff" stroke-width="0.5"/>
<path d="M25 567L26.32 635.52L28.95 646.06L32.91 649.22L170 649.75" stroke="#ff00ff" stroke-width="1.0"/>
<circle cx="25.49" cy="567" r="1.25" fill="#ff00ff"/><circle cx="39.89" cy="649.25" r="1.25" fill="#ff00ff"/><circle cx="54.29" cy="649.3" r="1.25" fill="#ff00ff"/><circle cx="68.69" cy="649.36" r="1.25" fill="#ff00ff"/><circle cx="83.09" cy="649.41" r="1.25" fill="#ff00ff"/><circle cx="97.49" cy="649.47" r="1.25" fill="#ff00ff"/><circle cx="111.89" cy="649.52" r="1.25" fill="#ff00ff"/><circle cx="126.29" cy="649.58" r="1.25" fill="#ff00ff"/><circle cx="140.69" cy="649.63" r="1.25" fill="#ff00ff"/><circle cx="155.09" cy="649.69" r="1.25" fill="#ff00ff"/>
<path d="M25 582.81L26.05 627.61L27.64 635.78L34.49 636.31L35.28 639.21L40.29 639.63L40.82 642.11L44.51 642.63L45.04 644.74L47.94 645L48.73 648.17L53.47 648.96L55.58 649.75L125.18 650.01L126.5 655.28L138.36 656.6L141 659.76L151.55 660.55L170 661.34" stroke="#00ffff" stroke-width="1.0"/>
<path d="M25.49 580.81L27.49 584.41L23.49 584.41Z" fill="#00ffff"/><path d="M39.89 637.54L41.89 641.14L37.89 641.14Z" fill="#00ffff"/><path d="M54.29 647.02L56.29 650.62L52.29 650.62Z" fill="#00ffff"/><path d="M68.69 647.8L70.69 651.4L66.69 651.4Z" fill="#00ffff"/><path d="M83.09 647.85L85.09 651.45L81.09 651.45Z" fill="#00ffff"/><path d="M97.49 647.9L99.49 651.5L95.49 651.5Z" fill="#00ffff"/><path d="M111.89 647.96L113.89 651.56L109.89 651.56Z" fill="#00ffff"/><path d="M126.29 649.79L128.29 653.39L124.29 653.39Z" fill="#00ffff"/><path d="M140.69 656.6L142.69 660.2L138.69 660.2Z" fill="#00ffff"/><path d="M155.09 658.68L157.09 662.28L153.09 662.28Z" fill="#00ffff"/>
<path d="M25 632.88L26.32 659.24L27.64 671.09L30.27 674.52L38.18 675.57L77.73 676.1L143.64 676.63L156.82 677.68L170 678.74" stroke="#00ff00" stroke-width="1.0"/>
<path d="M25.49 630.78L26.02 632.15L27.48 632.23L26.34 633.16L26.72 634.58L25.49 633.78L24.25 634.58L24.63 633.16L23.49 632.23L24.96 632.15Z" fill="#00ff00"/><path d="M39.89 673.49L40.42 674.86L41.88 674.94L40.74 675.87L41.12 677.29L39.89 676.49L38.65 677.29L39.03 675.87L37.89 674.94L39.36 674.86Z" fill="#00ff00"/><path d="M54.29 673.68L54.82 675.05L56.28 675.13L55.14 676.06L55.52 677.48L54.29 676.68L53.05 677.48L53.43 676.06L52.29 675.13L53.76 675.05Z" fill="#00ff00"/><path d="M68.69 673.87L69.22 675.24L70.68 675.32L69.54 676.25L69.92 677.67L68.69 676.87L67.45 677.67L67.83 676.25L66.69 675.32L68.16 675.24Z" fill="#00ff00"/><path d="M83.09 674.04L83.62 675.41L85.08 675.49L83.94 676.42L84.32 677.84L83.09 677.04L81.85 677.84L82.23 676.42L81.09 675.49L82.56 675.41Z" fill="#00ff00"/><path d="M97.49 674.15L98.02 675.53L99.48 675.6L98.34 676.53L98.72 677.95L97.49 677.15L96.25 677.95L96.63 676.53L95.49 675.6L96.96 675.53Z" fill="#00ff00"/><path d="M111.89 674.27L112.42 675.64L113.88 675.72L112.74 676.65L113.12 678.07L111.89 677.27L110.65 678.07L111.03 676.65L109.89 675.72L111.36 675.64Z" fill="#00ff00"/><path d="M126.29 674.38L126.82 675.76L128.28 675.84L127.14 676.76L127.52 678.18L126.29 677.38L125.05 678.18L125.43 676.76L124.29 675.84L125.76 675.76Z" fill="#00ff00"/><path d="M140.69 674.5L141.22 675.87L142.68 675.95L141.54 676.88L141.92 678.3L140.69 677.5L139.45 678.3L139.83 676.88L138.69 675.95L140.16 675.87Z" fill="#00ff00"/><path d="M155.09 675.39L155.62 676.76L157.08 676.84L155.94 677.77L156.32 679.19L155.09 678.39L153.85 679.19L154.23 677.77L153.09 676.84L154.56 676.76Z" fill="#00ff00"/>
<path d="M25 593.35L25.53 643.42L31.85 644.74L36.07 647.64L37.39 648.3L38.71 655.28L47.94 656.07L49.25 660.82L66.92 661.61L68.24 662.4L170 662.92" stroke="#ff8000" stroke-width="1.0"/>
<rect x="23.89" y="591.75" width="3.2" height="3.2" fill="#ff8000"/><rect x="38.29" y="653.73" width="3.2" height="3.2" fill="#ff8000"/><rect x="52.69" y="659.41" width="3.2" height="3.2" fill="#ff8000"/><rect x="67.09" y="660.67" width="3.2" height="3.2" fill="#ff8000"/><rect x="81.49" y="660.87" width="3.2" height="3.2" fill="#ff8000"/><rect x="95.89" y="660.95" width="3.2" height="3.2" fill="#ff8000"/><rect x="110.29" y="661.02" width="3.2" height="3.2" fill="#ff8000"/><rect x="124.69" y="661.09" width="3.2" height="3.2" fill="#ff8000"/><rect x="139.09" y="661.17" width="3.2" height="3.2" fill="#ff8000"/><rect x="153.49" y="661.24" width="3.2" height="3.2" fill="#ff8000"/>
<path d="M25 619.71L26.58 640.79L28.16 648.96L33.17 649.75L33.96 658.71L68.24 659.5L69.55 667.14L104.09 667.67L117.27 668.2L130.45 669.78L143.64 671.09L170 671.88" stroke="#a020f0" stroke-width="1.0"/>
<circle cx="25.49" cy="619.71" r="1.2" fill="#a020f0"/><circle cx="39.89" cy="658.83" r="1.2" fill="#a020f0"/><circle cx="54.29" cy="659.16" r="1.2" fill="#a020f0"/><circle cx="68.69" cy="659.49" r="1.2" fill="#a020f0"/><circle cx="83.09" cy="667.34" r="1.2" fill="#a020f0"/><circle cx="97.49" cy="667.56" r="1.2" fill="#a020f0"/><circle cx="111.89" cy="667.95" r="1.2" fill="#a020f0"/><circle cx="126.29" cy="669.2" r="1.2" fill="#a020f0"/><circle cx="140.69" cy="670.73" r="1.2" fill="#a020f0"/><circle cx="155.09" cy="671.42" r="1.2" fill="#a020f0"/>
<path d="M25 567L26.05 632.88L27.64 644.74L38.71 645.53L40.82 647.64L47.15 648.3L50.05 649.75L65.34 650.12L66.92 653.96L68.24 656.07L69.55 659.5L81.42 659.92L82.21 663.72L112 665.03L119.91 666.61L130.45 668.46L138.36 670.3L170 670.83" stroke="#008080" stroke-width="1.0"/>
<circle cx="25.49" cy="567" r="1.8" fill="#008080"/><circle cx="39.89" cy="646.05" r="1.8" fill="#008080"/><circle cx="54.29" cy="649.83" r="1.8" fill="#008080"/><circle cx="68.69" cy="655.74" r="1.8" fill="#008080"/><circle cx="83.09" cy="663.72" r="1.8" fill="#008080"/><circle cx="97.49" cy="664.36" r="1.8" fill="#008080"/><circle cx="111.89" cy="665" r="1.8" fill="#008080"/><circle cx="126.29" cy="667.61" r="1.8" fill="#008080"/><circle cx="140.69" cy="670.33" r="1.8" fill="#008080"/><circle cx="155.09" cy="670.57" r="1.8" fill="#008080"/>
</g>
<clipPath id="c13"><rect x="211.4" y="565.2" width="145.1" height="114.1"/></clipPath>
<rect x="212" y="567.4" width="143.9" height="111.3" fill="none" stroke="#9a9a9a" stroke-width="0.5"/>
<text transform="translate(240.78 687.4) scale(1 1.08)" font-size="6.1" fill="#303030" text-anchor="middle">100</text>
<text transform="translate(269.56 687.4) scale(1 1.08)" font-size="6.1" fill="#303030" text-anchor="middle">200</text>
<text transform="translate(298.34 687.4) scale(1 1.08)" font-size="6.1" fill="#303030" text-anchor="middle">300</text>
<text transform="translate(327.12 687.4) scale(1 1.08)" font-size="6.1" fill="#303030" text-anchor="middle">400</text>
<text transform="translate(355.9 687.4) scale(1 1.08)" font-size="6.1" fill="#303030" text-anchor="middle">500</text>
<text transform="translate(207.25 583.9) scale(1 1.08)" font-size="6.1" fill="#303030" text-anchor="end">10</text>
<text transform="translate(207.55 580.7) scale(1 1.08)" font-size="4.4" fill="#303030" text-anchor="start">8</text>
<text transform="translate(207.25 625.4) scale(1 1.08)" font-size="6.1" fill="#303030" text-anchor="end">10</text>
<text transform="translate(207.55 622.2) scale(1 1.08)" font-size="4.4" fill="#303030" text-anchor="start">6</text>
<text transform="translate(207.25 666.8) scale(1 1.08)" font-size="6.1" fill="#303030" text-anchor="end">10</text>
<text transform="translate(207.55 663.6) scale(1 1.08)" font-size="4.4" fill="#303030" text-anchor="start">4</text>
<path d="M240.78 678.7v-1.3M240.78 567.4v1.3M269.56 678.7v-1.3M269.56 567.4v1.3M298.34 678.7v-1.3M298.34 567.4v1.3M327.12 678.7v-1.3M327.12 567.4v1.3M355.9 678.7v-1.3M355.9 567.4v1.3M212 580.9h1.3M355.9 580.9h-1.3M212 622.4h1.3M355.9 622.4h-1.3M212 663.8h1.3M355.9 663.8h-1.3" stroke="#9a9a9a" stroke-width="0.5" fill="none"/>
<text transform="translate(283.95 565.6) scale(1 1.08)" font-size="6.9" fill="#111" text-anchor="middle">F15</text>
<text transform="translate(283.95 696.1) scale(1 1.08)" font-size="6.6" fill="#303030" text-anchor="middle">Iteration</text>
<text transform="translate(197.5 623.05) rotate(-90)" font-size="6.6" fill="#303030" text-anchor="middle">Fitness value</text>
<g clip-path="url(#c13)" fill="none" stroke-linejoin="miter" stroke-miterlimit="2.5">
<path d="M212 595.99L212.79 656.6L213.58 661.87L217.8 663.98L224.81 665.3L225.45 673.73L231.11 674.1L232.56 675.57L240.21 675.84L254.18 676.1L268.15 677.16L357 677.68" stroke="#000000" stroke-width="1.0"/>
<path d="M210.33 594.04L214.23 595.99L210.33 597.94Z" fill="#000000"/><path d="M224.72 671.8L228.62 673.75L224.72 675.7Z" fill="#000000"/><path d="M239.11 673.89L243.01 675.84L239.11 677.79Z" fill="#000000"/><path d="M253.5 674.18L257.4 676.13L253.5 678.08Z" fill="#000000"/><path d="M267.89 675.21L271.79 677.16L267.89 679.11Z" fill="#000000"/><path d="M282.28 675.3L286.18 677.25L282.28 679.2Z" fill="#000000"/><path d="M296.67 675.38L300.57 677.33L296.67 679.28Z" fill="#000000"/><path d="M311.06 675.47L314.96 677.42L311.06 679.37Z" fill="#000000"/><path d="M325.45 675.55L329.35 677.5L325.45 679.45Z" fill="#000000"/><path d="M339.84 675.64L343.74 677.59L339.84 679.54Z" fill="#000000"/>
<path d="M212 567L212.79 646.06L214.11 653.96L217.27 656.6L222.55 657.39L357 657.65" stroke="#ff0000" stroke-width="1.0"/>
<path d="M212.09 565.1L213.39 567L212.09 568.9L210.79 567Z" fill="#ff0000"/><path d="M226.48 655.5L227.78 657.4L226.48 659.3L225.18 657.4Z" fill="#ff0000"/><path d="M240.87 655.53L242.17 657.43L240.87 659.33L239.57 657.43Z" fill="#ff0000"/><path d="M255.26 655.55L256.56 657.45L255.26 659.35L253.96 657.45Z" fill="#ff0000"/><path d="M269.65 655.58L270.95 657.48L269.65 659.38L268.35 657.48Z" fill="#ff0000"/><path d="M284.04 655.61L285.34 657.51L284.04 659.41L282.74 657.51Z" fill="#ff0000"/><path d="M298.43 655.64L299.73 657.54L298.43 659.44L297.13 657.54Z" fill="#ff0000"/><path d="M312.82 655.67L314.12 657.57L312.82 659.47L311.52 657.57Z" fill="#ff0000"/><path d="M327.21 655.69L328.51 657.59L327.21 659.49L325.91 657.59Z" fill="#ff0000"/><path d="M341.6 655.72L342.9 657.62L341.6 659.52L340.3 657.62Z" fill="#ff0000"/>
<path d="M212 567L213.05 653.96L215.95 657.92L225.18 659.24L238.36 659.76L357 660.82" stroke="#0000ff" stroke-width="1.0"/>
<circle cx="212.09" cy="567" r="1.6" fill="#2828e0" stroke="#0000ff" stroke-width="0.5"/><circle cx="226.48" cy="659.26" r="1.6" fill="#2828e0" stroke="#0000ff" stroke-width="0.5"/><circle cx="240.87" cy="659.78" r="1.6" fill="#2828e0" stroke="#0000ff" stroke-width="0.5"/><circle cx="255.26" cy="659.91" r="1.6" fill="#2828e0" stroke="#0000ff" stroke-width="0.5"/><circle cx="269.65" cy="660.03" r="1.6" fill="#2828e0" stroke="#0000ff" stroke-width="0.5"/><circle cx="284.04" cy="660.16" r="1.6" fill="#2828e0" stroke="#0000ff" stroke-width="0.5"/><circle cx="298.43" cy="660.29" r="1.6" fill="#2828e0" stroke="#0000ff" stroke-width="0.5"/><circle cx="312.82" cy="660.42" r="1.6" fill="#2828e0" stroke="#0000ff" stroke-width="0.5"/><circle cx="327.21" cy="660.55" r="1.6" fill="#2828e0" stroke="#0000ff" stroke-width="0.5"/><circle cx="341.6" cy="660.67" r="1.6" fill="#2828e0" stroke="#0000ff" stroke-width="0.5"/>
<path d="M212 567L213.05 655.28L217.27 658.71L227.82 659.76L357 660.29" stroke="#ff00ff" stroke-width="1.0"/>
<circle cx="212.09" cy="567" r="1.25" fill="#ff00ff"/><circle cx="226.48" cy="659.56" r="1.25" fill="#ff00ff"/><circle cx="240.87" cy="659.81" r="1.25" fill="#ff00ff"/><circle cx="255.26" cy="659.87" r="1.25" fill="#ff00ff"/><circle cx="269.65" cy="659.93" r="1.25" fill="#ff00ff"/><circle cx="284.04" cy="659.99" r="1.25" fill="#ff00ff"/><circle cx="298.43" cy="660.05" r="1.25" fill="#ff00ff"/><circle cx="312.82" cy="660.11" r="1.25" fill="#ff00ff"/><circle cx="327.21" cy="660.17" r="1.25" fill="#ff00ff"/><circle cx="341.6" cy="660.22" r="1.25" fill="#ff00ff"/>
<path d="M212 574.91L212.79 623.66L219.91 626.29L223.86 630.77L264.73 631.3L268.68 633.41L275.27 634.99L280.02 635.25L282.92 637.89L289.77 637.99L292.67 640L293.33 647.11L298.21 647.77L306.65 648.43L311.52 649.22L312.97 653.44L321.94 654.1L327.74 654.76L341.71 655.02L344.35 655.91L357 656.18" stroke="#00ffff" stroke-width="1.0"/>
<path d="M212.09 572.91L214.09 576.51L210.09 576.51Z" fill="#00ffff"/><path d="M226.48 628.8L228.48 632.4L224.48 632.4Z" fill="#00ffff"/><path d="M240.87 628.98L242.87 632.58L238.87 632.58Z" fill="#00ffff"/><path d="M255.26 629.17L257.26 632.77L253.26 632.77Z" fill="#00ffff"/><path d="M269.65 631.48L271.65 635.08L267.65 635.08Z" fill="#00ffff"/><path d="M284.04 635.9L286.04 639.5L282.04 639.5Z" fill="#00ffff"/><path d="M298.43 645.71L300.43 649.31L296.43 649.31Z" fill="#00ffff"/><path d="M312.82 649.07L314.82 652.67L310.82 652.67Z" fill="#00ffff"/><path d="M327.21 652.62L329.21 656.22L325.21 656.22Z" fill="#00ffff"/><path d="M341.6 653L343.6 656.6L339.6 656.6Z" fill="#00ffff"/>
<path d="M212 632.88L212.9 654.76L216.48 658.18L226.24 659.76L230.45 660.29L231.11 663.19L240.21 663.9L266.84 664.51L285.03 665.3L299 665.56L312.18 666.35L322.73 667.67L333.27 669.78L343.82 670.83L357 671.88" stroke="#00ff00" stroke-width="1.0"/>
<path d="M212.09 630.78L212.62 632.15L214.08 632.23L212.94 633.16L213.32 634.58L212.09 633.78L210.85 634.58L211.23 633.16L210.09 632.23L211.56 632.15Z" fill="#00ff00"/><path d="M226.48 657.59L227.01 658.97L228.47 659.05L227.33 659.97L227.71 661.39L226.48 660.59L225.24 661.39L225.62 659.97L224.48 659.05L225.95 658.97Z" fill="#00ff00"/><path d="M240.87 661.8L241.4 663.17L242.86 663.25L241.72 664.18L242.1 665.6L240.87 664.8L239.63 665.6L240.01 664.18L238.87 663.25L240.34 663.17Z" fill="#00ff00"/><path d="M255.26 662.13L255.79 663.5L257.25 663.58L256.11 664.51L256.49 665.93L255.26 665.13L254.02 665.93L254.4 664.51L253.26 663.58L254.73 663.5Z" fill="#00ff00"/><path d="M269.65 662.5L270.18 663.87L271.64 663.95L270.5 664.88L270.88 666.3L269.65 665.5L268.41 666.3L268.79 664.88L267.65 663.95L269.12 663.87Z" fill="#00ff00"/><path d="M284.04 663.12L284.57 664.5L286.03 664.58L284.89 665.5L285.27 666.92L284.04 666.12L282.8 666.92L283.18 665.5L282.04 664.58L283.51 664.5Z" fill="#00ff00"/><path d="M298.43 663.44L298.96 664.81L300.42 664.89L299.28 665.81L299.66 667.24L298.43 666.44L297.19 667.24L297.57 665.81L296.43 664.89L297.9 664.81Z" fill="#00ff00"/><path d="M312.82 664.25L313.35 665.62L314.81 665.7L313.67 666.63L314.05 668.05L312.82 667.25L311.58 668.05L311.96 666.63L310.82 665.7L312.29 665.62Z" fill="#00ff00"/><path d="M327.21 666.33L327.74 667.7L329.2 667.78L328.06 668.71L328.44 670.13L327.21 669.33L325.97 670.13L326.35 668.71L325.21 667.78L326.68 667.7Z" fill="#00ff00"/><path d="M341.6 668.44L342.13 669.81L343.59 669.89L342.45 670.82L342.83 672.24L341.6 671.44L340.36 672.24L340.74 670.82L339.6 669.89L341.07 669.81Z" fill="#00ff00"/>
<path d="M212 646.06L213.05 659.24L213.58 661.87L217.8 663.98L224.92 665.3L241 665.98L242.32 668.72L248.65 669.51L254.18 670.2L256.29 671.62L268.15 672.28L269.74 673.73L285.03 674.1L291.09 674.52L357 675.05" stroke="#ff8000" stroke-width="1.0"/>
<rect x="210.49" y="644.46" width="3.2" height="3.2" fill="#ff8000"/><rect x="224.88" y="663.73" width="3.2" height="3.2" fill="#ff8000"/><rect x="239.27" y="664.35" width="3.2" height="3.2" fill="#ff8000"/><rect x="253.66" y="668.88" width="3.2" height="3.2" fill="#ff8000"/><rect x="268.05" y="671.44" width="3.2" height="3.2" fill="#ff8000"/><rect x="282.44" y="672.46" width="3.2" height="3.2" fill="#ff8000"/><rect x="296.83" y="672.97" width="3.2" height="3.2" fill="#ff8000"/><rect x="311.22" y="673.09" width="3.2" height="3.2" fill="#ff8000"/><rect x="325.61" y="673.2" width="3.2" height="3.2" fill="#ff8000"/><rect x="340" y="673.32" width="3.2" height="3.2" fill="#ff8000"/>
<path d="M212 640.79L213.58 645L216.48 647.64L217.01 657.65L226.24 658.97L248.65 659.24L249.3 666.09L257.08 666.61L257.71 669.51L269.74 669.91L271.05 671.62L285.03 671.88L291.09 672.41L357 672.94" stroke="#a020f0" stroke-width="1.0"/>
<circle cx="212.09" cy="640.79" r="1.2" fill="#a020f0"/><circle cx="226.48" cy="658.91" r="1.2" fill="#a020f0"/><circle cx="240.87" cy="659.14" r="1.2" fill="#a020f0"/><circle cx="255.26" cy="666.45" r="1.2" fill="#a020f0"/><circle cx="269.65" cy="669.88" r="1.2" fill="#a020f0"/><circle cx="284.04" cy="671.85" r="1.2" fill="#a020f0"/><circle cx="298.43" cy="672.47" r="1.2" fill="#a020f0"/><circle cx="312.82" cy="672.58" r="1.2" fill="#a020f0"/><circle cx="327.21" cy="672.7" r="1.2" fill="#a020f0"/><circle cx="341.6" cy="672.81" r="1.2" fill="#a020f0"/>
<path d="M212 567L213.32 651.33L217.27 656.6L225.18 658.44L285.82 658.71L288.45 661.87L299 663.19L302.95 665.82L317.45 666.61L325.36 668.46L330.64 669.78L357 670.3" stroke="#008080" stroke-width="1.0"/>
<circle cx="212.09" cy="567" r="1.8" fill="#008080"/><circle cx="226.48" cy="658.45" r="1.8" fill="#008080"/><circle cx="240.87" cy="658.51" r="1.8" fill="#008080"/><circle cx="255.26" cy="658.57" r="1.8" fill="#008080"/><circle cx="269.65" cy="658.64" r="1.8" fill="#008080"/><circle cx="284.04" cy="658.7" r="1.8" fill="#008080"/><circle cx="298.43" cy="663.03" r="1.8" fill="#008080"/><circle cx="312.82" cy="666.33" r="1.8" fill="#008080"/><circle cx="327.21" cy="668.75" r="1.8" fill="#008080"/><circle cx="341.6" cy="669.98" r="1.8" fill="#008080"/>
</g>
<clipPath id="c14"><rect x="398.2" y="565.1" width="144" height="114.2"/></clipPath>
<rect x="398.8" y="567.3" width="142.8" height="111.4" fill="none" stroke="#9a9a9a" stroke-width="0.5"/>
<text transform="translate(427.36 687.4) scale(1 1.08)" font-size="6.1" fill="#303030" text-anchor="middle">100</text>
<text transform="translate(455.92 687.4) scale(1 1.08)" font-size="6.1" fill="#303030" text-anchor="middle">200</text>
<text transform="translate(484.48 687.4) scale(1 1.08)" font-size="6.1" fill="#303030" text-anchor="middle">300</text>
<text transform="translate(513.04 687.4) scale(1 1.08)" font-size="6.1" fill="#303030" text-anchor="middle">400</text>
<text transform="translate(541.6 687.4) scale(1 1.08)" font-size="6.1" fill="#303030" text-anchor="middle">500</text>
<text transform="translate(396.5 577.35) scale(1 1.08)" font-size="6.1" fill="#303030" text-anchor="end">3200</text>
<text transform="translate(396.5 587.05) scale(1 1.08)" font-size="6.1" fill="#303030" text-anchor="end">3000</text>
<text transform="translate(396.5 597.55) scale(1 1.08)" font-size="6.1" fill="#303030" text-anchor="end">2800</text>
<text transform="translate(396.5 608.75) scale(1 1.08)" font-size="6.1" fill="#303030" text-anchor="end">2600</text>
<text transform="translate(396.5 620.85) scale(1 1.08)" font-size="6.1" fill="#303030" text-anchor="end">2400</text>
<text transform="translate(396.5 634.05) scale(1 1.08)" font-size="6.1" fill="#303030" text-anchor="end">2200</text>
<text transform="translate(396.5 648.55) scale(1 1.08)" font-size="6.1" fill="#303030" text-anchor="end">2000</text>
<text transform="translate(396.5 664.45) scale(1 1.08)" font-size="6.1" fill="#303030" text-anchor="end">1800</text>
<path d="M427.36 678.7v-1.3M427.36 567.3v1.3M455.92 678.7v-1.3M455.92 567.3v1.3M484.48 678.7v-1.3M484.48 567.3v1.3M513.04 678.7v-1.3M513.04 567.3v1.3M541.6 678.7v-1.3M541.6 567.3v1.3M398.8 575h1.3M541.6 575h-1.3M398.8 584.7h1.3M541.6 584.7h-1.3M398.8 595.2h1.3M541.6 595.2h-1.3M398.8 606.4h1.3M541.6 606.4h-1.3M398.8 618.5h1.3M541.6 618.5h-1.3M398.8 631.7h1.3M541.6 631.7h-1.3M398.8 646.2h1.3M541.6 646.2h-1.3M398.8 662.1h1.3M541.6 662.1h-1.3" stroke="#9a9a9a" stroke-width="0.5" fill="none"/>
<text transform="translate(470.2 565.5) scale(1 1.08)" font-size="6.9" fill="#111" text-anchor="middle">F16</text>
<text transform="translate(470.2 696.1) scale(1 1.08)" font-size="6.6" fill="#303030" text-anchor="middle">Iteration</text>
<text transform="translate(381.1 623) rotate(-90)" font-size="6.6" fill="#303030" text-anchor="middle">Fitness value</text>
<g clip-path="url(#c14)" fill="none" stroke-linejoin="miter" stroke-miterlimit="2.5">
<path d="M398.26 567L399.74 604.42L402.11 631.3L404.49 640.79L410.81 642.37L413.19 644.74L414.77 647.11L415.56 651.07L426.63 653.44L432.96 654.23L446.38 654.62L447.96 663.72L450.33 666.09L456.66 667.67L466.15 668.46L474.45 670.57L498.18 672.41L503.45 673.73L508.73 676.36L514 677.16L543 677.68" stroke="#000000" stroke-width="1.0"/>
<path d="M397.13 565.05L401.03 567L397.13 568.95Z" fill="#000000"/><path d="M411.41 642.11L415.31 644.06L411.41 646.01Z" fill="#000000"/><path d="M425.69 651.51L429.59 653.46L425.69 655.41Z" fill="#000000"/><path d="M439.97 652.52L443.87 654.47L439.97 656.42Z" fill="#000000"/><path d="M454.25 665.39L458.15 667.34L454.25 669.29Z" fill="#000000"/><path d="M468.53 667.39L472.43 669.34L468.53 671.29Z" fill="#000000"/><path d="M482.81 669.35L486.71 671.3L482.81 673.25Z" fill="#000000"/><path d="M497.09 670.46L500.99 672.41L497.09 674.36Z" fill="#000000"/><path d="M511.37 674.98L515.27 676.93L511.37 678.88Z" fill="#000000"/><path d="M525.65 675.44L529.55 677.39L525.65 679.34Z" fill="#000000"/>
<path d="M398.26 593.35L400.11 619.71L401.95 628.93L405.91 632.88L409.86 636.04L415.4 638.15L543 638.68" stroke="#ff0000" stroke-width="1.0"/>
<path d="M398.89 591.45L400.19 593.35L398.89 595.25L397.59 593.35Z" fill="#ff0000"/><path d="M413.17 635.15L414.47 637.05L413.17 638.95L411.87 637.05Z" fill="#ff0000"/><path d="M427.45 636.3L428.75 638.2L427.45 640.1L426.15 638.2Z" fill="#ff0000"/><path d="M441.73 636.36L443.03 638.26L441.73 640.16L440.43 638.26Z" fill="#ff0000"/><path d="M456.01 636.42L457.31 638.32L456.01 640.22L454.71 638.32Z" fill="#ff0000"/><path d="M470.29 636.48L471.59 638.38L470.29 640.28L468.99 638.38Z" fill="#ff0000"/><path d="M484.57 636.54L485.87 638.44L484.57 640.34L483.27 638.44Z" fill="#ff0000"/><path d="M498.85 636.59L500.15 638.49L498.85 640.39L497.55 638.49Z" fill="#ff0000"/><path d="M513.13 636.65L514.43 638.55L513.13 640.45L511.83 638.55Z" fill="#ff0000"/><path d="M527.41 636.71L528.71 638.61L527.41 640.51L526.11 638.61Z" fill="#ff0000"/>
<path d="M398.95 592.56L399.74 612.33L401.32 621.81L402.9 622.6L403.69 634.46L404.49 640.79L471.82 641.32L494.23 641.84L495.02 663.19L503.45 663.98L543 664.51" stroke="#0000ff" stroke-width="1.0"/>
<circle cx="398.89" cy="592.56" r="1.6" fill="#2828e0" stroke="#0000ff" stroke-width="0.5"/><circle cx="413.17" cy="640.85" r="1.6" fill="#2828e0" stroke="#0000ff" stroke-width="0.5"/><circle cx="427.45" cy="640.96" r="1.6" fill="#2828e0" stroke="#0000ff" stroke-width="0.5"/><circle cx="441.73" cy="641.07" r="1.6" fill="#2828e0" stroke="#0000ff" stroke-width="0.5"/><circle cx="456.01" cy="641.19" r="1.6" fill="#2828e0" stroke="#0000ff" stroke-width="0.5"/><circle cx="470.29" cy="641.3" r="1.6" fill="#2828e0" stroke="#0000ff" stroke-width="0.5"/><circle cx="484.57" cy="641.6" r="1.6" fill="#2828e0" stroke="#0000ff" stroke-width="0.5"/><circle cx="498.85" cy="663.49" r="1.6" fill="#2828e0" stroke="#0000ff" stroke-width="0.5"/><circle cx="513.13" cy="664.1" r="1.6" fill="#2828e0" stroke="#0000ff" stroke-width="0.5"/><circle cx="527.41" cy="664.29" r="1.6" fill="#2828e0" stroke="#0000ff" stroke-width="0.5"/>
<path d="M398.26 593.35L399.58 614.44L401.32 628.14L406.07 634.46L410.81 636.84L415.56 637.89L543 638.15" stroke="#ff00ff" stroke-width="1.0"/>
<circle cx="398.89" cy="593.35" r="1.25" fill="#ff00ff"/><circle cx="413.17" cy="637.21" r="1.25" fill="#ff00ff"/><circle cx="427.45" cy="637.91" r="1.25" fill="#ff00ff"/><circle cx="441.73" cy="637.94" r="1.25" fill="#ff00ff"/><circle cx="456.01" cy="637.97" r="1.25" fill="#ff00ff"/><circle cx="470.29" cy="638" r="1.25" fill="#ff00ff"/><circle cx="484.57" cy="638.03" r="1.25" fill="#ff00ff"/><circle cx="498.85" cy="638.06" r="1.25" fill="#ff00ff"/><circle cx="513.13" cy="638.09" r="1.25" fill="#ff00ff"/><circle cx="527.41" cy="638.12" r="1.25" fill="#ff00ff"/>
<path d="M398.95 567.26L399.74 572.8L402.11 573.59L402.59 589.4L409.23 589.93L410.02 592.56L411.6 593.35L412.39 602.84L422.68 603.37L423.47 610.75L428.21 611.27L429 627.35L436.89 628.14L437.68 632.88L468.52 633.28L469.31 637.63L473.14 640.79L477.09 642.63L485 644.48L503.45 645.53L543 646.06" stroke="#00ffff" stroke-width="1.0"/>
<path d="M398.89 565.26L400.89 568.86L396.89 568.86Z" fill="#00ffff"/><path d="M413.17 600.85L415.17 604.45L411.17 604.45Z" fill="#00ffff"/><path d="M427.45 609.11L429.45 612.71L425.45 612.71Z" fill="#00ffff"/><path d="M441.73 630.93L443.73 634.53L439.73 634.53Z" fill="#00ffff"/><path d="M456.01 631.11L458.01 634.71L454.01 634.71Z" fill="#00ffff"/><path d="M470.29 635.88L472.29 639.48L468.29 639.48Z" fill="#00ffff"/><path d="M484.57 642.22L486.57 645.82L482.57 645.82Z" fill="#00ffff"/><path d="M498.85 643.23L500.85 646.83L496.85 646.83Z" fill="#00ffff"/><path d="M513.13 643.65L515.13 647.25L511.13 647.25Z" fill="#00ffff"/><path d="M527.41 643.84L529.41 647.44L525.41 647.44Z" fill="#00ffff"/>
<path d="M398.95 596.52L400.53 610.75L402.9 617.07L403.69 634.46L405.28 639.21L409.23 640.52L415.56 642.37L426.63 643.95L442.42 644.48L471.82 645L503.45 645.53L543 646.06" stroke="#00ff00" stroke-width="1.0"/>
<path d="M398.89 594.42L399.41 595.79L400.88 595.87L399.74 596.79L400.12 598.21L398.89 597.42L397.65 598.21L398.03 596.79L396.89 595.87L398.36 595.79Z" fill="#00ff00"/><path d="M413.17 639.38L413.69 640.75L415.16 640.83L414.02 641.76L414.4 643.18L413.17 642.38L411.93 643.18L412.31 641.76L411.17 640.83L412.64 640.75Z" fill="#00ff00"/><path d="M427.45 641.86L427.97 643.23L429.44 643.31L428.3 644.23L428.68 645.65L427.45 644.86L426.21 645.65L426.59 644.23L425.45 643.31L426.92 643.23Z" fill="#00ff00"/><path d="M441.73 642.33L442.25 643.7L443.72 643.78L442.58 644.71L442.96 646.13L441.73 645.33L440.49 646.13L440.87 644.71L439.73 643.78L441.2 643.7Z" fill="#00ff00"/><path d="M456.01 642.61L456.53 643.98L458 644.06L456.86 644.99L457.24 646.41L456.01 645.61L454.77 646.41L455.15 644.99L454.01 644.06L455.48 643.98Z" fill="#00ff00"/><path d="M470.29 642.87L470.81 644.24L472.28 644.32L471.14 645.24L471.52 646.66L470.29 645.87L469.05 646.66L469.43 645.24L468.29 644.32L469.76 644.24Z" fill="#00ff00"/><path d="M484.57 643.11L485.09 644.48L486.56 644.56L485.42 645.48L485.8 646.91L484.57 646.11L483.33 646.91L483.71 645.48L482.57 644.56L484.04 644.48Z" fill="#00ff00"/><path d="M498.85 643.34L499.37 644.72L500.84 644.8L499.7 645.72L500.08 647.14L498.85 646.34L497.61 647.14L497.99 645.72L496.85 644.8L498.32 644.72Z" fill="#00ff00"/><path d="M513.13 643.55L513.65 644.92L515.12 645L513.98 645.93L514.36 647.35L513.13 646.55L511.89 647.35L512.27 645.93L511.13 645L512.6 644.92Z" fill="#00ff00"/><path d="M527.41 643.74L527.93 645.11L529.4 645.19L528.26 646.12L528.64 647.54L527.41 646.74L526.17 647.54L526.55 646.12L525.41 645.19L526.88 645.11Z" fill="#00ff00"/>
<path d="M398.95 621.81L402.11 650.28L406.07 651.07L406.86 656.6L412.39 657.39L414.77 659.76L418.72 662.92L426.63 663.72L442.42 664.51L471.82 664.77L543 665.03" stroke="#ff8000" stroke-width="1.0"/>
<rect x="397.29" y="620.21" width="3.2" height="3.2" fill="#ff8000"/><rect x="411.57" y="655.9" width="3.2" height="3.2" fill="#ff8000"/><rect x="425.85" y="662.12" width="3.2" height="3.2" fill="#ff8000"/><rect x="440.13" y="662.84" width="3.2" height="3.2" fill="#ff8000"/><rect x="454.41" y="663.02" width="3.2" height="3.2" fill="#ff8000"/><rect x="468.69" y="663.15" width="3.2" height="3.2" fill="#ff8000"/><rect x="482.97" y="663.21" width="3.2" height="3.2" fill="#ff8000"/><rect x="497.25" y="663.27" width="3.2" height="3.2" fill="#ff8000"/><rect x="511.53" y="663.32" width="3.2" height="3.2" fill="#ff8000"/><rect x="525.81" y="663.37" width="3.2" height="3.2" fill="#ff8000"/>
<path d="M398.95 602.84L401.32 632.88L402.9 650.28L406.07 658.18L409.23 659.76L410.81 668.46L436.1 669.25L438.47 672.41L471.82 673.2L503.45 673.73L508.73 674.52L543 675.05" stroke="#a020f0" stroke-width="1.0"/>
<circle cx="398.89" cy="602.84" r="1.2" fill="#a020f0"/><circle cx="413.17" cy="668.51" r="1.2" fill="#a020f0"/><circle cx="427.45" cy="668.96" r="1.2" fill="#a020f0"/><circle cx="441.73" cy="672.47" r="1.2" fill="#a020f0"/><circle cx="456.01" cy="672.81" r="1.2" fill="#a020f0"/><circle cx="470.29" cy="673.15" r="1.2" fill="#a020f0"/><circle cx="484.57" cy="673.4" r="1.2" fill="#a020f0"/><circle cx="498.85" cy="673.64" r="1.2" fill="#a020f0"/><circle cx="513.13" cy="674.58" r="1.2" fill="#a020f0"/><circle cx="527.41" cy="674.8" r="1.2" fill="#a020f0"/>
<path d="M398.95 583.87L400.53 628.14L402.9 640.79L403.69 651.07L413.98 651.46L415.56 652.65L420.3 653.44L426.63 655.02L436.1 658.18L448.75 658.97L450.33 659.76L543 659.76" stroke="#008080" stroke-width="1.0"/>
<circle cx="398.89" cy="583.87" r="1.8" fill="#008080"/><circle cx="413.17" cy="651.4" r="1.8" fill="#008080"/><circle cx="427.45" cy="655.07" r="1.8" fill="#008080"/><circle cx="441.73" cy="658.49" r="1.8" fill="#008080"/><circle cx="456.01" cy="659.76" r="1.8" fill="#008080"/><circle cx="470.29" cy="659.76" r="1.8" fill="#008080"/><circle cx="484.57" cy="659.76" r="1.8" fill="#008080"/><circle cx="498.85" cy="659.76" r="1.8" fill="#008080"/><circle cx="513.13" cy="659.76" r="1.8" fill="#008080"/><circle cx="527.41" cy="659.76" r="1.8" fill="#008080"/>
</g>
<path d="M36.4 717.1H52.7" stroke="#000000" stroke-width="1.25"/>
<path d="M42.53 714.86L47.02 717.1L42.53 719.34Z" fill="#000000"/>
<text transform="translate(54.9 720.1) scale(1 1.1)" font-size="7.5" fill="#111" text-anchor="start">MOOA</text>
<path d="M90.4 718.3H106.7" stroke="#ff0000" stroke-width="1.25"/>
<path d="M98.55 716.12L100.05 718.3L98.55 720.48L97.06 718.3Z" fill="#ff0000"/>
<text transform="translate(108.5 721.3) scale(1 1.1)" font-size="7.5" fill="#111" text-anchor="start">OOA</text>
<path d="M146.4 718.4H162.8" stroke="#0000ff" stroke-width="1.25"/>
<circle cx="154.6" cy="718.4" r="1.84" fill="#2828e0" stroke="#0000ff" stroke-width="0.5"/>
<text transform="translate(164.4 721.4) scale(1 1.1)" font-size="7.5" fill="#111" text-anchor="start">AO</text>
<path d="M202.4 718.4H219.2" stroke="#ff00ff" stroke-width="1.25"/>
<circle cx="210.8" cy="718.4" r="1.44" fill="#ff00ff"/>
<text transform="translate(221 721.4) scale(1 1.1)" font-size="7.5" fill="#111" text-anchor="start">AOA</text>
<path d="M258.2 718.1H275.6" stroke="#00ffff" stroke-width="1.25"/>
<path d="M266.9 715.8L269.2 719.94L264.6 719.94Z" fill="#00ffff"/>
<text transform="translate(277.2 721.1) scale(1 1.1)" font-size="7.5" fill="#111" text-anchor="start">ChOA</text>
<path d="M314 717.6H331.6" stroke="#00ff00" stroke-width="1.25"/>
<path d="M322.8 715.19L323.41 716.76L325.1 716.85L323.78 717.92L324.22 719.55L322.8 718.63L321.38 719.55L321.82 717.92L320.5 716.85L322.19 716.76Z" fill="#00ff00"/>
<text transform="translate(332.8 720.6) scale(1 1.1)" font-size="7.5" fill="#111" text-anchor="start">HHO</text>
<path d="M369.7 718H387" stroke="#ff8000" stroke-width="1.25"/>
<rect x="376.51" y="716.16" width="3.68" height="3.68" fill="#ff8000"/>
<text transform="translate(388.6 721) scale(1 1.1)" font-size="7.5" fill="#111" text-anchor="start">GWO</text>
<path d="M425.6 718.5H443" stroke="#a020f0" stroke-width="1.25"/>
<circle cx="434.3" cy="718.5" r="1.38" fill="#a020f0"/>
<text transform="translate(444.6 721.5) scale(1 1.1)" font-size="7.5" fill="#111" text-anchor="start">RGWO</text>
<path d="M482.6 719.4H500" stroke="#008080" stroke-width="1.25"/>
<circle cx="491.3" cy="719.4" r="2.07" fill="#008080"/>
<text transform="translate(501.2 722.4) scale(1 1.1)" font-size="7.5" fill="#111" text-anchor="start">MPSO</text>
</svg>
</body></html>
